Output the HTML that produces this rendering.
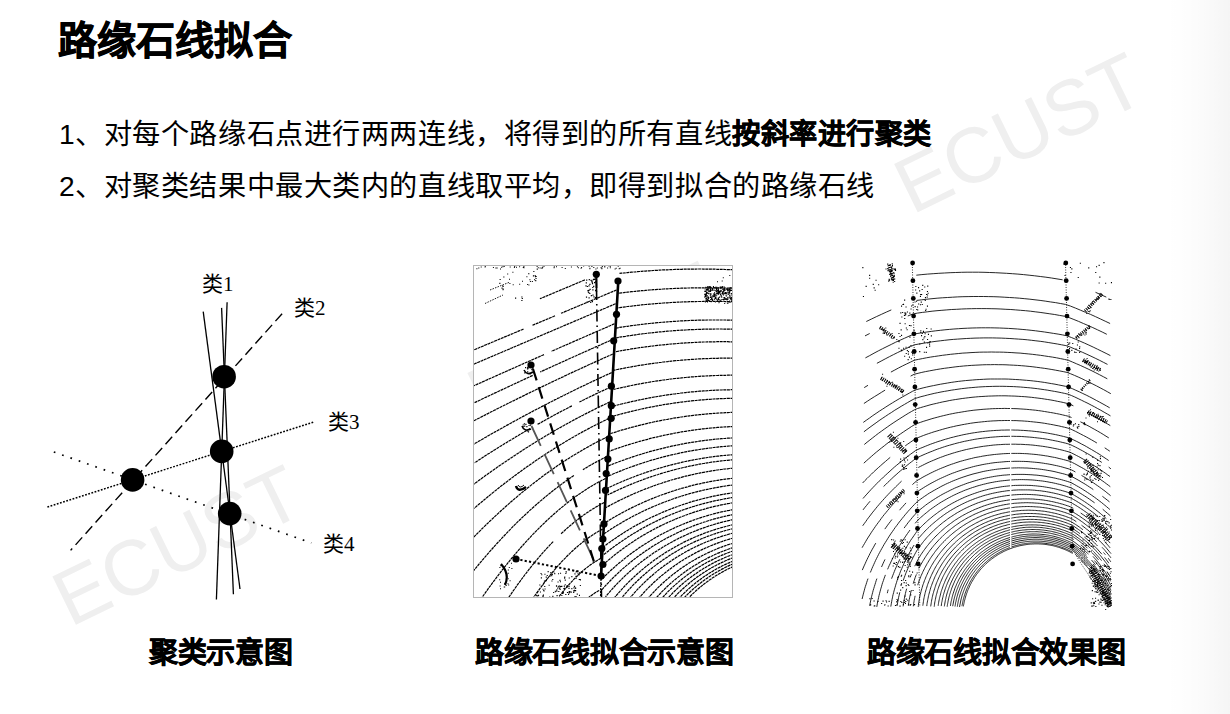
<!DOCTYPE html>
<html lang="zh-CN"><head><meta charset="utf-8">
<style>
html,body{margin:0;padding:0;background:#fff;}
body{width:1230px;height:714px;position:relative;overflow:hidden;font-family:"Liberation Sans",sans-serif;color:#000;}
.abs{position:absolute;}
.t{position:absolute;white-space:nowrap;line-height:1;}
#shade{position:absolute;left:1165px;top:0;width:65px;height:714px;background:linear-gradient(to right,rgba(0,0,0,0) 0%,rgba(0,0,0,0.006) 35%,rgba(0,0,0,0.018) 65%,rgba(0,0,0,0.03) 85%,rgba(0,0,0,0.04) 100%);}
.lbl{position:absolute;font-family:"Liberation Serif",serif;font-size:21px;line-height:1;white-space:nowrap;}
</style></head><body>
<svg class="abs" style="left:0;top:0" width="1230" height="714">
<g fill="#efefef" font-family="Liberation Sans" font-size="78">
<text x="912" y="215" transform="rotate(-26 912 215)">ECUST</text>
<text x="70.3" y="627.5" transform="rotate(-26 70.3 627.5)">ECUST</text>
<text x="485.3" y="424" transform="rotate(-26 485.3 424)">ECUST</text>
</g></svg>
<div class="t" id="title" style="left:58px;top:20.5px;font-size:39px;font-weight:bold;-webkit-text-stroke:0.8px #000;">路缘石线拟合</div>
<div class="t" id="l1" style="left:59px;top:120.3px;font-size:28.2px;letter-spacing:0.56px;">1、对每个路缘石点进行两两连线，将得到的所有直线<b style="-webkit-text-stroke:0.5px #000">按斜率进行聚类</b></div>
<div class="t" id="l2" style="left:59px;top:172px;font-size:28.2px;letter-spacing:0.56px;">2、对聚类结果中最大类内的直线取平均，即得到拟合的路缘石线</div>
<svg class="abs" style="left:0;top:0" width="420" height="620" viewBox="0 0 420 620">
<line x1="203.2" y1="311.7" x2="240" y2="589" stroke="#000" stroke-width="1.3"/>
<line x1="221.6" y1="307.9" x2="233.4" y2="594.2" stroke="#000" stroke-width="1.3"/>
<line x1="227.1" y1="302.3" x2="216.4" y2="599.6" stroke="#000" stroke-width="1.3"/>
<line x1="282.1" y1="313.7" x2="70.6" y2="550.4" stroke="#000" stroke-width="1.4" stroke-dasharray="10 5"/>
<line x1="47.4" y1="507" x2="314" y2="422" stroke="#000" stroke-width="1.5" stroke-dasharray="1.8 1.5"/>
<line x1="53.8" y1="452" x2="311.3" y2="542.9" stroke="#000" stroke-width="1.7" stroke-dasharray="1.7 7.1"/>
<circle cx="224.1" cy="376.7" r="11.8" fill="#000"/>
<circle cx="221.7" cy="451.4" r="11.8" fill="#000"/>
<circle cx="132.6" cy="479.9" r="11.8" fill="#000"/>
<circle cx="229.7" cy="513.6" r="11.8" fill="#000"/>
</svg>
<div class="lbl" style="left:202px;top:274.2px;">类1</div>
<div class="lbl" style="left:294px;top:298.2px;">类2</div>
<div class="lbl" style="left:328px;top:411.8px;">类3</div>
<div class="lbl" style="left:323px;top:534.3px;">类4</div>
<div class="abs" id="img2" style="left:473px;top:265px;width:258px;height:331px;border:1px solid #b5b5b5;background:#fff;overflow:hidden;"><svg width="258" height="331" viewBox="0 0 258 331" style="position:absolute;left:0;top:0">
<path d="M259.5,3.8 L257.5,3.7 L255.5,3.6 L253.5,3.6 L251.5,3.5 L249.5,3.4 L247.5,3.4 L245.5,3.3 L243.5,3.3 L241.5,3.2 L239.5,3.2 L237.5,3.1 L235.5,3.1 L233.5,3.1 L231.5,3.1 L229.5,3.1 L227.5,3.0 L225.5,3.0 L223.5,3.0 L221.5,3.1 L219.5,3.1 L217.5,3.1 L215.5,3.1 L213.5,3.1 L211.5,3.2 L209.5,3.2 L207.5,3.3 L205.5,3.3 L203.5,3.4 L201.5,3.4 L199.5,3.5 L197.5,3.6 L195.5,3.7 L193.5,3.8 L191.5,3.8 L189.5,3.9 L187.5,4.0 L185.5,4.1 L183.5,4.3 L181.5,4.4 L179.5,4.5 L177.5,4.6 L175.5,4.8 L173.5,4.9 L171.5,5.1 L169.5,5.2 L167.5,5.4 L165.5,5.5 L163.5,5.7 L161.5,5.9 L159.5,6.0 L157.5,6.2 L155.5,6.4 L153.5,6.6 L151.5,6.8 L149.5,7.0 L147.5,7.2 L145.5,7.4 M259.5,22.3 L257.5,22.2 L255.5,22.2 L253.5,22.1 L251.5,22.0 L249.5,22.0 L247.5,21.9 L245.5,21.9 L243.5,21.9 L241.5,21.8 L239.5,21.8 L237.5,21.8 L235.5,21.8 L233.5,21.8 L231.5,21.8 L229.5,21.8 L227.5,21.8 L225.5,21.8 L223.5,21.8 L221.5,21.8 L219.5,21.9 L217.5,21.9 L215.5,22.0 L213.5,22.0 L211.5,22.1 L209.5,22.1 L207.5,22.2 L205.5,22.3 L203.5,22.3 L201.5,22.4 L199.5,22.5 L197.5,22.6 L195.5,22.7 L193.5,22.8 L191.5,22.9 L189.5,23.0 L187.5,23.2 L185.5,23.3 L183.5,23.4 L181.5,23.6 L179.5,23.7 L177.5,23.9 L175.5,24.0 L173.5,24.2 L171.5,24.4 L169.5,24.6 L167.5,24.7 L165.5,24.9 L163.5,25.1 L161.5,25.3 L159.5,25.5 L157.5,25.7 L155.5,26.0 L153.5,26.2 L151.5,26.4 L149.5,26.7 L147.5,26.9 L145.5,27.1 L143.5,27.4 M259.5,35.8 L257.5,35.7 L255.5,35.7 L253.5,35.6 L251.5,35.6 L249.5,35.5 L247.5,35.5 L245.5,35.5 L243.5,35.4 L241.5,35.4 L239.5,35.4 L237.5,35.4 L235.5,35.4 L233.5,35.4 L231.5,35.4 L229.5,35.4 L227.5,35.5 L225.5,35.5 L223.5,35.5 L221.5,35.6 L219.5,35.6 L217.5,35.7 L215.5,35.7 L213.5,35.8 L211.5,35.9 L209.5,35.9 L207.5,36.0 L205.5,36.1 L203.5,36.2 L201.5,36.3 L199.5,36.4 L197.5,36.5 L195.5,36.6 L193.5,36.8 L191.5,36.9 L189.5,37.0 L187.5,37.2 L185.5,37.3 L183.5,37.5 L181.5,37.6 L179.5,37.8 L177.5,38.0 L175.5,38.2 L173.5,38.4 L171.5,38.5 L169.5,38.7 L167.5,38.9 L165.5,39.2 L163.5,39.4 L161.5,39.6 L159.5,39.8 L157.5,40.1 L155.5,40.3 L153.5,40.5 L151.5,40.8 L149.5,41.1 L147.5,41.3 L145.5,41.6 L143.5,41.9 M259.5,54.2 L257.5,54.2 L255.5,54.1 L253.5,54.1 L251.5,54.0 L249.5,54.0 L247.5,54.0 L245.5,54.0 L243.5,54.0 L241.5,54.0 L239.5,54.0 L237.5,54.0 L235.5,54.0 L233.5,54.0 L231.5,54.1 L229.5,54.1 L227.5,54.1 L225.5,54.2 L223.5,54.2 L221.5,54.3 L219.5,54.4 L217.5,54.4 L215.5,54.5 L213.5,54.6 L211.5,54.7 L209.5,54.8 L207.5,54.9 L205.5,55.0 L203.5,55.2 L201.5,55.3 L199.5,55.4 L197.5,55.6 L195.5,55.7 L193.5,55.8 L191.5,56.0 L189.5,56.2 L187.5,56.3 L185.5,56.5 L183.5,56.7 L181.5,56.9 L179.5,57.1 L177.5,57.3 L175.5,57.5 L173.5,57.7 L171.5,57.9 L169.5,58.2 L167.5,58.4 L165.5,58.7 L163.5,58.9 L161.5,59.2 L159.5,59.4 L157.5,59.7 L155.5,60.0 L153.5,60.3 L151.5,60.5 L149.5,60.8 L147.5,61.1 L145.5,61.4 L143.5,61.8 L141.5,62.1 M259.5,63.2 L257.5,63.2 L255.5,63.1 L253.5,63.1 L251.5,63.1 L249.5,63.1 L247.5,63.0 L245.5,63.0 L243.5,63.0 L241.5,63.0 L239.5,63.1 L237.5,63.1 L235.5,63.1 L233.5,63.1 L231.5,63.2 L229.5,63.2 L227.5,63.3 L225.5,63.3 L223.5,63.4 L221.5,63.5 L219.5,63.6 L217.5,63.7 L215.5,63.7 L213.5,63.8 L211.5,64.0 L209.5,64.1 L207.5,64.2 L205.5,64.3 L203.5,64.4 L201.5,64.6 L199.5,64.7 L197.5,64.9 L195.5,65.0 L193.5,65.2 L191.5,65.4 L189.5,65.6 L187.5,65.8 L185.5,65.9 L183.5,66.1 L181.5,66.4 L179.5,66.6 L177.5,66.8 L175.5,67.0 L173.5,67.2 L171.5,67.5 L169.5,67.7 L167.5,68.0 L165.5,68.2 L163.5,68.5 L161.5,68.8 L159.5,69.1 L157.5,69.4 L155.5,69.6 L153.5,69.9 L151.5,70.3 L149.5,70.6 L147.5,70.9 L145.5,71.2 L143.5,71.6 L141.5,71.9 M259.5,75.8 L257.5,75.8 L255.5,75.8 L253.5,75.7 L251.5,75.7 L249.5,75.7 L247.5,75.7 L245.5,75.7 L243.5,75.7 L241.5,75.8 L239.5,75.8 L237.5,75.8 L235.5,75.9 L233.5,75.9 L231.5,76.0 L229.5,76.0 L227.5,76.1 L225.5,76.2 L223.5,76.3 L221.5,76.4 L219.5,76.5 L217.5,76.6 L215.5,76.7 L213.5,76.8 L211.5,76.9 L209.5,77.1 L207.5,77.2 L205.5,77.3 L203.5,77.5 L201.5,77.7 L199.5,77.8 L197.5,78.0 L195.5,78.2 L193.5,78.4 L191.5,78.6 L189.5,78.8 L187.5,79.0 L185.5,79.2 L183.5,79.4 L181.5,79.6 L179.5,79.9 L177.5,80.1 L175.5,80.4 L173.5,80.6 L171.5,80.9 L169.5,81.2 L167.5,81.4 L165.5,81.7 L163.5,82.0 L161.5,82.3 L159.5,82.6 L157.5,82.9 L155.5,83.3 L153.5,83.6 L151.5,83.9 L149.5,84.3 L147.5,84.6 L145.5,85.0 L143.5,85.4 L141.5,85.7 M259.5,92.2 L257.5,92.2 L255.5,92.2 L253.5,92.2 L251.5,92.2 L249.5,92.2 L247.5,92.2 L245.5,92.2 L243.5,92.3 L241.5,92.3 L239.5,92.4 L237.5,92.4 L235.5,92.5 L233.5,92.6 L231.5,92.7 L229.5,92.7 L227.5,92.8 L225.5,92.9 L223.5,93.0 L221.5,93.2 L219.5,93.3 L217.5,93.4 L215.5,93.6 L213.5,93.7 L211.5,93.8 L209.5,94.0 L207.5,94.2 L205.5,94.4 L203.5,94.5 L201.5,94.7 L199.5,94.9 L197.5,95.1 L195.5,95.3 L193.5,95.6 L191.5,95.8 L189.5,96.0 L187.5,96.3 L185.5,96.5 L183.5,96.8 L181.5,97.0 L179.5,97.3 L177.5,97.6 L175.5,97.9 L173.5,98.2 L171.5,98.5 L169.5,98.8 L167.5,99.1 L165.5,99.4 L163.5,99.7 L161.5,100.1 L159.5,100.4 L157.5,100.8 L155.5,101.2 L153.5,101.5 L151.5,101.9 L149.5,102.3 L147.5,102.7 L145.5,103.1 L143.5,103.5 L141.5,103.9 L139.5,104.3 M259.5,109.2 L257.5,109.2 L255.5,109.2 L253.5,109.2 L251.5,109.3 L249.5,109.3 L247.5,109.3 L245.5,109.4 L243.5,109.5 L241.5,109.5 L239.5,109.6 L237.5,109.7 L235.5,109.8 L233.5,109.9 L231.5,110.0 L229.5,110.1 L227.5,110.2 L225.5,110.3 L223.5,110.5 L221.5,110.6 L219.5,110.8 L217.5,110.9 L215.5,111.1 L213.5,111.3 L211.5,111.5 L209.5,111.7 L207.5,111.9 L205.5,112.1 L203.5,112.3 L201.5,112.5 L199.5,112.7 L197.5,113.0 L195.5,113.2 L193.5,113.5 L191.5,113.8 L189.5,114.0 L187.5,114.3 L185.5,114.6 L183.5,114.9 L181.5,115.2 L179.5,115.5 L177.5,115.8 L175.5,116.2 L173.5,116.5 L171.5,116.8 L169.5,117.2 L167.5,117.6 L165.5,117.9 L163.5,118.3 L161.5,118.7 L159.5,119.1 L157.5,119.5 L155.5,119.9 L153.5,120.3 L151.5,120.8 L149.5,121.2 L147.5,121.6 L145.5,122.1 L143.5,122.5 L141.5,123.0 L139.5,123.5 M259.5,123.7 L257.5,123.7 L255.5,123.8 L253.5,123.8 L251.5,123.8 L249.5,123.9 L247.5,124.0 L245.5,124.0 L243.5,124.1 L241.5,124.2 L239.5,124.3 L237.5,124.4 L235.5,124.5 L233.5,124.7 L231.5,124.8 L229.5,124.9 L227.5,125.1 L225.5,125.2 L223.5,125.4 L221.5,125.6 L219.5,125.8 L217.5,125.9 L215.5,126.1 L213.5,126.4 L211.5,126.6 L209.5,126.8 L207.5,127.0 L205.5,127.3 L203.5,127.5 L201.5,127.8 L199.5,128.0 L197.5,128.3 L195.5,128.6 L193.5,128.9 L191.5,129.2 L189.5,129.5 L187.5,129.8 L185.5,130.2 L183.5,130.5 L181.5,130.8 L179.5,131.2 L177.5,131.5 L175.5,131.9 L173.5,132.3 L171.5,132.7 L169.5,133.1 L167.5,133.5 L165.5,133.9 L163.5,134.3 L161.5,134.8 L159.5,135.2 L157.5,135.6 L155.5,136.1 L153.5,136.6 L151.5,137.0 L149.5,137.5 L147.5,138.0 L145.5,138.5 L143.5,139.0 L141.5,139.6 L139.5,140.1 L137.5,140.6 M259.5,132.3 L257.5,132.3 L255.5,132.4 L253.5,132.4 L251.5,132.5 L249.5,132.6 L247.5,132.6 L245.5,132.7 L243.5,132.8 L241.5,132.9 L239.5,133.0 L237.5,133.2 L235.5,133.3 L233.5,133.4 L231.5,133.6 L229.5,133.8 L227.5,133.9 L225.5,134.1 L223.5,134.3 L221.5,134.5 L219.5,134.7 L217.5,134.9 L215.5,135.1 L213.5,135.3 L211.5,135.6 L209.5,135.8 L207.5,136.1 L205.5,136.3 L203.5,136.6 L201.5,136.9 L199.5,137.2 L197.5,137.5 L195.5,137.8 L193.5,138.1 L191.5,138.4 L189.5,138.7 L187.5,139.1 L185.5,139.4 L183.5,139.8 L181.5,140.2 L179.5,140.6 L177.5,140.9 L175.5,141.3 L173.5,141.7 L171.5,142.2 L169.5,142.6 L167.5,143.0 L165.5,143.5 L163.5,143.9 L161.5,144.4 L159.5,144.8 L157.5,145.3 L155.5,145.8 L153.5,146.3 L151.5,146.8 L149.5,147.3 L147.5,147.9 L145.5,148.4 L143.5,149.0 L141.5,149.5 L139.5,150.1 L137.5,150.7 M259.5,146.4 L257.5,146.4 L255.5,146.5 L253.5,146.6 L251.5,146.7 L249.5,146.8 L247.5,146.9 L245.5,147.0 L243.5,147.1 L241.5,147.3 L239.5,147.4 L237.5,147.6 L235.5,147.7 L233.5,147.9 L231.5,148.1 L229.5,148.3 L227.5,148.5 L225.5,148.7 L223.5,148.9 L221.5,149.1 L219.5,149.3 L217.5,149.6 L215.5,149.8 L213.5,150.1 L211.5,150.4 L209.5,150.7 L207.5,151.0 L205.5,151.3 L203.5,151.6 L201.5,151.9 L199.5,152.2 L197.5,152.6 L195.5,152.9 L193.5,153.3 L191.5,153.6 L189.5,154.0 L187.5,154.4 L185.5,154.8 L183.5,155.2 L181.5,155.6 L179.5,156.0 L177.5,156.5 L175.5,156.9 L173.5,157.4 L171.5,157.9 L169.5,158.3 L167.5,158.8 L165.5,159.3 L163.5,159.8 L161.5,160.3 L159.5,160.9 L157.5,161.4 L155.5,161.9 L153.5,162.5 L151.5,163.1 L149.5,163.7 L147.5,164.2 L145.5,164.8 L143.5,165.4 L141.5,166.1 L139.5,166.7 L137.5,167.3 L135.5,168.0 M259.5,160.5 L257.5,160.6 L255.5,160.7 L253.5,160.8 L251.5,160.9 L249.5,161.0 L247.5,161.1 L245.5,161.3 L243.5,161.4 L241.5,161.6 L239.5,161.8 L237.5,162.0 L235.5,162.2 L233.5,162.4 L231.5,162.6 L229.5,162.8 L227.5,163.0 L225.5,163.3 L223.5,163.5 L221.5,163.8 L219.5,164.1 L217.5,164.4 L215.5,164.7 L213.5,165.0 L211.5,165.3 L209.5,165.6 L207.5,165.9 L205.5,166.3 L203.5,166.7 L201.5,167.0 L199.5,167.4 L197.5,167.8 L195.5,168.2 L193.5,168.6 L191.5,169.0 L189.5,169.4 L187.5,169.9 L185.5,170.3 L183.5,170.8 L181.5,171.3 L179.5,171.7 L177.5,172.2 L175.5,172.7 L173.5,173.3 L171.5,173.8 L169.5,174.3 L167.5,174.9 L165.5,175.4 L163.5,176.0 L161.5,176.6 L159.5,177.2 L157.5,177.8 L155.5,178.4 L153.5,179.0 L151.5,179.6 L149.5,180.3 L147.5,181.0 L145.5,181.6 L143.5,182.3 L141.5,183.0 L139.5,183.7 L137.5,184.4 L135.5,185.2 M259.5,171.9 L257.5,172.0 L255.5,172.1 L253.5,172.2 L251.5,172.4 L249.5,172.5 L247.5,172.7 L245.5,172.9 L243.5,173.0 L241.5,173.2 L239.5,173.4 L237.5,173.7 L235.5,173.9 L233.5,174.1 L231.5,174.4 L229.5,174.6 L227.5,174.9 L225.5,175.2 L223.5,175.5 L221.5,175.8 L219.5,176.1 L217.5,176.4 L215.5,176.7 L213.5,177.1 L211.5,177.4 L209.5,177.8 L207.5,178.2 L205.5,178.6 L203.5,179.0 L201.5,179.4 L199.5,179.8 L197.5,180.2 L195.5,180.7 L193.5,181.1 L191.5,181.6 L189.5,182.1 L187.5,182.6 L185.5,183.1 L183.5,183.6 L181.5,184.1 L179.5,184.6 L177.5,185.2 L175.5,185.7 L173.5,186.3 L171.5,186.9 L169.5,187.5 L167.5,188.1 L165.5,188.7 L163.5,189.3 L161.5,190.0 L159.5,190.6 L157.5,191.3 L155.5,192.0 L153.5,192.6 L151.5,193.3 L149.5,194.1 L147.5,194.8 L145.5,195.5 L143.5,196.3 L141.5,197.0 L139.5,197.8 L137.5,198.6 L135.5,199.4 L133.5,200.2 M259.5,179.8 L257.5,179.9 L255.5,180.0 L253.5,180.2 L251.5,180.3 L249.5,180.5 L247.5,180.7 L245.5,180.9 L243.5,181.1 L241.5,181.3 L239.5,181.5 L237.5,181.8 L235.5,182.0 L233.5,182.3 L231.5,182.6 L229.5,182.9 L227.5,183.1 L225.5,183.5 L223.5,183.8 L221.5,184.1 L219.5,184.4 L217.5,184.8 L215.5,185.1 L213.5,185.5 L211.5,185.9 L209.5,186.3 L207.5,186.7 L205.5,187.1 L203.5,187.6 L201.5,188.0 L199.5,188.5 L197.5,188.9 L195.5,189.4 L193.5,189.9 L191.5,190.4 L189.5,190.9 L187.5,191.4 L185.5,192.0 L183.5,192.5 L181.5,193.1 L179.5,193.7 L177.5,194.2 L175.5,194.8 L173.5,195.5 L171.5,196.1 L169.5,196.7 L167.5,197.4 L165.5,198.0 L163.5,198.7 L161.5,199.4 L159.5,200.1 L157.5,200.8 L155.5,201.5 L153.5,202.3 L151.5,203.0 L149.5,203.8 L147.5,204.6 L145.5,205.4 L143.5,206.2 L141.5,207.0 L139.5,207.8 L137.5,208.7 L135.5,209.5 L133.5,210.4 M259.5,188.7 L257.5,188.8 L255.5,189.0 L253.5,189.2 L251.5,189.3 L249.5,189.5 L247.5,189.7 L245.5,190.0 L243.5,190.2 L241.5,190.4 L239.5,190.7 L237.5,191.0 L235.5,191.2 L233.5,191.5 L231.5,191.8 L229.5,192.1 L227.5,192.5 L225.5,192.8 L223.5,193.2 L221.5,193.5 L219.5,193.9 L217.5,194.3 L215.5,194.7 L213.5,195.1 L211.5,195.5 L209.5,195.9 L207.5,196.4 L205.5,196.9 L203.5,197.3 L201.5,197.8 L199.5,198.3 L197.5,198.8 L195.5,199.3 L193.5,199.9 L191.5,200.4 L189.5,201.0 L187.5,201.6 L185.5,202.1 L183.5,202.7 L181.5,203.3 L179.5,204.0 L177.5,204.6 L175.5,205.3 L173.5,205.9 L171.5,206.6 L169.5,207.3 L167.5,208.0 L165.5,208.7 L163.5,209.4 L161.5,210.2 L159.5,211.0 L157.5,211.7 L155.5,212.5 L153.5,213.3 L151.5,214.1 L149.5,215.0 L147.5,215.8 L145.5,216.7 L143.5,217.5 L141.5,218.4 L139.5,219.3 L137.5,220.3 L135.5,221.2 L133.5,222.2 M259.5,193.8 L257.5,193.9 L255.5,194.1 L253.5,194.3 L251.5,194.5 L249.5,194.7 L247.5,194.9 L245.5,195.2 L243.5,195.4 L241.5,195.7 L239.5,195.9 L237.5,196.2 L235.5,196.5 L233.5,196.8 L231.5,197.2 L229.5,197.5 L227.5,197.8 L225.5,198.2 L223.5,198.6 L221.5,199.0 L219.5,199.3 L217.5,199.8 L215.5,200.2 L213.5,200.6 L211.5,201.1 L209.5,201.5 L207.5,202.0 L205.5,202.5 L203.5,203.0 L201.5,203.5 L199.5,204.0 L197.5,204.5 L195.5,205.1 L193.5,205.6 L191.5,206.2 L189.5,206.8 L187.5,207.4 L185.5,208.0 L183.5,208.7 L181.5,209.3 L179.5,210.0 L177.5,210.6 L175.5,211.3 L173.5,212.0 L171.5,212.7 L169.5,213.4 L167.5,214.2 L165.5,214.9 L163.5,215.7 L161.5,216.5 L159.5,217.3 L157.5,218.1 L155.5,218.9 L153.5,219.8 L151.5,220.6 L149.5,221.5 L147.5,222.4 L145.5,223.3 L143.5,224.2 L141.5,225.1 L139.5,226.1 L137.5,227.1 L135.5,228.0 L133.5,229.0 M259.5,202.2 L257.5,202.3 L255.5,202.5 L253.5,202.8 L251.5,203.0 L249.5,203.2 L247.5,203.5 L245.5,203.7 L243.5,204.0 L241.5,204.3 L239.5,204.6 L237.5,204.9 L235.5,205.3 L233.5,205.6 L231.5,206.0 L229.5,206.3 L227.5,206.7 L225.5,207.1 L223.5,207.5 L221.5,207.9 L219.5,208.4 L217.5,208.8 L215.5,209.3 L213.5,209.8 L211.5,210.2 L209.5,210.7 L207.5,211.3 L205.5,211.8 L203.5,212.3 L201.5,212.9 L199.5,213.5 L197.5,214.0 L195.5,214.6 L193.5,215.2 L191.5,215.9 L189.5,216.5 L187.5,217.2 L185.5,217.8 L183.5,218.5 L181.5,219.2 L179.5,219.9 L177.5,220.7 L175.5,221.4 L173.5,222.2 L171.5,222.9 L169.5,223.7 L167.5,224.5 L165.5,225.3 L163.5,226.2 L161.5,227.0 L159.5,227.9 L157.5,228.8 L155.5,229.7 L153.5,230.6 L151.5,231.5 L149.5,232.5 L147.5,233.5 L145.5,234.4 L143.5,235.4 L141.5,236.5 L139.5,237.5 L137.5,238.5 L135.5,239.6 L133.5,240.7 L131.5,241.8 M259.5,212.1 L257.5,212.4 L255.5,212.6 L253.5,212.9 L251.5,213.1 L249.5,213.4 L247.5,213.7 L245.5,214.0 L243.5,214.3 L241.5,214.6 L239.5,215.0 L237.5,215.3 L235.5,215.7 L233.5,216.1 L231.5,216.5 L229.5,216.9 L227.5,217.3 L225.5,217.8 L223.5,218.2 L221.5,218.7 L219.5,219.2 L217.5,219.7 L215.5,220.2 L213.5,220.8 L211.5,221.3 L209.5,221.9 L207.5,222.4 L205.5,223.0 L203.5,223.6 L201.5,224.2 L199.5,224.9 L197.5,225.5 L195.5,226.2 L193.5,226.9 L191.5,227.6 L189.5,228.3 L187.5,229.0 L185.5,229.7 L183.5,230.5 L181.5,231.3 L179.5,232.1 L177.5,232.9 L175.5,233.7 L173.5,234.5 L171.5,235.4 L169.5,236.3 L167.5,237.2 L165.5,238.1 L163.5,239.0 L161.5,240.0 L159.5,240.9 L157.5,241.9 L155.5,242.9 L153.5,243.9 L151.5,245.0 L149.5,246.0 L147.5,247.1 L145.5,248.2 L143.5,249.3 L141.5,250.4 L139.5,251.6 L137.5,252.8 L135.5,254.0 L133.5,255.2 L131.5,256.4 M259.5,218.9 L257.5,219.2 L255.5,219.4 L253.5,219.7 L251.5,220.0 L249.5,220.3 L247.5,220.6 L245.5,221.0 L243.5,221.3 L241.5,221.7 L239.5,222.1 L237.5,222.5 L235.5,222.9 L233.5,223.3 L231.5,223.7 L229.5,224.2 L227.5,224.6 L225.5,225.1 L223.5,225.6 L221.5,226.1 L219.5,226.6 L217.5,227.2 L215.5,227.7 L213.5,228.3 L211.5,228.9 L209.5,229.5 L207.5,230.1 L205.5,230.8 L203.5,231.4 L201.5,232.1 L199.5,232.8 L197.5,233.5 L195.5,234.2 L193.5,234.9 L191.5,235.7 L189.5,236.4 L187.5,237.2 L185.5,238.0 L183.5,238.8 L181.5,239.7 L179.5,240.5 L177.5,241.4 L175.5,242.3 L173.5,243.2 L171.5,244.1 L169.5,245.0 L167.5,246.0 L165.5,247.0 L163.5,248.0 L161.5,249.0 L159.5,250.0 L157.5,251.1 L155.5,252.2 L153.5,253.3 L151.5,254.4 L149.5,255.5 L147.5,256.7 L145.5,257.9 L143.5,259.1 L141.5,260.3 L139.5,261.6 L137.5,262.8 L135.5,264.1 L133.5,265.5 L131.5,266.8 L129.5,268.2 M259.5,226.7 L257.5,227.0 L255.5,227.3 L253.5,227.6 L251.5,227.9 L249.5,228.3 L247.5,228.6 L245.5,229.0 L243.5,229.4 L241.5,229.8 L239.5,230.2 L237.5,230.6 L235.5,231.1 L233.5,231.6 L231.5,232.0 L229.5,232.5 L227.5,233.0 L225.5,233.6 L223.5,234.1 L221.5,234.7 L219.5,235.2 L217.5,235.8 L215.5,236.4 L213.5,237.1 L211.5,237.7 L209.5,238.4 L207.5,239.1 L205.5,239.7 L203.5,240.5 L201.5,241.2 L199.5,241.9 L197.5,242.7 L195.5,243.5 L193.5,244.3 L191.5,245.1 L189.5,245.9 L187.5,246.8 L185.5,247.7 L183.5,248.6 L181.5,249.5 L179.5,250.4 L177.5,251.4 L175.5,252.3 L173.5,253.3 L171.5,254.3 L169.5,255.4 L167.5,256.4 L165.5,257.5 L163.5,258.6 L161.5,259.7 L159.5,260.8 L157.5,262.0 L155.5,263.2 L153.5,264.4 L151.5,265.6 L149.5,266.9 L147.5,268.2 L145.5,269.5 L143.5,270.8 L141.5,272.2 L139.5,273.5 L137.5,274.9 L135.5,276.4 L133.5,277.8 L131.5,279.3 L129.5,280.9 M259.5,231.4 L257.5,231.7 L255.5,232.0 L253.5,232.4 L251.5,232.7 L249.5,233.1 L247.5,233.5 L245.5,233.9 L243.5,234.3 L241.5,234.7 L239.5,235.1 L237.5,235.6 L235.5,236.1 L233.5,236.6 L231.5,237.1 L229.5,237.6 L227.5,238.1 L225.5,238.7 L223.5,239.3 L221.5,239.9 L219.5,240.5 L217.5,241.1 L215.5,241.8 L213.5,242.4 L211.5,243.1 L209.5,243.8 L207.5,244.5 L205.5,245.2 L203.5,246.0 L201.5,246.8 L199.5,247.6 L197.5,248.4 L195.5,249.2 L193.5,250.0 L191.5,250.9 L189.5,251.8 L187.5,252.7 L185.5,253.6 L183.5,254.6 L181.5,255.5 L179.5,256.5 L177.5,257.5 L175.5,258.5 L173.5,259.6 L171.5,260.7 L169.5,261.8 L167.5,262.9 L165.5,264.0 L163.5,265.2 L161.5,266.4 L159.5,267.6 L157.5,268.8 L155.5,270.1 L153.5,271.3 L151.5,272.7 L149.5,274.0 L147.5,275.4 L145.5,276.7 L143.5,278.2 L141.5,279.6 L139.5,281.1 L137.5,282.6 L135.5,284.1 L133.5,285.7 L131.5,287.3 L129.5,288.9 M259.5,236.7 L257.5,237.0 L255.5,237.4 L253.5,237.7 L251.5,238.1 L249.5,238.5 L247.5,238.9 L245.5,239.3 L243.5,239.8 L241.5,240.2 L239.5,240.7 L237.5,241.2 L235.5,241.7 L233.5,242.2 L231.5,242.8 L229.5,243.4 L227.5,243.9 L225.5,244.5 L223.5,245.1 L221.5,245.8 L219.5,246.4 L217.5,247.1 L215.5,247.8 L213.5,248.5 L211.5,249.2 L209.5,250.0 L207.5,250.7 L205.5,251.5 L203.5,252.3 L201.5,253.1 L199.5,254.0 L197.5,254.8 L195.5,255.7 L193.5,256.6 L191.5,257.5 L189.5,258.5 L187.5,259.4 L185.5,260.4 L183.5,261.4 L181.5,262.5 L179.5,263.5 L177.5,264.6 L175.5,265.7 L173.5,266.8 L171.5,268.0 L169.5,269.1 L167.5,270.3 L165.5,271.6 L163.5,272.8 L161.5,274.1 L159.5,275.4 L157.5,276.7 L155.5,278.1 L153.5,279.4 L151.5,280.8 L149.5,282.3 L147.5,283.8 L145.5,285.2 L143.5,286.8 L141.5,288.3 L139.5,289.9 L137.5,291.6 L135.5,293.2 L133.5,294.9 L131.5,296.6 L129.5,298.4 M259.5,243.5 L257.5,243.9 L255.5,244.3 L253.5,244.6 L251.5,245.1 L249.5,245.5 L247.5,245.9 L245.5,246.4 L243.5,246.9 L241.5,247.4 L239.5,247.9 L237.5,248.5 L235.5,249.0 L233.5,249.6 L231.5,250.2 L229.5,250.8 L227.5,251.4 L225.5,252.1 L223.5,252.7 L221.5,253.4 L219.5,254.1 L217.5,254.9 L215.5,255.6 L213.5,256.4 L211.5,257.2 L209.5,258.0 L207.5,258.8 L205.5,259.7 L203.5,260.5 L201.5,261.4 L199.5,262.4 L197.5,263.3 L195.5,264.3 L193.5,265.2 L191.5,266.3 L189.5,267.3 L187.5,268.3 L185.5,269.4 L183.5,270.5 L181.5,271.6 L179.5,272.8 L177.5,274.0 L175.5,275.2 L173.5,276.4 L171.5,277.7 L169.5,279.0 L167.5,280.3 L165.5,281.6 L163.5,283.0 L161.5,284.4 L159.5,285.8 L157.5,287.3 L155.5,288.8 L153.5,290.3 L151.5,291.9 L149.5,293.5 L147.5,295.1 L145.5,296.7 L143.5,298.4 L141.5,300.2 L139.5,302.0 L137.5,303.8 L135.5,305.6 L133.5,307.5 L131.5,309.5 L129.5,311.5 L127.5,313.5 M259.5,248.5 L257.5,248.9 L255.5,249.3 L253.5,249.7 L251.5,250.2 L249.5,250.6 L247.5,251.1 L245.5,251.6 L243.5,252.1 L241.5,252.7 L239.5,253.2 L237.5,253.8 L235.5,254.4 L233.5,255.0 L231.5,255.7 L229.5,256.3 L227.5,257.0 L225.5,257.7 L223.5,258.4 L221.5,259.1 L219.5,259.9 L217.5,260.7 L215.5,261.5 L213.5,262.3 L211.5,263.1 L209.5,264.0 L207.5,264.9 L205.5,265.8 L203.5,266.7 L201.5,267.7 L199.5,268.7 L197.5,269.7 L195.5,270.7 L193.5,271.7 L191.5,272.8 L189.5,273.9 L187.5,275.1 L185.5,276.2 L183.5,277.4 L181.5,278.6 L179.5,279.8 L177.5,281.1 L175.5,282.4 L173.5,283.7 L171.5,285.1 L169.5,286.5 L167.5,287.9 L165.5,289.3 L163.5,290.8 L161.5,292.3 L159.5,293.9 L157.5,295.4 L155.5,297.1 L153.5,298.7 L151.5,300.4 L149.5,302.1 L147.5,303.9 L145.5,305.7 L143.5,307.6 L141.5,309.5 L139.5,311.4 L137.5,313.4 L135.5,315.5 L133.5,317.6 L131.5,319.7 L129.5,321.9 L127.5,324.2 M259.5,253.5 L257.5,253.9 L255.5,254.4 L253.5,254.8 L251.5,255.3 L249.5,255.8 L247.5,256.3 L245.5,256.8 L243.5,257.4 L241.5,258.0 L239.5,258.6 L237.5,259.2 L235.5,259.8 L233.5,260.5 L231.5,261.2 L229.5,261.9 L227.5,262.6 L225.5,263.3 L223.5,264.1 L221.5,264.9 L219.5,265.7 L217.5,266.5 L215.5,267.4 L213.5,268.3 L211.5,269.2 L209.5,270.1 L207.5,271.0 L205.5,272.0 L203.5,273.0 L201.5,274.0 L199.5,275.1 L197.5,276.2 L195.5,277.3 L193.5,278.4 L191.5,279.6 L189.5,280.7 L187.5,282.0 L185.5,283.2 L183.5,284.5 L181.5,285.8 L179.5,287.1 L177.5,288.5 L175.5,289.9 L173.5,291.3 L171.5,292.8 L169.5,294.3 L167.5,295.8 L165.5,297.4 L163.5,299.0 L161.5,300.6 L159.5,302.3 L157.5,304.0 L155.5,305.8 L153.5,307.6 L151.5,309.4 L149.5,311.3 L147.5,313.3 L145.5,315.3 L143.5,317.3 L141.5,319.4 L139.5,321.6 L137.5,323.8 L135.5,326.1 L133.5,328.4 L131.5,330.8 M259.5,258.6 L257.5,259.0 L255.5,259.5 L253.5,260.0 L251.5,260.5 L249.5,261.1 L247.5,261.6 L245.5,262.2 L243.5,262.8 L241.5,263.4 L239.5,264.1 L237.5,264.7 L235.5,265.4 L233.5,266.1 L231.5,266.8 L229.5,267.6 L227.5,268.4 L225.5,269.2 L223.5,270.0 L221.5,270.8 L219.5,271.7 L217.5,272.6 L215.5,273.5 L213.5,274.5 L211.5,275.4 L209.5,276.4 L207.5,277.5 L205.5,278.5 L203.5,279.6 L201.5,280.7 L199.5,281.8 L197.5,283.0 L195.5,284.2 L193.5,285.4 L191.5,286.6 L189.5,287.9 L187.5,289.2 L185.5,290.6 L183.5,291.9 L181.5,293.3 L179.5,294.8 L177.5,296.3 L175.5,297.8 L173.5,299.3 L171.5,300.9 L169.5,302.6 L167.5,304.2 L165.5,306.0 L163.5,307.7 L161.5,309.5 L159.5,311.4 L157.5,313.3 L155.5,315.2 L153.5,317.2 L151.5,319.3 L149.5,321.4 L147.5,323.6 L145.5,325.8 L143.5,328.1 L141.5,330.4 L139.5,332.9 M259.5,262.5 L257.5,263.0 L255.5,263.5 L253.5,264.0 L251.5,264.5 L249.5,265.1 L247.5,265.7 L245.5,266.3 L243.5,266.9 L241.5,267.6 L239.5,268.3 L237.5,269.0 L235.5,269.7 L233.5,270.4 L231.5,271.2 L229.5,272.0 L227.5,272.8 L225.5,273.7 L223.5,274.6 L221.5,275.4 L219.5,276.4 L217.5,277.3 L215.5,278.3 L213.5,279.3 L211.5,280.3 L209.5,281.4 L207.5,282.4 L205.5,283.6 L203.5,284.7 L201.5,285.9 L199.5,287.1 L197.5,288.3 L195.5,289.6 L193.5,290.9 L191.5,292.2 L189.5,293.5 L187.5,294.9 L185.5,296.4 L183.5,297.8 L181.5,299.4 L179.5,300.9 L177.5,302.5 L175.5,304.1 L173.5,305.8 L171.5,307.5 L169.5,309.2 L167.5,311.0 L165.5,312.9 L163.5,314.8 L161.5,316.7 L159.5,318.7 L157.5,320.8 L155.5,322.9 L153.5,325.1 L151.5,327.3 L149.5,329.7 L147.5,332.0 M259.5,267.0 L257.5,267.5 L255.5,268.0 L253.5,268.6 L251.5,269.2 L249.5,269.8 L247.5,270.4 L245.5,271.1 L243.5,271.7 L241.5,272.4 L239.5,273.2 L237.5,273.9 L235.5,274.7 L233.5,275.5 L231.5,276.3 L229.5,277.2 L227.5,278.0 L225.5,278.9 L223.5,279.9 L221.5,280.8 L219.5,281.8 L217.5,282.8 L215.5,283.9 L213.5,284.9 L211.5,286.0 L209.5,287.2 L207.5,288.3 L205.5,289.5 L203.5,290.7 L201.5,292.0 L199.5,293.3 L197.5,294.6 L195.5,296.0 L193.5,297.4 L191.5,298.8 L189.5,300.3 L187.5,301.8 L185.5,303.3 L183.5,304.9 L181.5,306.6 L179.5,308.2 L177.5,310.0 L175.5,311.7 L173.5,313.5 L171.5,315.4 L169.5,317.3 L167.5,319.3 L165.5,321.3 L163.5,323.4 L161.5,325.6 L159.5,327.8 L157.5,330.1 L155.5,332.5 M259.5,272.0 L257.5,272.5 L255.5,273.1 L253.5,273.7 L251.5,274.3 L249.5,275.0 L247.5,275.7 L245.5,276.4 L243.5,277.1 L241.5,277.9 L239.5,278.7 L237.5,279.5 L235.5,280.3 L233.5,281.2 L231.5,282.0 L229.5,283.0 L227.5,283.9 L225.5,284.9 L223.5,285.9 L221.5,286.9 L219.5,288.0 L217.5,289.1 L215.5,290.2 L213.5,291.4 L211.5,292.6 L209.5,293.8 L207.5,295.0 L205.5,296.3 L203.5,297.7 L201.5,299.0 L199.5,300.4 L197.5,301.9 L195.5,303.4 L193.5,304.9 L191.5,306.5 L189.5,308.1 L187.5,309.7 L185.5,311.4 L183.5,313.2 L181.5,315.0 L179.5,316.8 L177.5,318.8 L175.5,320.7 L173.5,322.7 L171.5,324.8 L169.5,327.0 L167.5,329.2 L165.5,331.5 M259.5,277.1 L257.5,277.7 L255.5,278.3 L253.5,278.9 L251.5,279.6 L249.5,280.3 L247.5,281.1 L245.5,281.8 L243.5,282.6 L241.5,283.5 L239.5,284.3 L237.5,285.2 L235.5,286.1 L233.5,287.0 L231.5,288.0 L229.5,289.0 L227.5,290.0 L225.5,291.1 L223.5,292.1 L221.5,293.3 L219.5,294.4 L217.5,295.6 L215.5,296.8 L213.5,298.1 L211.5,299.4 L209.5,300.7 L207.5,302.1 L205.5,303.5 L203.5,305.0 L201.5,306.5 L199.5,308.0 L197.5,309.6 L195.5,311.3 L193.5,312.9 L191.5,314.7 L189.5,316.5 L187.5,318.3 L185.5,320.2 L183.5,322.2 L181.5,324.2 L179.5,326.3 L177.5,328.4 L175.5,330.6 L173.5,332.9 M259.5,281.4 L257.5,282.1 L255.5,282.8 L253.5,283.5 L251.5,284.2 L249.5,285.0 L247.5,285.8 L245.5,286.6 L243.5,287.4 L241.5,288.3 L239.5,289.2 L237.5,290.2 L235.5,291.1 L233.5,292.1 L231.5,293.2 L229.5,294.2 L227.5,295.3 L225.5,296.5 L223.5,297.7 L221.5,298.9 L219.5,300.1 L217.5,301.4 L215.5,302.7 L213.5,304.1 L211.5,305.5 L209.5,306.9 L207.5,308.4 L205.5,310.0 L203.5,311.6 L201.5,313.2 L199.5,314.9 L197.5,316.6 L195.5,318.4 L193.5,320.3 L191.5,322.2 L189.5,324.2 L187.5,326.2 L185.5,328.3 L183.5,330.5 L181.5,332.7 M259.5,284.8 L257.5,285.5 L255.5,286.2 L253.5,287.0 L251.5,287.8 L249.5,288.6 L247.5,289.4 L245.5,290.3 L243.5,291.2 L241.5,292.1 L239.5,293.1 L237.5,294.1 L235.5,295.1 L233.5,296.1 L231.5,297.2 L229.5,298.4 L227.5,299.5 L225.5,300.8 L223.5,302.0 L221.5,303.3 L219.5,304.6 L217.5,306.0 L215.5,307.4 L213.5,308.8 L211.5,310.4 L209.5,311.9 L207.5,313.5 L205.5,315.1 L203.5,316.9 L201.5,318.6 L199.5,320.4 L197.5,322.3 L195.5,324.2 L193.5,326.2 L191.5,328.3 L189.5,330.5 L187.5,332.7 M259.5,288.2 L257.5,289.0 L255.5,289.7 L253.5,290.5 L251.5,291.3 L249.5,292.2 L247.5,293.1 L245.5,294.0 L243.5,294.9 L241.5,295.9 L239.5,296.9 L237.5,298.0 L235.5,299.1 L233.5,300.2 L231.5,301.4 L229.5,302.6 L227.5,303.8 L225.5,305.1 L223.5,306.4 L221.5,307.8 L219.5,309.2 L217.5,310.7 L215.5,312.2 L213.5,313.7 L211.5,315.4 L209.5,317.0 L207.5,318.7 L205.5,320.5 L203.5,322.4 L201.5,324.3 L199.5,326.2 L197.5,328.3 L195.5,330.4 L193.5,332.6 M259.5,291.5 L257.5,292.3 L255.5,293.1 L253.5,293.9 L251.5,294.8 L249.5,295.7 L247.5,296.6 L245.5,297.6 L243.5,298.6 L241.5,299.7 L239.5,300.7 L237.5,301.8 L235.5,303.0 L233.5,304.2 L231.5,305.4 L229.5,306.7 L227.5,308.0 L225.5,309.4 L223.5,310.8 L221.5,312.3 L219.5,313.8 L217.5,315.4 L215.5,317.0 L213.5,318.7 L211.5,320.4 L209.5,322.2 L207.5,324.0 L205.5,325.9 L203.5,327.9 L201.5,330.0 L199.5,332.1 M259.5,294.9 L257.5,295.7 L255.5,296.6 L253.5,297.5 L251.5,298.4 L249.5,299.3 L247.5,300.3 L245.5,301.4 L243.5,302.4 L241.5,303.5 L239.5,304.7 L237.5,305.9 L235.5,307.1 L233.5,308.4 L231.5,309.7 L229.5,311.1 L227.5,312.5 L225.5,314.0 L223.5,315.5 L221.5,317.0 L219.5,318.7 L217.5,320.3 L215.5,322.1 L213.5,323.9 L211.5,325.8 L209.5,327.7 L207.5,329.7 L205.5,331.8 M259.5,297.7 L257.5,298.5 L255.5,299.4 L253.5,300.4 L251.5,301.3 L249.5,302.4 L247.5,303.4 L245.5,304.5 L243.5,305.6 L241.5,306.8 L239.5,308.0 L237.5,309.2 L235.5,310.5 L233.5,311.9 L231.5,313.3 L229.5,314.7 L227.5,316.2 L225.5,317.8 L223.5,319.4 L221.5,321.1 L219.5,322.8 L217.5,324.6 L215.5,326.5 L213.5,328.4 L211.5,330.4 L209.5,332.5 M259.5,300.5 L257.5,301.4 L255.5,302.3 L253.5,303.3 L251.5,304.3 L249.5,305.4 L247.5,306.5 L245.5,307.6 L243.5,308.8 L241.5,310.0 L239.5,311.3 L237.5,312.7 L235.5,314.0 L233.5,315.5 L231.5,316.9 L229.5,318.5 L227.5,320.1 L225.5,321.7 L223.5,323.4 L221.5,325.2 L219.5,327.1 L217.5,329.0 L215.5,331.0 M110.9,13.9 L109.4,14.5 L107.9,15.1 L106.4,15.8 L104.9,16.4 L103.4,17.0 L101.9,17.6 L100.4,18.3 L98.9,18.9 L97.4,19.5 L95.9,20.2 L94.4,20.8 L92.9,21.4 L91.4,22.1 L89.9,22.7 L88.4,23.3 L86.9,23.9 L85.4,24.6 L83.9,25.2 L82.4,25.8 L80.9,26.5 L79.4,27.1 L77.9,27.7 L76.4,28.4 L74.9,29.0 L73.4,29.6 L71.9,30.2 L70.4,30.9 L68.9,31.5 L67.4,32.1 L65.9,32.8 M142.5,24.0 L141.0,24.6 L139.5,25.3 L138.0,25.9 L136.5,26.5 L135.0,27.1 L133.5,27.8 L132.0,28.4 L130.5,29.0 L129.0,29.7 L127.5,30.3 L126.0,30.9 L124.5,31.6 L123.0,32.2 L121.5,32.8 L120.0,33.4 L118.5,34.1 L117.0,34.7 L115.5,35.3 L114.0,36.0 L112.5,36.6 L111.0,37.2 L109.5,37.9 L108.0,38.5 L106.5,39.1 L105.0,39.8 L103.5,40.4 L102.0,41.0 L100.5,41.6 L99.0,42.3 L97.5,42.9 L96.0,43.5 L94.5,44.2 L93.0,44.8 L91.5,45.4 L90.0,46.1 L88.5,46.7 L87.0,47.3 M81.0,49.8 L79.5,50.5 L78.0,51.1 L76.5,51.7 L75.0,52.4 L73.5,53.0 L72.0,53.6 L70.5,54.2 L69.0,54.9 L67.5,55.5 L66.0,56.1 L64.5,56.8 L63.0,57.4 L61.5,58.0 L60.0,58.6 L58.5,59.3 M49.5,63.1 L48.0,63.7 L46.5,64.3 L45.0,64.9 L43.5,65.6 L42.0,66.2 L40.5,66.8 L39.0,67.5 L37.5,68.1 L36.0,68.7 L34.5,69.4 L33.0,70.0 L31.5,70.6 L30.0,71.2 L28.5,71.9 L27.0,72.5 L25.5,73.1 L24.0,73.8 L22.5,74.4 L21.0,75.0 L19.5,75.7 L18.0,76.3 L16.5,76.9 L15.0,77.6 L13.5,78.2 L12.0,78.8 L10.5,79.4 L9.0,80.1 L7.5,80.7 L6.0,81.3 L4.5,82.0 L3.0,82.6 L1.5,83.2 L-0.0,83.9 M141.7,37.7 L140.2,38.3 L138.7,39.0 L137.2,39.6 L135.7,40.3 L134.2,40.9 L132.7,41.5 L131.2,42.2 L129.7,42.8 L128.2,43.4 L126.7,44.1 L125.2,44.7 L123.7,45.4 L122.2,46.0 L120.7,46.6 L119.2,47.3 L117.7,47.9 L116.2,48.5 L114.7,49.2 L113.2,49.8 L111.7,50.5 L110.2,51.1 L108.7,51.7 L107.2,52.4 L105.7,53.0 L104.2,53.7 L102.7,54.3 L101.2,54.9 L99.7,55.6 L98.2,56.2 L96.7,56.9 L95.2,57.5 L93.7,58.1 L92.2,58.8 L90.7,59.4 L89.2,60.0 L87.7,60.7 L86.2,61.3 L84.7,62.0 L83.2,62.6 L81.7,63.2 L80.2,63.9 L78.7,64.5 L77.2,65.2 L75.7,65.8 L74.2,66.4 L72.7,67.1 L71.2,67.7 L69.7,68.4 L68.2,69.0 L66.7,69.6 L65.2,70.3 L63.7,70.9 L62.2,71.5 L60.7,72.2 L59.2,72.8 L57.7,73.5 L56.2,74.1 L54.7,74.7 L53.2,75.4 L51.7,76.0 L50.2,76.7 L48.7,77.3 L47.2,77.9 L45.7,78.6 L44.2,79.2 L42.7,79.9 L41.2,80.5 L39.7,81.1 L38.2,81.8 L36.7,82.4 L35.2,83.1 L33.7,83.7 L32.2,84.3 L30.7,85.0 L29.2,85.6 L27.7,86.3 L26.2,86.9 L24.7,87.5 L23.2,88.2 L21.7,88.8 L20.2,89.5 L18.7,90.1 L17.2,90.7 L15.7,91.4 L14.2,92.0 L12.7,92.7 L11.2,93.3 L9.7,93.9 L8.2,94.6 L6.7,95.2 L5.2,95.9 L3.7,96.5 L2.2,97.1 L0.7,97.8 L-0.8,98.4 M140.5,57.8 L139.0,58.4 L137.5,59.1 L136.0,59.8 L134.5,60.4 L133.0,61.1 L131.5,61.7 L130.0,62.4 L128.5,63.0 L127.0,63.7 L125.5,64.3 L124.0,65.0 L122.5,65.6 L121.0,66.3 L119.5,66.9 L118.0,67.6 L116.5,68.2 L115.0,68.9 L113.5,69.5 L112.0,70.2 L110.5,70.8 L109.0,71.5 L107.5,72.2 L106.0,72.8 L104.5,73.5 L103.0,74.1 L101.5,74.8 L100.0,75.4 L98.5,76.1 L97.0,76.7 L95.5,77.4 L94.0,78.1 L92.5,78.7 L91.0,79.4 L89.5,80.0 L88.0,80.7 L86.5,81.3 L85.0,82.0 L83.5,82.7 L82.0,83.3 L80.5,84.0 L79.0,84.6 L77.5,85.3 M70.0,88.6 L68.5,89.3 L67.0,89.9 L65.5,90.6 L64.0,91.2 L62.5,91.9 L61.0,92.6 L59.5,93.2 L58.0,93.9 L56.5,94.6 L55.0,95.2 L53.5,95.9 L52.0,96.5 L50.5,97.2 L49.0,97.9 L47.5,98.5 L46.0,99.2 L44.5,99.9 L43.0,100.5 L41.5,101.2 L40.0,101.9 L38.5,102.5 L37.0,103.2 L35.5,103.9 L34.0,104.5 L32.5,105.2 L31.0,105.9 L29.5,106.5 L28.0,107.2 L26.5,107.9 L25.0,108.5 L23.5,109.2 L22.0,109.9 L20.5,110.5 L19.0,111.2 L17.5,111.9 L16.0,112.5 L14.5,113.2 L13.0,113.9 L11.5,114.5 L10.0,115.2 L8.5,115.9 L7.0,116.6 L5.5,117.2 L4.0,117.9 L2.5,118.6 L1.0,119.2 L-0.5,119.9 M139.7,73.0 L138.2,73.7 L136.7,74.3 L135.2,75.0 L133.7,75.6 L132.2,76.3 L130.7,77.0 L129.2,77.6 L127.7,78.3 L126.2,79.0 L124.7,79.6 L123.2,80.3 L121.7,80.9 L120.2,81.6 L118.7,82.3 L117.2,82.9 L115.7,83.6 L114.2,84.3 L112.7,85.0 L111.2,85.6 L109.7,86.3 L108.2,87.0 L106.7,87.6 L105.2,88.3 L103.7,89.0 L102.2,89.7 L100.7,90.3 L99.2,91.0 L97.7,91.7 L96.2,92.3 L94.7,93.0 L93.2,93.7 L91.7,94.4 L90.2,95.1 L88.7,95.7 L87.2,96.4 L85.7,97.1 L84.2,97.8 L82.7,98.5 L81.2,99.1 L79.7,99.8 L78.2,100.5 L76.7,101.2 L75.2,101.9 L73.7,102.6 L72.2,103.2 L70.7,103.9 L69.2,104.6 L67.7,105.3 L66.2,106.0 M58.7,109.4 L57.2,110.1 L55.7,110.8 L54.2,111.5 L52.7,112.2 L51.2,112.9 L49.7,113.6 L48.2,114.3 L46.7,115.0 L45.2,115.7 L43.7,116.4 L42.2,117.1 L40.7,117.8 L39.2,118.5 L37.7,119.2 L36.2,119.9 L34.7,120.6 L33.2,121.3 L31.7,122.0 L30.2,122.7 L28.7,123.4 L27.2,124.1 L25.7,124.8 L24.2,125.5 L22.7,126.2 L21.2,126.9 L19.7,127.6 L18.2,128.3 L16.7,129.0 L15.2,129.7 L13.7,130.4 L12.2,131.1 L10.7,131.8 L9.2,132.5 L7.7,133.2 L6.2,134.0 L4.7,134.7 L3.2,135.4 L1.7,136.1 L0.2,136.8 M138.8,88.0 L137.3,88.7 L135.8,89.3 L134.3,90.0 L132.8,90.7 L131.3,91.4 L129.8,92.0 L128.3,92.7 L126.8,93.4 L125.3,94.1 L123.8,94.7 L122.3,95.4 L120.8,96.1 L119.3,96.8 L117.8,97.5 L116.3,98.1 L114.8,98.8 L113.3,99.5 L111.8,100.2 L110.3,100.9 L108.8,101.6 L107.3,102.3 L105.8,103.0 L104.3,103.7 L102.8,104.3 L101.3,105.0 L99.8,105.7 L98.3,106.4 L96.8,107.1 L95.3,107.8 L93.8,108.5 L92.3,109.2 L90.8,109.9 L89.3,110.7 L87.8,111.4 L86.3,112.1 L84.8,112.8 L83.3,113.5 L81.8,114.2 L80.3,114.9 L78.8,115.6 L77.3,116.3 L75.8,117.0 L74.3,117.8 L72.8,118.5 L71.3,119.2 L69.8,119.9 L68.3,120.6 L66.8,121.4 L65.3,122.1 L63.8,122.8 L62.3,123.5 L60.8,124.3 L59.3,125.0 L57.8,125.7 L56.3,126.4 L54.8,127.2 L53.3,127.9 L51.8,128.6 L50.3,129.4 L48.8,130.1 L47.3,130.9 L45.8,131.6 L44.3,132.3 L42.8,133.1 L41.3,133.8 L39.8,134.6 L38.3,135.3 L36.8,136.0 L35.3,136.8 L33.8,137.5 L32.3,138.3 L30.8,139.0 L29.3,139.8 L27.8,140.5 L26.3,141.3 L24.8,142.0 L23.3,142.8 L21.8,143.6 L20.3,144.3 L18.8,145.1 L17.3,145.8 L15.8,146.6 L14.3,147.4 L12.8,148.1 L11.3,148.9 L9.8,149.7 L8.3,150.4 L6.8,151.2 L5.3,152.0 L3.8,152.7 L2.3,153.5 L0.8,154.3 L-0.7,155.0 M137.7,106.6 L136.2,107.3 L134.7,108.0 L133.2,108.6 L131.7,109.3 L130.2,110.0 L128.7,110.7 L127.2,111.4 L125.7,112.1 L124.2,112.8 L122.7,113.5 L121.2,114.2 L119.7,114.9 L118.2,115.6 L116.7,116.3 L115.2,117.0 L113.7,117.7 L112.2,118.4 L110.7,119.2 L109.2,119.9 L107.7,120.6 L106.2,121.3 L104.7,122.0 L103.2,122.8 L101.7,123.5 L100.2,124.2 L98.7,125.0 L97.2,125.7 L95.7,126.4 L94.2,127.2 L92.7,127.9 L91.2,128.7 L89.7,129.4 L88.2,130.2 L86.7,130.9 L85.2,131.7 L83.7,132.4 L82.2,133.2 L80.7,133.9 L79.2,134.7 L77.7,135.5 L76.2,136.2 L74.7,137.0 L73.2,137.8 L71.7,138.6 L70.2,139.3 L68.7,140.1 L67.2,140.9 L65.7,141.7 L64.2,142.5 L62.7,143.2 L61.2,144.0 L59.7,144.8 L58.2,145.6 L56.7,146.4 L55.2,147.2 L53.7,148.0 L52.2,148.8 L50.7,149.6 L49.2,150.4 L47.7,151.2 L46.2,152.0 L44.7,152.8 L43.2,153.7 L41.7,154.5 L40.2,155.3 L38.7,156.1 L37.2,156.9 L35.7,157.8 L34.2,158.6 L32.7,159.4 L31.2,160.2 L29.7,161.1 L28.2,161.9 L26.7,162.8 L25.2,163.6 L23.7,164.4 L22.2,165.3 L20.7,166.1 L19.2,167.0 L17.7,167.8 L16.2,168.7 L14.7,169.5 L13.2,170.4 L11.7,171.3 L10.2,172.1 L8.7,173.0 L7.2,173.9 L5.7,174.7 L4.2,175.6 L2.7,176.5 L1.2,177.3 L-0.3,178.2 M136.9,120.9 L135.4,121.6 L133.9,122.3 L132.4,123.0 L130.9,123.7 L129.4,124.4 L127.9,125.1 L126.4,125.8 L124.9,126.5 L123.4,127.2 L121.9,127.9 L120.4,128.6 L118.9,129.4 L117.4,130.1 L115.9,130.8 L114.4,131.6 L112.9,132.3 L111.4,133.0 L109.9,133.8 L108.4,134.5 L106.9,135.3 L105.4,136.0 M97.9,139.9 L96.4,140.6 L94.9,141.4 L93.4,142.2 L91.9,143.0 L90.4,143.7 L88.9,144.5 L87.4,145.3 L85.9,146.1 L84.4,146.9 L82.9,147.7 L81.4,148.5 L79.9,149.3 L78.4,150.1 L76.9,151.0 L75.4,151.8 L73.9,152.6 L72.4,153.4 L70.9,154.3 L69.4,155.1 L67.9,155.9 L66.4,156.8 L64.9,157.6 L63.4,158.4 M55.9,162.7 L54.4,163.6 L52.9,164.4 L51.4,165.3 L49.9,166.2 L48.4,167.1 L46.9,167.9 L45.4,168.8 L43.9,169.7 L42.4,170.6 L40.9,171.5 L39.4,172.4 L37.9,173.3 L36.4,174.2 L34.9,175.1 L33.4,176.0 L31.9,176.9 L30.4,177.8 L28.9,178.8 L27.4,179.7 L25.9,180.6 L24.4,181.5 L22.9,182.5 L21.4,183.4 L19.9,184.3 L18.4,185.3 L16.9,186.2 L15.4,187.2 L13.9,188.1 L12.4,189.1 L10.9,190.0 L9.4,191.0 L7.9,192.0 L6.4,192.9 L4.9,193.9 L3.4,194.9 L1.9,195.9 L0.4,196.8 M136.0,135.9 L134.5,136.6 L133.0,137.3 L131.5,138.0 L130.0,138.7 L128.5,139.4 L127.0,140.1 L125.5,140.9 L124.0,141.6 L122.5,142.3 L121.0,143.1 L119.5,143.8 L118.0,144.6 L116.5,145.3 L115.0,146.1 L113.5,146.8 L112.0,147.6 L110.5,148.4 L109.0,149.2 L107.5,149.9 L106.0,150.7 L104.5,151.5 L103.0,152.3 L101.5,153.1 L100.0,153.9 L98.5,154.7 L97.0,155.5 L95.5,156.4 L94.0,157.2 L92.5,158.0 L91.0,158.8 L89.5,159.7 L88.0,160.5 L86.5,161.4 L85.0,162.2 L83.5,163.1 L82.0,163.9 L80.5,164.8 L79.0,165.7 L77.5,166.5 L76.0,167.4 L74.5,168.3 L73.0,169.2 L71.5,170.1 L70.0,171.0 L68.5,171.9 L67.0,172.8 L65.5,173.7 L64.0,174.6 L62.5,175.6 L61.0,176.5 L59.5,177.4 L58.0,178.3 L56.5,179.3 L55.0,180.2 L53.5,181.2 L52.0,182.1 L50.5,183.1 L49.0,184.0 L47.5,185.0 L46.0,186.0 L44.5,187.0 L43.0,187.9 L41.5,188.9 L40.0,189.9 L38.5,190.9 L37.0,191.9 L35.5,192.9 L34.0,193.9 L32.5,194.9 L31.0,196.0 L29.5,197.0 L28.0,198.0 L26.5,199.1 L25.0,200.1 L23.5,201.1 L22.0,202.2 L20.5,203.2 L19.0,204.3 L17.5,205.3 L16.0,206.4 L14.5,207.5 L13.0,208.6 L11.5,209.6 L10.0,210.7 L8.5,211.8 L7.0,212.9 L5.5,214.0 L4.0,215.1 L2.5,216.2 L1.0,217.3 L-0.5,218.4 M135.1,152.4 L133.6,153.1 L132.1,153.8 L130.6,154.5 L129.1,155.3 L127.6,156.0 L126.1,156.7 L124.6,157.5 L123.1,158.2 L121.6,159.0 L120.1,159.8 L118.6,160.5 L117.1,161.3 L115.6,162.1 L114.1,162.9 L112.6,163.7 L111.1,164.5 L109.6,165.3 L108.1,166.1 L106.6,167.0 L105.1,167.8 L103.6,168.6 L102.1,169.5 L100.6,170.3 L99.1,171.2 L97.6,172.1 L96.1,172.9 L94.6,173.8 L93.1,174.7 L91.6,175.6 L90.1,176.5 L88.6,177.4 L87.1,178.3 L85.6,179.2 L84.1,180.1 L82.6,181.1 L81.1,182.0 L79.6,183.0 L78.1,183.9 L76.6,184.9 L75.1,185.8 L73.6,186.8 L72.1,187.8 L70.6,188.8 L69.1,189.8 L67.6,190.7 L66.1,191.8 L64.6,192.8 L63.1,193.8 L61.6,194.8 L60.1,195.8 L58.6,196.9 L57.1,197.9 L55.6,199.0 L54.1,200.0 L52.6,201.1 L51.1,202.1 L49.6,203.2 L48.1,204.3 L46.6,205.4 L45.1,206.5 L43.6,207.6 L42.1,208.7 L40.6,209.8 L39.1,210.9 L37.6,212.1 L36.1,213.2 L34.6,214.3 L33.1,215.5 L31.6,216.6 L30.1,217.8 L28.6,219.0 L27.1,220.1 L25.6,221.3 L24.1,222.5 L22.6,223.7 L21.1,224.9 L19.6,226.1 L18.1,227.3 L16.6,228.6 L15.1,229.8 L13.6,231.0 L12.1,232.3 L10.6,233.5 L9.1,234.8 L7.6,236.0 L6.1,237.3 L4.6,238.5 L3.1,239.8 L1.6,241.1 L0.1,242.4 M134.0,170.5 L132.5,171.2 L131.0,172.0 L129.5,172.7 L128.0,173.5 L126.5,174.2 L125.0,175.0 L123.5,175.7 L122.0,176.5 L120.5,177.3 L119.0,178.1 L117.5,178.9 L116.0,179.8 L114.5,180.6 L113.0,181.4 L111.5,182.3 L110.0,183.1 L108.5,184.0 L107.0,184.9 L105.5,185.8 L104.0,186.7 L102.5,187.6 L101.0,188.5 L99.5,189.4 L98.0,190.3 L96.5,191.3 L95.0,192.2 L93.5,193.2 L92.0,194.1 L90.5,195.1 L89.0,196.1 L87.5,197.1 L86.0,198.1 L84.5,199.1 L83.0,200.1 L81.5,201.2 L80.0,202.2 L78.5,203.2 L77.0,204.3 L75.5,205.4 L74.0,206.4 L72.5,207.5 L71.0,208.6 L69.5,209.7 L68.0,210.8 L66.5,212.0 L65.0,213.1 L63.5,214.2 L62.0,215.4 L60.5,216.5 L59.0,217.7 L57.5,218.9 L56.0,220.1 L54.5,221.3 L53.0,222.5 L51.5,223.7 L50.0,224.9 L48.5,226.1 L47.0,227.4 L45.5,228.6 L44.0,229.9 L42.5,231.2 L41.0,232.4 L39.5,233.7 L38.0,235.0 L36.5,236.3 L35.0,237.6 L33.5,239.0 L32.0,240.3 L30.5,241.6 L29.0,243.0 L27.5,244.3 L26.0,245.7 L24.5,247.1 L23.0,248.5 L21.5,249.9 L20.0,251.3 L18.5,252.7 L17.0,254.1 L15.5,255.5 L14.0,257.0 L12.5,258.4 L11.0,259.9 L9.5,261.4 L8.0,262.8 L6.5,264.3 L5.0,265.8 L3.5,267.3 L2.0,268.8 L0.5,270.4 L-1.0,271.9 M132.9,190.5 L131.4,191.2 L129.9,191.9 L128.4,192.7 L126.9,193.5 L125.4,194.3 L123.9,195.1 L122.4,195.9 L120.9,196.7 L119.4,197.5 L117.9,198.4 L116.4,199.2 L114.9,200.1 L113.4,201.0 L111.9,201.9 L110.4,202.8 L108.9,203.7 M99.9,209.5 L98.4,210.5 L96.9,211.5 L95.4,212.6 L93.9,213.6 L92.4,214.7 L90.9,215.8 L89.4,216.8 L87.9,217.9 L86.4,219.1 L84.9,220.2 L83.4,221.3 L81.9,222.5 L80.4,223.6 L78.9,224.8 L77.4,226.0 L75.9,227.2 L74.4,228.4 L72.9,229.6 L71.4,230.8 L69.9,232.1 L68.4,233.4 L66.9,234.6 L65.4,235.9 L63.9,237.2 L62.4,238.5 L60.9,239.9 L59.4,241.2 L57.9,242.5 L56.4,243.9 L54.9,245.3 L53.4,246.7 L51.9,248.1 L50.4,249.5 L48.9,250.9 L47.4,252.3 L45.9,253.8 L44.4,255.2 L42.9,256.7 L41.4,258.2 L39.9,259.7 L38.4,261.2 L36.9,262.7 L35.4,264.3 L33.9,265.8 L32.4,267.4 L30.9,269.0 L29.4,270.6 L27.9,272.2 L26.4,273.8 L24.9,275.4 L23.4,277.0 L21.9,278.7 L20.4,280.3 L18.9,282.0 L17.4,283.7 L15.9,285.4 L14.4,287.1 L12.9,288.9 L11.4,290.6 L9.9,292.3 L8.4,294.1 L6.9,295.9 L5.4,297.7 L3.9,299.5 L2.4,301.3 L0.9,303.1 L-0.6,305.0 M131.6,212.4 L130.1,213.2 L128.6,213.9 L127.1,214.7 L125.6,215.5 L124.1,216.3 L122.6,217.2 L121.1,218.0 L119.6,218.9 L118.1,219.8 L116.6,220.7 L115.1,221.6 L113.6,222.5 L112.1,223.5 L110.6,224.5 L109.1,225.4 L107.6,226.4 L106.1,227.5 L104.6,228.5 L103.1,229.6 L101.6,230.6 L100.1,231.7 L98.6,232.8 L97.1,234.0 L95.6,235.1 L94.1,236.3 L92.6,237.4 L91.1,238.6 L89.6,239.9 L88.1,241.1 L86.6,242.3 L85.1,243.6 L83.6,244.9 L82.1,246.2 L80.6,247.5 L79.1,248.8 L77.6,250.2 L76.1,251.5 L74.6,252.9 L73.1,254.3 L71.6,255.7 L70.1,257.2 L68.6,258.6 L67.1,260.1 L65.6,261.6 L64.1,263.1 L62.6,264.6 L61.1,266.1 L59.6,267.7 L58.1,269.2 L56.6,270.8 L55.1,272.4 L53.6,274.1 L52.1,275.7 L50.6,277.3 L49.1,279.0 L47.6,280.7 L46.1,282.4 L44.6,284.1 L43.1,285.9 L41.6,287.6 L40.1,289.4 L38.6,291.2 L37.1,293.0 L35.6,294.8 L34.1,296.7 L32.6,298.6 L31.1,300.4 L29.6,302.3 L28.1,304.2 L26.6,306.2 L25.1,308.1 L23.6,310.1 L22.1,312.1 L20.6,314.1 L19.1,316.1 L17.6,318.1 L16.1,320.2 L14.6,322.2 L13.1,324.3 L11.6,326.4 L10.1,328.5 L8.6,330.7 L7.1,332.8 M130.2,236.6 L128.7,237.3 L127.2,238.1 L125.7,238.9 L124.2,239.8 L122.7,240.6 L121.2,241.5 L119.7,242.4 L118.2,243.3 L116.7,244.3 L115.2,245.3 L113.7,246.3 L112.2,247.3 L110.7,248.3 L109.2,249.4 L107.7,250.5 L106.2,251.6 L104.7,252.7 L103.2,253.9 L101.7,255.1 L100.2,256.3 L98.7,257.5 L97.2,258.8 L95.7,260.0 L94.2,261.3 L92.7,262.6 L91.2,264.0 L89.7,265.4 L88.2,266.7 L86.7,268.2 M79.2,275.6 L77.7,277.1 L76.2,278.7 L74.7,280.3 L73.2,281.9 L71.7,283.6 L70.2,285.2 L68.7,286.9 L67.2,288.6 L65.7,290.4 L64.2,292.1 L62.7,293.9 L61.2,295.7 L59.7,297.6 L58.2,299.4 L56.7,301.3 L55.2,303.2 L53.7,305.1 L52.2,307.1 L50.7,309.0 L49.2,311.0 L47.7,313.0 L46.2,315.1 L44.7,317.1 L43.2,319.2 L41.7,321.3 L40.2,323.5 L38.7,325.6 L37.2,327.8 L35.7,330.0 L34.2,332.2 M128.7,263.1 L127.2,263.9 L125.7,264.7 L124.2,265.6 L122.7,266.4 L121.2,267.3 L119.7,268.3 L118.2,269.3 L116.7,270.3 L115.2,271.3 L113.7,272.4 L112.2,273.5 L110.7,274.6 L109.2,275.7 L107.7,276.9 L106.2,278.2 L104.7,279.4 L103.2,280.7 L101.7,282.0 L100.2,283.3 L98.7,284.7 L97.2,286.1 L95.7,287.6 L94.2,289.0 L92.7,290.5 L91.2,292.1 L89.7,293.6 L88.2,295.2 L86.7,296.8 L85.2,298.5 L83.7,300.2 L82.2,301.9 L80.7,303.7 L79.2,305.4 L77.7,307.2 L76.2,309.1 L74.7,311.0 L73.2,312.9 L71.7,314.8 L70.2,316.8 L68.7,318.8 L67.2,320.8 L65.7,322.8 L64.2,324.9 L62.7,327.1 L61.2,329.2 L59.7,331.4 M127.0,292.3 L125.5,293.1 L124.0,294.0 L122.5,294.9 L121.0,295.8 L119.5,296.8 L118.0,297.8 L116.5,298.8 L115.0,299.9 L113.5,301.1 L112.0,302.3 L110.5,303.5 L109.0,304.7 L107.5,306.1 L106.0,307.4 L104.5,308.8 L103.0,310.2 L101.5,311.7 L100.0,313.2 L98.5,314.8 L97.0,316.3 L95.5,318.0 L94.0,319.7 L92.5,321.4 L91.0,323.1 L89.5,324.9 L88.0,326.8 L86.5,328.7 L85.0,330.6 M125.2,324.5 L123.7,325.3 L122.2,326.2 L120.7,327.1 L119.2,328.1 L117.7,329.2 L116.2,330.3 L114.7,331.4 L113.2,332.7" fill="none" stroke="#000" stroke-width="1.2" stroke-dasharray="3 0.6"/>
<path d="M27.1 0.8h1.0v1.0h-1.0zM67.7 1.1h1.0v1.0h-1.0zM22.6 1.6h1.0v1.0h-1.0zM35.7 0.4h1.0v1.0h-1.0zM68.4 0.4h1.0v1.0h-1.0zM49.4 -0.1h1.0v1.0h-1.0zM115.4 1.8h1.0v1.0h-1.0zM130.3 0.1h1.0v1.0h-1.0zM127.4 1.6h1.0v1.0h-1.0zM10.6 0.4h1.0v1.0h-1.0zM127.4 2.2h1.0v1.0h-1.0zM4.3 1.4h1.0v1.0h-1.0zM103.9 1.2h1.0v1.0h-1.0zM79.8 0.2h1.0v1.0h-1.0zM140.6 2.4h1.0v1.0h-1.0zM96.9 0.4h1.0v1.0h-1.0zM121.4 2.4h1.0v1.0h-1.0zM42.0 0.8h1.0v1.0h-1.0zM130.3 0.5h1.0v1.0h-1.0zM141.7 1.8h1.0v1.0h-1.0zM62.6 0.0h1.0v1.0h-1.0zM127.8 -0.1h1.0v1.0h-1.0zM102.9 0.3h1.0v1.0h-1.0zM107.1 1.0h1.0v1.0h-1.0zM45.1 0.3h1.0v1.0h-1.0zM119.3 1.1h1.0v1.0h-1.0zM18.9 1.0h1.0v1.0h-1.0zM144.7 2.2h1.0v1.0h-1.0zM28.4 0.2h1.0v1.0h-1.0zM21.4 1.5h1.0v1.0h-1.0zM69.6 -0.3h1.0v1.0h-1.0zM135.9 -0.3h1.0v1.0h-1.0zM134.5 -0.5h1.0v1.0h-1.0zM87.6 1.1h1.0v1.0h-1.0zM63.8 1.2h1.0v1.0h-1.0zM26.0 2.5h1.0v1.0h-1.0zM29.7 0.0h1.0v1.0h-1.0zM109.2 -0.4h1.0v1.0h-1.0zM117.4 -0.0h1.0v1.0h-1.0zM133.1 1.4h1.0v1.0h-1.0zM135.8 1.3h1.0v1.0h-1.0zM2.4 2.2h1.0v1.0h-1.0zM10.8 -0.3h1.0v1.0h-1.0zM115.4 2.2h1.0v1.0h-1.0zM48.8 1.0h1.0v1.0h-1.0zM6.7 0.4h1.0v1.0h-1.0zM122.8 1.4h1.0v1.0h-1.0zM145.6 1.7h1.0v1.0h-1.0zM79.6 1.3h1.0v1.0h-1.0zM114.6 -0.2h1.0v1.0h-1.0zM65.6 1.5h1.0v1.0h-1.0zM82.0 0.3h1.0v1.0h-1.0zM106.6 1.7h1.0v1.0h-1.0zM39.9 1.1h1.0v1.0h-1.0zM126.5 1.3h1.0v1.0h-1.0zM40.2 0.1h1.0v1.0h-1.0zM143.7 -0.3h1.0v1.0h-1.0zM67.5 2.1h1.0v1.0h-1.0zM49.5 1.3h1.0v1.0h-1.0zM90.8 1.9h1.0v1.0h-1.0z" fill="#000"/>
<path d="M27.5 21.6h1.1v1.1h-1.1zM29.3 10.5h1.1v1.1h-1.1zM25.6 12.9h1.1v1.1h-1.1zM28.2 19.3h1.1v1.1h-1.1zM28.6 20.0h1.1v1.1h-1.1zM25.3 16.8h1.1v1.1h-1.1zM28.5 23.1h1.1v1.1h-1.1zM28.7 22.5h1.1v1.1h-1.1z" fill="#000"/>
<path d="M61.6 10.0h1.1v1.1h-1.1zM60.9 10.2h1.1v1.1h-1.1zM59.3 5.0h1.1v1.1h-1.1zM60.0 13.2h1.1v1.1h-1.1zM60.6 9.1h1.1v1.1h-1.1zM58.9 9.3h1.1v1.1h-1.1zM61.2 14.1h1.1v1.1h-1.1zM62.7 2.6h1.1v1.1h-1.1zM61.5 12.0h1.1v1.1h-1.1zM57.8 14.9h1.1v1.1h-1.1z" fill="#000"/>
<path d="M47.3 33.9h1.2v1.2h-1.2zM41.0 31.6h1.2v1.2h-1.2zM47.3 30.4h1.2v1.2h-1.2zM47.7 31.9h1.2v1.2h-1.2z" fill="#000"/>
<path d="M11.0,37.5 L29.0,29.0" stroke="#000" stroke-width="0.9" stroke-dasharray="1.5 1.2" fill="none"/>
<path d="M16.0,24.0 L36.0,16.0" stroke="#000" stroke-width="0.9" stroke-dasharray="1.5 1.2" fill="none"/>
<path d="M54.4 18.6h1.0v1.0h-1.0zM48.0 14.8h1.0v1.0h-1.0zM55.4 13.2h1.0v1.0h-1.0zM38.4 5.8h1.0v1.0h-1.0zM52.4 10.3h1.0v1.0h-1.0zM33.2 7.4h1.0v1.0h-1.0zM38.7 18.2h1.0v1.0h-1.0zM54.1 7.3h1.0v1.0h-1.0zM35.0 12.8h1.0v1.0h-1.0zM55.9 15.1h1.0v1.0h-1.0zM45.2 17.7h1.0v1.0h-1.0zM53.1 17.9h1.0v1.0h-1.0zM35.4 16.9h1.0v1.0h-1.0zM54.4 7.2h1.0v1.0h-1.0z" fill="#000"/>
<path d="M241.0 20.7h1.1v1.1h-1.1zM242.1 23.5h1.1v1.1h-1.1zM253.0 31.3h1.1v1.1h-1.1zM243.9 25.6h1.1v1.1h-1.1zM247.2 30.6h1.1v1.1h-1.1zM243.7 26.9h1.1v1.1h-1.1zM248.2 22.5h1.1v1.1h-1.1zM244.1 27.6h1.1v1.1h-1.1zM242.2 20.7h1.1v1.1h-1.1zM238.0 33.3h1.1v1.1h-1.1zM248.0 27.3h1.1v1.1h-1.1zM251.5 27.2h1.1v1.1h-1.1zM246.5 29.1h1.1v1.1h-1.1zM236.3 21.4h1.1v1.1h-1.1zM231.7 30.2h1.1v1.1h-1.1zM252.5 21.9h1.1v1.1h-1.1zM237.0 31.8h1.1v1.1h-1.1zM233.5 34.0h1.1v1.1h-1.1zM254.3 26.3h1.1v1.1h-1.1zM254.8 25.3h1.1v1.1h-1.1zM237.4 32.3h1.1v1.1h-1.1zM249.4 24.2h1.1v1.1h-1.1zM247.6 26.8h1.1v1.1h-1.1zM235.4 27.2h1.1v1.1h-1.1zM233.7 22.9h1.1v1.1h-1.1zM241.9 26.7h1.1v1.1h-1.1zM250.1 27.2h1.1v1.1h-1.1zM245.9 24.4h1.1v1.1h-1.1zM243.1 25.3h1.1v1.1h-1.1zM255.5 31.7h1.1v1.1h-1.1zM245.5 26.3h1.1v1.1h-1.1zM234.0 27.2h1.1v1.1h-1.1zM240.3 21.4h1.1v1.1h-1.1zM240.7 28.6h1.1v1.1h-1.1zM234.1 31.9h1.1v1.1h-1.1zM251.7 26.8h1.1v1.1h-1.1zM230.3 30.7h1.1v1.1h-1.1zM251.5 29.2h1.1v1.1h-1.1zM231.9 31.9h1.1v1.1h-1.1zM246.2 24.9h1.1v1.1h-1.1zM233.5 30.8h1.1v1.1h-1.1zM240.9 31.0h1.1v1.1h-1.1zM237.5 31.2h1.1v1.1h-1.1zM233.5 26.9h1.1v1.1h-1.1zM244.2 33.0h1.1v1.1h-1.1zM238.3 29.8h1.1v1.1h-1.1zM236.4 33.0h1.1v1.1h-1.1zM235.9 30.8h1.1v1.1h-1.1zM240.2 30.0h1.1v1.1h-1.1zM245.1 30.4h1.1v1.1h-1.1zM256.3 31.3h1.1v1.1h-1.1zM243.9 23.6h1.1v1.1h-1.1zM254.7 24.3h1.1v1.1h-1.1zM256.5 32.6h1.1v1.1h-1.1zM233.5 32.7h1.1v1.1h-1.1zM256.5 23.8h1.1v1.1h-1.1zM240.9 31.9h1.1v1.1h-1.1zM238.7 30.1h1.1v1.1h-1.1zM255.7 21.0h1.1v1.1h-1.1zM231.0 24.5h1.1v1.1h-1.1zM240.8 24.2h1.1v1.1h-1.1zM253.6 32.4h1.1v1.1h-1.1zM248.6 25.4h1.1v1.1h-1.1zM239.9 32.6h1.1v1.1h-1.1zM230.9 29.9h1.1v1.1h-1.1zM236.3 21.1h1.1v1.1h-1.1zM231.4 27.6h1.1v1.1h-1.1zM247.8 20.9h1.1v1.1h-1.1zM232.0 26.5h1.1v1.1h-1.1zM243.0 33.5h1.1v1.1h-1.1zM241.2 31.3h1.1v1.1h-1.1zM249.8 23.8h1.1v1.1h-1.1zM244.4 26.6h1.1v1.1h-1.1zM230.6 28.5h1.1v1.1h-1.1zM237.8 23.6h1.1v1.1h-1.1zM236.4 27.3h1.1v1.1h-1.1zM256.9 33.7h1.1v1.1h-1.1zM230.1 27.7h1.1v1.1h-1.1zM254.6 30.7h1.1v1.1h-1.1zM232.3 31.5h1.1v1.1h-1.1zM255.6 29.7h1.1v1.1h-1.1zM253.1 23.7h1.1v1.1h-1.1zM233.0 20.3h1.1v1.1h-1.1zM253.4 22.9h1.1v1.1h-1.1zM241.5 22.2h1.1v1.1h-1.1zM235.6 22.3h1.1v1.1h-1.1zM239.7 29.6h1.1v1.1h-1.1zM253.3 24.1h1.1v1.1h-1.1zM242.0 25.1h1.1v1.1h-1.1zM249.4 27.0h1.1v1.1h-1.1zM248.7 25.1h1.1v1.1h-1.1zM250.5 32.8h1.1v1.1h-1.1zM251.4 32.3h1.1v1.1h-1.1zM258.7 31.4h1.1v1.1h-1.1zM255.7 24.3h1.1v1.1h-1.1zM254.6 27.2h1.1v1.1h-1.1zM249.7 20.6h1.1v1.1h-1.1zM248.0 25.8h1.1v1.1h-1.1zM244.0 24.8h1.1v1.1h-1.1zM241.5 30.4h1.1v1.1h-1.1zM250.1 23.5h1.1v1.1h-1.1zM248.4 25.1h1.1v1.1h-1.1zM249.8 22.6h1.1v1.1h-1.1zM254.8 22.9h1.1v1.1h-1.1zM246.3 21.8h1.1v1.1h-1.1zM258.5 29.0h1.1v1.1h-1.1zM233.6 30.4h1.1v1.1h-1.1zM237.8 22.3h1.1v1.1h-1.1zM235.8 28.7h1.1v1.1h-1.1zM238.5 29.1h1.1v1.1h-1.1zM258.2 26.6h1.1v1.1h-1.1zM250.1 31.1h1.1v1.1h-1.1zM256.9 23.8h1.1v1.1h-1.1zM237.9 23.5h1.1v1.1h-1.1zM249.3 25.4h1.1v1.1h-1.1zM249.7 21.9h1.1v1.1h-1.1zM234.6 34.0h1.1v1.1h-1.1zM255.3 22.7h1.1v1.1h-1.1zM240.3 27.5h1.1v1.1h-1.1zM253.2 25.7h1.1v1.1h-1.1zM256.2 31.7h1.1v1.1h-1.1zM254.8 22.4h1.1v1.1h-1.1zM232.0 26.1h1.1v1.1h-1.1zM255.2 29.1h1.1v1.1h-1.1zM236.5 30.1h1.1v1.1h-1.1zM241.8 22.0h1.1v1.1h-1.1zM246.7 29.4h1.1v1.1h-1.1zM236.3 24.0h1.1v1.1h-1.1zM255.1 26.2h1.1v1.1h-1.1zM254.2 27.8h1.1v1.1h-1.1zM256.0 32.3h1.1v1.1h-1.1zM242.5 22.1h1.1v1.1h-1.1zM255.6 23.8h1.1v1.1h-1.1zM246.5 23.8h1.1v1.1h-1.1zM241.6 24.5h1.1v1.1h-1.1zM232.3 22.8h1.1v1.1h-1.1zM246.0 27.8h1.1v1.1h-1.1zM234.4 20.1h1.1v1.1h-1.1zM252.1 29.4h1.1v1.1h-1.1zM230.1 24.7h1.1v1.1h-1.1zM234.1 31.0h1.1v1.1h-1.1zM258.8 25.7h1.1v1.1h-1.1zM230.9 24.9h1.1v1.1h-1.1zM246.2 27.8h1.1v1.1h-1.1zM236.2 28.6h1.1v1.1h-1.1zM254.0 23.5h1.1v1.1h-1.1zM235.5 24.1h1.1v1.1h-1.1zM237.2 31.3h1.1v1.1h-1.1zM246.6 33.2h1.1v1.1h-1.1zM231.4 32.0h1.1v1.1h-1.1zM257.4 27.5h1.1v1.1h-1.1zM249.6 23.8h1.1v1.1h-1.1zM230.7 27.8h1.1v1.1h-1.1zM231.8 26.5h1.1v1.1h-1.1zM255.7 20.9h1.1v1.1h-1.1zM240.6 30.7h1.1v1.1h-1.1zM237.7 23.4h1.1v1.1h-1.1zM256.8 26.9h1.1v1.1h-1.1zM238.9 27.4h1.1v1.1h-1.1zM249.3 31.2h1.1v1.1h-1.1zM252.3 33.1h1.1v1.1h-1.1zM244.0 31.8h1.1v1.1h-1.1zM241.8 32.6h1.1v1.1h-1.1zM248.1 20.1h1.1v1.1h-1.1zM234.1 24.5h1.1v1.1h-1.1zM251.0 27.1h1.1v1.1h-1.1zM238.0 33.9h1.1v1.1h-1.1zM248.2 26.3h1.1v1.1h-1.1zM239.1 20.9h1.1v1.1h-1.1zM248.9 28.3h1.1v1.1h-1.1zM237.7 23.0h1.1v1.1h-1.1zM235.2 20.7h1.1v1.1h-1.1zM233.8 24.3h1.1v1.1h-1.1zM236.0 24.9h1.1v1.1h-1.1zM234.5 25.2h1.1v1.1h-1.1zM235.3 20.3h1.1v1.1h-1.1zM241.6 20.7h1.1v1.1h-1.1zM232.7 33.3h1.1v1.1h-1.1zM254.4 30.7h1.1v1.1h-1.1zM230.6 22.4h1.1v1.1h-1.1zM231.9 28.2h1.1v1.1h-1.1zM246.8 24.5h1.1v1.1h-1.1zM243.7 33.1h1.1v1.1h-1.1zM244.5 30.9h1.1v1.1h-1.1zM255.7 31.4h1.1v1.1h-1.1zM232.0 25.5h1.1v1.1h-1.1zM256.7 32.3h1.1v1.1h-1.1zM252.6 27.4h1.1v1.1h-1.1zM230.3 30.2h1.1v1.1h-1.1zM249.2 32.8h1.1v1.1h-1.1zM231.6 28.6h1.1v1.1h-1.1zM240.0 26.2h1.1v1.1h-1.1zM250.7 25.9h1.1v1.1h-1.1zM258.1 32.9h1.1v1.1h-1.1zM233.5 30.3h1.1v1.1h-1.1zM251.6 26.1h1.1v1.1h-1.1zM243.6 31.7h1.1v1.1h-1.1zM244.5 25.3h1.1v1.1h-1.1zM245.7 20.6h1.1v1.1h-1.1zM256.7 27.4h1.1v1.1h-1.1zM243.1 24.0h1.1v1.1h-1.1zM231.3 20.8h1.1v1.1h-1.1zM239.4 27.5h1.1v1.1h-1.1zM239.5 23.6h1.1v1.1h-1.1zM248.1 22.6h1.1v1.1h-1.1zM243.6 27.7h1.1v1.1h-1.1zM231.5 33.6h1.1v1.1h-1.1zM251.8 32.6h1.1v1.1h-1.1zM233.2 22.6h1.1v1.1h-1.1zM256.8 31.1h1.1v1.1h-1.1zM234.1 21.6h1.1v1.1h-1.1zM233.0 23.5h1.1v1.1h-1.1zM237.6 22.6h1.1v1.1h-1.1zM231.1 24.8h1.1v1.1h-1.1zM245.0 24.9h1.1v1.1h-1.1zM236.0 20.2h1.1v1.1h-1.1zM242.4 26.8h1.1v1.1h-1.1zM257.9 23.3h1.1v1.1h-1.1zM233.1 26.2h1.1v1.1h-1.1zM252.0 32.3h1.1v1.1h-1.1zM232.1 27.0h1.1v1.1h-1.1zM231.6 32.2h1.1v1.1h-1.1zM258.2 20.9h1.1v1.1h-1.1zM257.3 31.4h1.1v1.1h-1.1zM235.2 24.7h1.1v1.1h-1.1zM256.9 33.4h1.1v1.1h-1.1zM236.4 24.0h1.1v1.1h-1.1zM242.1 28.6h1.1v1.1h-1.1zM230.9 29.5h1.1v1.1h-1.1zM243.5 26.8h1.1v1.1h-1.1zM232.6 29.1h1.1v1.1h-1.1zM245.4 24.4h1.1v1.1h-1.1zM257.8 33.6h1.1v1.1h-1.1zM246.2 33.9h1.1v1.1h-1.1zM241.0 31.4h1.1v1.1h-1.1zM250.3 31.8h1.1v1.1h-1.1zM257.4 29.2h1.1v1.1h-1.1zM236.0 22.9h1.1v1.1h-1.1zM252.2 22.4h1.1v1.1h-1.1zM246.8 20.6h1.1v1.1h-1.1zM238.1 23.6h1.1v1.1h-1.1zM240.0 28.7h1.1v1.1h-1.1zM238.9 20.1h1.1v1.1h-1.1zM232.0 22.9h1.1v1.1h-1.1zM250.8 32.2h1.1v1.1h-1.1zM252.3 22.8h1.1v1.1h-1.1zM232.1 23.7h1.1v1.1h-1.1zM240.9 28.6h1.1v1.1h-1.1zM238.1 21.9h1.1v1.1h-1.1zM233.6 21.3h1.1v1.1h-1.1zM244.9 25.9h1.1v1.1h-1.1zM244.3 21.6h1.1v1.1h-1.1zM233.6 32.3h1.1v1.1h-1.1zM257.6 21.1h1.1v1.1h-1.1zM248.8 23.2h1.1v1.1h-1.1zM243.8 22.8h1.1v1.1h-1.1zM242.0 23.1h1.1v1.1h-1.1zM248.6 25.1h1.1v1.1h-1.1zM239.7 28.2h1.1v1.1h-1.1zM249.1 23.7h1.1v1.1h-1.1z" fill="#000"/>
<path d="M249.2 33.1h1.0v1.0h-1.0zM247.7 33.1h1.0v1.0h-1.0zM240.9 35.4h1.0v1.0h-1.0zM255.1 34.6h1.0v1.0h-1.0zM238.1 33.4h1.0v1.0h-1.0zM255.5 36.1h1.0v1.0h-1.0zM233.0 35.6h1.0v1.0h-1.0zM243.1 33.8h1.0v1.0h-1.0zM252.9 33.1h1.0v1.0h-1.0zM230.9 35.4h1.0v1.0h-1.0zM250.2 37.0h1.0v1.0h-1.0zM253.7 36.5h1.0v1.0h-1.0zM249.4 33.6h1.0v1.0h-1.0zM232.1 33.7h1.0v1.0h-1.0zM244.7 34.9h1.0v1.0h-1.0zM248.9 33.2h1.0v1.0h-1.0zM236.4 33.1h1.0v1.0h-1.0zM252.9 34.7h1.0v1.0h-1.0zM236.7 35.2h1.0v1.0h-1.0zM233.2 33.2h1.0v1.0h-1.0zM259.0 35.6h1.0v1.0h-1.0zM252.9 36.7h1.0v1.0h-1.0zM245.0 35.3h1.0v1.0h-1.0zM244.4 36.3h1.0v1.0h-1.0zM245.0 33.4h1.0v1.0h-1.0z" fill="#000"/>
<path d="M255.3 9.1h1.0v1.0h-1.0zM258.3 19.4h1.0v1.0h-1.0zM255.2 22.6h1.0v1.0h-1.0zM252.9 23.5h1.0v1.0h-1.0zM249.5 22.3h1.0v1.0h-1.0zM248.8 11.3h1.0v1.0h-1.0zM247.7 14.5h1.0v1.0h-1.0zM256.0 22.2h1.0v1.0h-1.0zM243.0 15.2h1.0v1.0h-1.0zM251.1 23.6h1.0v1.0h-1.0z" fill="#000"/>
<path d="M119.5 12.5h1.2v1.2h-1.2zM122.0 24.7h1.2v1.2h-1.2zM111.7 16.2h1.2v1.2h-1.2zM118.3 23.3h1.2v1.2h-1.2zM114.4 19.2h1.2v1.2h-1.2zM113.7 25.4h1.2v1.2h-1.2zM116.1 35.7h1.2v1.2h-1.2zM117.5 14.4h1.2v1.2h-1.2zM112.1 13.6h1.2v1.2h-1.2zM120.9 31.1h1.2v1.2h-1.2zM116.5 13.7h1.2v1.2h-1.2zM117.2 14.5h1.2v1.2h-1.2zM117.8 35.0h1.2v1.2h-1.2zM118.8 13.1h1.2v1.2h-1.2zM120.0 16.0h1.2v1.2h-1.2zM119.8 12.8h1.2v1.2h-1.2zM119.1 19.8h1.2v1.2h-1.2zM114.2 26.1h1.2v1.2h-1.2zM115.5 22.8h1.2v1.2h-1.2zM121.0 24.1h1.2v1.2h-1.2zM119.4 30.2h1.2v1.2h-1.2zM115.3 17.8h1.2v1.2h-1.2zM113.4 24.0h1.2v1.2h-1.2zM118.2 20.9h1.2v1.2h-1.2zM120.9 15.3h1.2v1.2h-1.2zM121.9 24.6h1.2v1.2h-1.2zM112.5 35.5h1.2v1.2h-1.2zM121.2 12.5h1.2v1.2h-1.2zM117.9 17.0h1.2v1.2h-1.2zM117.6 15.7h1.2v1.2h-1.2zM111.9 30.6h1.2v1.2h-1.2zM115.2 26.9h1.2v1.2h-1.2zM114.7 13.0h1.2v1.2h-1.2zM114.4 23.8h1.2v1.2h-1.2zM112.8 19.9h1.2v1.2h-1.2zM114.5 31.3h1.2v1.2h-1.2zM118.4 28.5h1.2v1.2h-1.2zM111.4 19.3h1.2v1.2h-1.2zM121.5 23.5h1.2v1.2h-1.2zM116.8 29.1h1.2v1.2h-1.2z" fill="#000"/>
<path d="M50.0,104.0 Q53.0,110.0 59.0,106.0" stroke="#000" stroke-width="1.6" fill="none"/>
<path d="M53.1 105.3h1.2v1.2h-1.2zM50.2 106.2h1.2v1.2h-1.2zM52.9 102.2h1.2v1.2h-1.2zM59.6 106.2h1.2v1.2h-1.2zM58.2 101.9h1.2v1.2h-1.2zM57.4 100.5h1.2v1.2h-1.2zM51.0 101.1h1.2v1.2h-1.2zM57.3 103.1h1.2v1.2h-1.2zM58.4 101.9h1.2v1.2h-1.2zM55.5 107.3h1.2v1.2h-1.2zM59.4 105.8h1.2v1.2h-1.2zM53.1 100.8h1.2v1.2h-1.2zM55.3 100.9h1.2v1.2h-1.2zM53.4 102.0h1.2v1.2h-1.2z" fill="#000"/>
<path d="M48.0,160.0 Q50.0,166.0 57.0,163.0" stroke="#000" stroke-width="1.6" fill="none"/>
<path d="M49.8 157.3h1.2v1.2h-1.2zM48.6 158.4h1.2v1.2h-1.2zM50.1 159.5h1.2v1.2h-1.2zM58.0 161.4h1.2v1.2h-1.2zM51.3 157.8h1.2v1.2h-1.2zM48.5 160.1h1.2v1.2h-1.2zM54.9 162.6h1.2v1.2h-1.2zM54.5 158.9h1.2v1.2h-1.2zM53.0 164.4h1.2v1.2h-1.2zM52.3 160.0h1.2v1.2h-1.2zM53.9 165.2h1.2v1.2h-1.2zM56.0 158.6h1.2v1.2h-1.2z" fill="#000"/>
<path d="M42.0,220.0 Q44.0,227.0 52.0,221.0" stroke="#000" stroke-width="2.4" fill="none"/>
<path d="M44.0,219.0 Q46.0,223.0 50.0,219.0" stroke="#000" stroke-width="1" fill="none"/>
<path d="M27.0,298.0 Q36.0,308.0 31.0,319.0" stroke="#000" stroke-width="2.2" fill="none"/>
<path d="M25.2 313.3h1.0v1.0h-1.0zM26.0 315.7h1.0v1.0h-1.0zM33.5 317.2h1.0v1.0h-1.0zM30.2 320.5h1.0v1.0h-1.0zM34.2 318.4h1.0v1.0h-1.0zM37.4 302.1h1.0v1.0h-1.0zM35.6 314.2h1.0v1.0h-1.0zM33.8 303.5h1.0v1.0h-1.0zM33.7 312.2h1.0v1.0h-1.0zM25.6 319.5h1.0v1.0h-1.0zM25.4 301.0h1.0v1.0h-1.0zM26.0 322.2h1.0v1.0h-1.0zM26.2 299.3h1.0v1.0h-1.0zM29.7 320.5h1.0v1.0h-1.0zM37.0 296.8h1.0v1.0h-1.0zM33.8 306.8h1.0v1.0h-1.0zM30.1 317.2h1.0v1.0h-1.0zM31.2 306.4h1.0v1.0h-1.0zM31.7 319.1h1.0v1.0h-1.0zM34.8 301.0h1.0v1.0h-1.0z" fill="#000"/>
<path d="M62.6 326.1h1.1v1.1h-1.1zM90.7 313.6h1.1v1.1h-1.1zM97.3 322.1h1.1v1.1h-1.1zM81.9 319.5h1.1v1.1h-1.1zM82.3 324.6h1.1v1.1h-1.1zM68.5 322.7h1.1v1.1h-1.1zM79.4 305.5h1.1v1.1h-1.1zM83.5 320.7h1.1v1.1h-1.1zM77.4 314.5h1.1v1.1h-1.1zM64.0 328.8h1.1v1.1h-1.1zM97.3 310.1h1.1v1.1h-1.1zM72.7 309.0h1.1v1.1h-1.1zM102.0 304.8h1.1v1.1h-1.1zM69.9 314.6h1.1v1.1h-1.1zM85.4 313.8h1.1v1.1h-1.1zM67.2 308.2h1.1v1.1h-1.1zM89.3 322.0h1.1v1.1h-1.1zM84.0 307.2h1.1v1.1h-1.1zM105.7 312.9h1.1v1.1h-1.1zM69.0 316.7h1.1v1.1h-1.1zM83.5 315.5h1.1v1.1h-1.1zM104.7 313.0h1.1v1.1h-1.1zM75.3 309.9h1.1v1.1h-1.1zM68.9 330.6h1.1v1.1h-1.1zM99.9 323.7h1.1v1.1h-1.1zM77.1 307.6h1.1v1.1h-1.1zM70.4 307.7h1.1v1.1h-1.1zM105.8 313.3h1.1v1.1h-1.1zM76.3 306.1h1.1v1.1h-1.1zM96.7 325.6h1.1v1.1h-1.1zM88.8 326.3h1.1v1.1h-1.1zM105.2 306.1h1.1v1.1h-1.1zM77.8 307.8h1.1v1.1h-1.1zM101.1 321.7h1.1v1.1h-1.1zM74.6 318.7h1.1v1.1h-1.1zM73.6 305.1h1.1v1.1h-1.1zM63.3 325.2h1.1v1.1h-1.1zM103.5 307.3h1.1v1.1h-1.1zM79.1 326.0h1.1v1.1h-1.1zM86.0 306.7h1.1v1.1h-1.1zM65.9 325.4h1.1v1.1h-1.1zM69.2 324.0h1.1v1.1h-1.1zM92.9 319.5h1.1v1.1h-1.1zM90.1 311.6h1.1v1.1h-1.1zM80.8 324.8h1.1v1.1h-1.1zM90.7 318.2h1.1v1.1h-1.1zM83.2 322.2h1.1v1.1h-1.1zM77.2 309.1h1.1v1.1h-1.1zM90.2 310.6h1.1v1.1h-1.1zM94.0 327.8h1.1v1.1h-1.1zM65.3 318.4h1.1v1.1h-1.1zM87.3 328.9h1.1v1.1h-1.1zM94.7 311.5h1.1v1.1h-1.1zM62.1 329.1h1.1v1.1h-1.1zM104.3 308.5h1.1v1.1h-1.1zM78.2 312.9h1.1v1.1h-1.1zM68.2 329.6h1.1v1.1h-1.1zM91.3 306.9h1.1v1.1h-1.1zM80.2 307.0h1.1v1.1h-1.1zM101.7 330.3h1.1v1.1h-1.1zM104.9 328.8h1.1v1.1h-1.1zM85.9 315.2h1.1v1.1h-1.1zM91.9 305.4h1.1v1.1h-1.1zM92.6 320.2h1.1v1.1h-1.1zM102.7 327.6h1.1v1.1h-1.1zM66.5 306.9h1.1v1.1h-1.1zM70.5 322.4h1.1v1.1h-1.1zM63.3 329.3h1.1v1.1h-1.1zM101.5 305.5h1.1v1.1h-1.1zM101.6 310.2h1.1v1.1h-1.1zM71.7 310.6h1.1v1.1h-1.1zM68.6 318.2h1.1v1.1h-1.1zM100.4 307.3h1.1v1.1h-1.1zM80.8 325.2h1.1v1.1h-1.1zM88.8 325.3h1.1v1.1h-1.1zM105.8 319.0h1.1v1.1h-1.1zM101.5 311.9h1.1v1.1h-1.1zM69.5 324.5h1.1v1.1h-1.1zM68.9 328.6h1.1v1.1h-1.1zM66.8 311.3h1.1v1.1h-1.1zM75.2 330.6h1.1v1.1h-1.1zM80.2 307.2h1.1v1.1h-1.1zM70.2 319.9h1.1v1.1h-1.1zM99.3 324.5h1.1v1.1h-1.1zM91.5 305.3h1.1v1.1h-1.1zM78.3 329.8h1.1v1.1h-1.1zM71.5 314.1h1.1v1.1h-1.1zM72.2 312.8h1.1v1.1h-1.1zM71.7 314.0h1.1v1.1h-1.1zM101.5 309.8h1.1v1.1h-1.1z" fill="#000"/>
<path d="M82.0 323.4h1.2v1.2h-1.2zM95.5 325.3h1.2v1.2h-1.2zM88.0 326.8h1.2v1.2h-1.2zM99.6 324.0h1.2v1.2h-1.2zM85.0 321.5h1.2v1.2h-1.2zM90.0 321.7h1.2v1.2h-1.2zM99.4 321.2h1.2v1.2h-1.2zM94.6 326.3h1.2v1.2h-1.2zM92.9 325.9h1.2v1.2h-1.2zM92.5 319.3h1.2v1.2h-1.2zM87.2 319.8h1.2v1.2h-1.2zM91.2 327.9h1.2v1.2h-1.2zM85.1 319.4h1.2v1.2h-1.2zM86.0 320.1h1.2v1.2h-1.2zM94.7 325.0h1.2v1.2h-1.2zM89.8 319.5h1.2v1.2h-1.2zM92.1 320.7h1.2v1.2h-1.2zM94.4 319.8h1.2v1.2h-1.2zM82.5 329.0h1.2v1.2h-1.2zM101.0 324.0h1.2v1.2h-1.2zM94.4 321.8h1.2v1.2h-1.2zM100.9 321.5h1.2v1.2h-1.2zM99.1 325.7h1.2v1.2h-1.2zM99.9 319.8h1.2v1.2h-1.2zM100.5 329.9h1.2v1.2h-1.2zM82.0 319.4h1.2v1.2h-1.2zM100.1 324.1h1.2v1.2h-1.2zM84.2 319.8h1.2v1.2h-1.2zM84.2 324.9h1.2v1.2h-1.2zM85.5 322.8h1.2v1.2h-1.2z" fill="#000"/>
<path d="M57.5,160.0 L122.0,299.0" stroke="#555" stroke-width="1.8" stroke-dasharray="22 9" fill="none"/>
<path d="M59.0,103.0 L121.0,299.0" stroke="#000" stroke-width="2.2" stroke-dasharray="12 7" fill="none"/>
<path d="M42.0,293.0 L127.0,310.0" stroke="#000" stroke-width="2" stroke-dasharray="2.2 2.2" fill="none"/>
<path d="M122.5,22.0 L127.5,332.0" stroke="#000" stroke-width="1.6" stroke-dasharray="12 4 1.5 4" fill="none"/>
<path d="M122.3,8.0 L122.5,22.0" stroke="#000" stroke-width="2.2" fill="none"/>
<path d="M144.3,15.0 L137.3,134.0 L129.0,274.0 L127.1,310.0" stroke="#000" stroke-width="2.6" fill="none"/>
<path d="M127.1,310.0 L126.5,332.0" stroke="#000" stroke-width="1.2" stroke-dasharray="2 1" fill="none"/>
<circle cx="144.0" cy="15.0" r="3.6"/><circle cx="142.5" cy="48.3" r="3.6"/><circle cx="139.7" cy="74.8" r="3.6"/><circle cx="137.4" cy="120.2" r="3.6"/><circle cx="137.3" cy="139.7" r="3.6"/><circle cx="137.2" cy="152.3" r="3.6"/><circle cx="135.2" cy="172.9" r="3.6"/><circle cx="133.9" cy="193.1" r="3.6"/><circle cx="132.2" cy="207.6" r="3.6"/><circle cx="131.5" cy="224.4" r="3.6"/><circle cx="130.0" cy="257.9" r="3.6"/><circle cx="128.9" cy="273.0" r="3.6"/><circle cx="127.8" cy="282.6" r="3.6"/><circle cx="128.9" cy="298.5" r="3.6"/><circle cx="127.1" cy="310.0" r="3.6"/><circle cx="122.3" cy="8.3" r="3.6"/><circle cx="57.0" cy="99.0" r="3.6"/><circle cx="57.0" cy="155.0" r="3.6"/><circle cx="42.0" cy="293.0" r="3.6"/>
</svg></div>
<div class="abs" id="img3" style="left:860px;top:260px;width:252px;height:350px;overflow:hidden;"><svg width="252" height="350" viewBox="0 0 252 350" style="position:absolute;left:0;top:0">
<path d="M56.3,15.2 L61.9,14.6 L67.5,14.1 L73.2,13.7 L78.8,13.3 L84.4,13.0 L90.1,12.7 L95.7,12.5 L101.4,12.3 L107.1,12.2 L112.7,12.2 L118.4,12.2 L124.0,12.3 L129.7,12.5 L135.3,12.7 L141.0,13.0 L146.6,13.3 L152.3,13.7 L157.9,14.1 L163.5,14.6 L169.1,15.2 L174.7,15.8 L180.3,16.5 L185.9,17.2 L191.5,18.0 L197.0,18.9 L202.6,19.8 M235.5,32.3 L240.9,34.7 L246.3,37.1 M6.3,61.5 L11.3,59.1 L16.3,56.7 L21.3,54.4 L26.3,52.1 L31.3,49.9 M56.7,40.4 L61.8,39.8 L66.9,39.2 L72.0,38.7 L77.1,38.2 L82.3,37.8 L87.4,37.5 L92.6,37.2 L97.7,36.9 L102.9,36.7 L108.1,36.6 L113.2,36.5 L118.4,36.5 L123.6,36.5 L128.7,36.6 L133.9,36.7 L139.1,36.9 L144.2,37.2 L149.4,37.5 L154.5,37.8 L159.6,38.2 L164.8,38.7 L169.9,39.2 L175.0,39.8 L180.1,40.4 L185.2,41.1 L190.3,41.9 L195.4,42.6 L200.4,43.5 L205.5,44.4 L210.5,46.1 L215.5,48.1 L220.5,50.2 L225.5,52.3 L230.5,54.4 L235.4,56.6 L240.3,58.9 L245.2,61.2 L250.1,63.5 M5.0,75.9 L9.7,73.5 M47.8,56.0 L52.7,54.0 L57.5,53.1 L62.4,52.4 L67.3,51.8 L72.1,51.2 L77.0,50.7 L81.9,50.3 L86.8,49.9 L91.7,49.5 L96.6,49.3 L101.6,49.0 L106.5,48.8 L111.4,48.7 L116.3,48.6 L121.2,48.6 L126.2,48.6 L131.1,48.7 L136.0,48.8 L140.9,49.0 L145.9,49.3 L150.8,49.5 L155.7,49.9 L160.6,50.3 L165.5,50.7 L170.4,51.2 L175.2,51.8 L180.1,52.4 L185.0,53.1 L189.8,53.8 L194.7,54.5 L199.5,55.4 L204.3,56.2 L209.1,57.6 L213.9,59.5 L218.6,61.4 L223.4,63.5 L228.1,65.5 L232.8,67.6 L237.5,69.8 L242.2,72.0 L246.8,74.3 M5.4,97.9 L9.7,95.6 L14.0,93.2 L18.3,90.9 L22.6,88.7 L27.0,86.5 L31.3,84.4 L35.7,82.2 L40.1,80.2 L44.6,78.2 L49.0,76.2 L53.4,74.3 L57.9,73.4 L62.4,72.7 L66.9,72.0 L71.3,71.4 L75.8,70.8 L80.4,70.3 L84.9,69.8 L89.4,69.4 L93.9,69.0 L98.5,68.7 L103.0,68.4 L107.5,68.2 L112.1,68.0 L116.6,67.9 L121.2,67.8 L125.7,67.8 L130.3,67.8 L134.9,67.9 L139.4,68.0 L143.9,68.2 L148.5,68.4 L153.0,68.7 L157.6,69.0 L162.1,69.4 L166.6,69.8 L171.1,70.3 L175.6,70.8 L180.1,71.4 L184.6,72.0 L189.1,72.7 L193.6,73.4 L198.1,74.1 L202.5,74.9 L206.9,75.8 L211.4,77.5 L215.8,79.3 L220.1,81.2 L224.5,83.1 L228.9,85.1 L233.2,87.1 L237.5,89.2 L241.8,91.3 L246.1,93.4 L250.4,95.6 M16.9,103.3 L21.1,101.1 L25.2,98.9 L29.4,96.7 L33.5,94.6 L37.7,92.5 L41.9,90.5 L46.1,88.5 L50.4,86.6 L54.6,84.8 L58.9,84.0 L63.1,83.3 L67.4,82.6 L71.7,81.9 L76.0,81.3 L80.3,80.8 L84.6,80.3 L89.0,79.8 L93.3,79.4 L97.6,79.1 L102.0,78.8 L106.3,78.5 L110.7,78.3 L115.0,78.1 L119.4,78.0 L123.8,77.9 L128.1,77.9 L132.5,77.9 L136.8,78.0 L141.2,78.1 L145.5,78.3 L149.9,78.5 L154.2,78.8 L158.6,79.1 L162.9,79.4 L167.3,79.8 L171.6,80.3 L175.9,80.8 L180.2,81.3 L184.5,81.9 L188.8,82.6 L193.1,83.3 L197.4,84.0 L201.6,84.8 L205.9,85.6 L210.1,87.0 L214.3,88.8 L218.5,90.6 L222.7,92.4 L226.9,94.3 L231.0,96.2 L235.2,98.2 L239.3,100.2 L243.4,102.3 L247.5,104.4 M4.2,127.6 L8.0,125.3 M30.9,112.1 L34.8,110.0 L38.7,107.9 L42.6,105.9 L46.5,104.0 L50.5,102.1 L54.4,100.2 L58.4,99.4 L62.4,98.6 L66.4,97.8 L70.4,97.1 L74.4,96.5 L78.5,95.9 L82.5,95.3 L86.6,94.8 L90.6,94.3 L94.7,93.9 L98.7,93.5 L102.8,93.1 L106.9,92.9 L111.0,92.6 L115.1,92.4 L119.2,92.2 L123.2,92.1 L127.3,92.1 L131.4,92.0 L135.5,92.1 L139.6,92.1 L143.7,92.2 L147.8,92.4 L151.9,92.6 L156.0,92.9 L160.1,93.1 L164.1,93.5 L168.2,93.9 L172.3,94.3 L176.3,94.8 L180.4,95.3 L184.4,95.9 L188.4,96.5 L192.4,97.1 L196.5,97.8 L200.5,98.6 L204.4,99.4 L208.4,100.3 L212.4,102.0 L216.3,103.7 L220.3,105.4 L224.2,107.2 L228.1,109.0 L232.0,110.9 L235.8,112.8 L239.7,114.8 L243.5,116.8 L247.3,118.8 M3.9,143.5 L7.4,141.2 L10.9,138.9 L14.4,136.7 L18.0,134.5 L21.5,132.3 L25.1,130.1 M50.6,116.1 L54.3,114.2 L58.1,113.3 L61.8,112.4 L65.5,111.6 L69.3,110.9 L73.1,110.2 L76.8,109.5 L80.6,108.9 L84.4,108.3 L88.3,107.8 L92.1,107.3 L95.9,106.8 L99.7,106.4 L103.6,106.0 L107.4,105.7 L111.3,105.4 L115.1,105.2 L119.0,105.0 L122.8,104.8 L126.7,104.7 L130.5,104.7 L134.4,104.6 L138.3,104.7 L142.1,104.7 L146.0,104.8 L149.8,105.0 L153.7,105.2 L157.5,105.4 L161.4,105.7 L165.2,106.0 L169.1,106.4 L172.9,106.8 L176.7,107.3 L180.5,107.8 L184.3,108.3 L188.1,108.9 L191.9,109.5 L195.7,110.2 L199.5,110.9 L203.2,111.6 L207.0,112.4 L210.7,113.8 L214.5,115.4 L218.2,117.0 L221.9,118.7 L225.5,120.5 L229.2,122.2 L232.9,124.1 L236.5,125.9 L240.1,127.8 L243.7,129.7 L247.3,131.7 L250.8,133.7 M3.3,162.4 L6.5,160.1 L9.7,157.9 L12.8,155.6 L16.1,153.4 L19.3,151.2 L22.6,149.1 L25.8,147.0 L29.1,144.9 L32.5,142.8 L35.8,140.8 L39.2,138.8 L42.5,136.9 L45.9,135.0 L49.3,133.1 L52.7,131.2 L56.2,129.7 L59.6,128.8 L63.1,127.9 L66.5,127.1 L70.0,126.3 L73.5,125.6 L77.0,124.9 L80.6,124.2 L84.1,123.6 L87.6,123.0 L91.2,122.4 L94.7,121.9 L98.3,121.4 L101.8,121.0 L105.4,120.6 L109.0,120.3 L112.6,120.0 L116.2,119.7 L119.8,119.5 L123.4,119.3 L127.0,119.1 L130.5,119.0 L134.2,119.0 L137.8,119.0 L141.4,119.0 L145.0,119.0 L148.6,119.1 L152.2,119.3 L155.7,119.5 L159.3,119.7 L162.9,120.0 L166.5,120.3 L170.1,120.6 L173.7,121.0 L177.2,121.4 L180.8,121.9 L184.3,122.4 L187.9,123.0 L191.4,123.6 L195.0,124.2 L198.5,124.9 L202.0,125.6 L205.5,126.3 L209.0,127.2 L212.4,128.7 L215.9,130.3 L219.3,131.8 L222.8,133.5 L226.2,135.1 L229.6,136.8 L233.0,138.6 L236.3,140.4 L239.7,142.2 L243.0,144.0 L246.4,145.9 L249.7,147.8 M3.9,171.8 L6.9,169.5 L10.0,167.2 L13.0,165.0 L16.1,162.8 L19.1,160.6 L22.2,158.5 L25.4,156.4 L28.5,154.3 L31.7,152.3 L34.8,150.2 L38.0,148.3 L41.2,146.3 L44.5,144.4 L47.7,142.5 L51.0,140.6 L54.3,138.8 L57.6,137.7 L60.9,136.7 L64.2,135.9 L67.5,135.0 L70.9,134.2 L74.2,133.4 L77.6,132.7 L81.0,132.0 L84.4,131.4 L87.8,130.8 L91.2,130.2 L94.6,129.7 L98.0,129.2 L101.4,128.7 L104.9,128.3 L108.3,127.9 L111.8,127.6 L115.2,127.3 L118.7,127.0 L122.1,126.8 L125.6,126.6 L129.1,126.5 L132.5,126.4 L136.0,126.3 L139.5,126.3 L142.9,126.3 L146.4,126.4 L149.9,126.5 L153.4,126.6 L156.8,126.8 L160.3,127.0 L163.7,127.3 L167.2,127.6 L170.6,127.9 L174.1,128.3 L177.5,128.7 L180.9,129.2 L184.4,129.7 L187.8,130.2 L191.2,130.8 L194.6,131.4 L198.0,132.0 L201.4,132.7 L204.7,133.4 L208.1,134.2 L211.4,135.5 L214.8,137.0 L218.1,138.6 L221.4,140.2 L224.7,141.8 L228.0,143.4 L231.2,145.1 L234.5,146.8 L237.7,148.6 L240.9,150.3 L244.1,152.2 L247.3,154.0 L250.5,155.9 M4.3,184.5 L7.1,182.2 L9.9,180.0 L12.7,177.8 L15.5,175.6 L18.4,173.4 L21.3,171.3 L24.2,169.2 L27.2,167.1 L30.1,165.0 L33.1,163.0 L36.1,161.0 L39.1,159.1 L42.1,157.2 L45.1,155.3 L48.2,153.4 L51.3,151.6 L54.4,149.8 L57.5,148.5 L60.6,147.6 L63.7,146.7 L66.9,145.8 L70.0,144.9 L73.2,144.1 L76.4,143.4 L79.6,142.6 L82.8,141.9 L86.0,141.3 L89.2,140.6 L92.5,140.0 L95.7,139.5 L99.0,139.0 L102.2,138.5 L105.5,138.1 L108.8,137.7 L112.0,137.3 L115.3,137.0 L118.6,136.7 L121.9,136.5 L125.2,136.3 L128.5,136.1 L131.8,136.0 L135.1,135.9 L138.4,135.8 L141.7,135.8 L145.0,135.8 L148.3,135.9 L151.6,136.0 L154.9,136.1 L158.2,136.3 L161.5,136.5 L164.8,136.7 L168.1,137.0 L171.4,137.3 L174.6,137.7 L177.9,138.1 L181.2,138.5 L184.4,139.0 L187.7,139.5 L190.9,140.0 L194.2,140.6 L197.4,141.3 L200.6,141.9 L203.8,142.6 L207.0,143.4 L210.2,144.4 L213.4,145.8 M229.0,153.5 L232.1,155.1 L235.2,156.8 L238.3,158.5 L241.3,160.2 L244.3,162.0 L247.3,163.8 L250.3,165.6 M3.8,203.2 L6.3,200.9 L8.8,198.7 L11.3,196.5 L13.8,194.3 L16.4,192.1 L19.0,190.0 L21.6,187.9 L24.3,185.8 L26.9,183.7 L29.6,181.7 L32.3,179.7 L35.0,177.7 L37.8,175.8 L40.5,173.9 L43.3,172.0 L46.1,170.1 L48.9,168.3 L51.7,166.4 L54.6,164.7 L57.4,163.4 L60.3,162.4 L63.2,161.4 L66.1,160.5 L69.0,159.6 L71.9,158.7 L74.8,157.9 L77.8,157.1 L80.8,156.3 L83.7,155.6 L86.7,154.9 L89.7,154.2 L92.7,153.6 L95.7,153.0 L98.7,152.5 L101.8,152.0 L104.8,151.5 L107.8,151.0 L110.9,150.6 L113.9,150.2 L117.0,149.9 L120.1,149.6 L123.1,149.3 L126.2,149.1 L129.3,148.9 L132.3,148.7 L135.4,148.6 L138.5,148.5 L141.6,148.5 L144.7,148.4 L147.8,148.5 L150.8,148.5 L153.9,148.6 L157.0,148.7 L160.1,148.9 L163.1,149.1 L166.2,149.3 L169.3,149.6 L172.3,149.9 L175.4,150.2 L178.5,150.6 L181.5,151.0 L184.5,151.5 L187.6,152.0 L190.6,152.5 L193.6,153.0 L196.6,153.6 L199.6,154.2 L202.6,154.9 L205.6,155.6 L208.6,156.3 L211.5,157.5 M220.4,161.8 L223.3,163.2 L226.2,164.8 L229.1,166.3 L231.9,167.9 L234.8,169.5 L237.6,171.1 L240.4,172.7 L243.2,174.4 L246.0,176.2 L248.8,177.9 M2.6,223.0 L4.8,220.7 L7.0,218.5 L9.2,216.3 L11.5,214.1 L13.7,211.9 L16.0,209.8 L18.3,207.7 L20.7,205.6 L23.0,203.5 L25.4,201.5 L27.8,199.4 L30.2,197.4 M45.2,185.9 L47.7,184.1 L50.3,182.3 L52.9,180.5 L55.5,178.7 L58.1,177.6 L60.8,176.5 L63.4,175.5 L66.1,174.5 L68.7,173.6 L71.4,172.7 L74.1,171.8 L76.9,171.0 L79.6,170.2 L82.3,169.4 L85.1,168.6 L87.8,167.9 L90.6,167.2 L93.4,166.6 L96.2,165.9 L99.0,165.4 L101.8,164.8 L104.6,164.3 L107.4,163.8 L110.3,163.3 L113.1,162.9 L116.0,162.5 L118.8,162.2 L121.7,161.9 L124.5,161.6 L127.4,161.3 L130.3,161.1 L133.1,160.9 L136.0,160.8 L138.9,160.6 L141.7,160.6 L144.6,160.5 L147.5,160.5 L150.4,160.5 L153.2,160.6 L156.1,160.6 L159.0,160.8 L161.9,160.9 L164.7,161.1 L167.6,161.3 L170.5,161.6 L173.3,161.9 L176.2,162.2 L179.0,162.5 L181.9,162.9 L184.7,163.3 L187.5,163.8 L190.4,164.3 L193.2,164.8 L196.0,165.4 L198.8,165.9 L201.6,166.6 L204.4,167.2 L207.1,167.9 L209.9,168.7 L212.7,170.0 L215.4,171.3 L218.1,172.7 L220.8,174.1 L223.5,175.5 L226.2,176.9 L228.9,178.4 L231.6,179.9 L234.2,181.4 L236.9,183.0 M244.7,187.8 L247.3,189.5 L249.8,191.2 M3.0,238.5 L4.9,236.3 L6.9,234.1 L8.9,231.9 L10.9,229.7 L12.9,227.6 L15.0,225.4 L17.0,223.3 L19.1,221.2 L21.3,219.2 L23.4,217.1 L25.6,215.1 L27.8,213.1 L30.0,211.1 L32.2,209.1 L34.4,207.1 L36.7,205.2 L39.0,203.3 L41.3,201.4 L43.6,199.6 L46.0,197.7 L48.3,195.9 L50.7,194.1 L53.1,192.4 L55.5,190.6 L58.0,189.4 L60.4,188.3 L62.9,187.3 L65.3,186.3 L67.8,185.3 L70.3,184.3 L72.8,183.4 L75.4,182.5 L77.9,181.6 L80.5,180.8 L83.0,180.0 L85.6,179.2 L88.2,178.5 L90.8,177.7 L93.4,177.1 L96.0,176.4 L98.6,175.8 L101.3,175.2 L103.9,174.6 L106.6,174.1 L109.2,173.6 L111.9,173.1 L114.6,172.7 L117.3,172.3 L120.0,171.9 L122.6,171.6 L125.3,171.3 L128.0,171.0 L130.7,170.8 L133.4,170.6 L136.2,170.4 L138.9,170.3 L141.6,170.1 L144.3,170.1 L147.0,170.0 L149.7,170.0 L152.4,170.0 L155.2,170.1 L157.9,170.1 L160.6,170.3 L163.3,170.4 L166.0,170.6 L168.7,170.8 L171.4,171.0 L174.1,171.3 L176.8,171.6 L179.5,171.9 L182.2,172.3 L184.9,172.7 L187.5,173.1 L190.2,173.6 L192.9,174.1 L195.5,174.6 L198.2,175.2 L200.8,175.8 L203.4,176.4 L206.0,177.1 L208.7,177.7 L211.3,178.8 L213.8,180.0 L216.4,181.3 L219.0,182.6 L221.5,184.0 L224.1,185.3 L226.6,186.7 L229.1,188.2 L231.6,189.6 L234.1,191.1 L236.6,192.6 L239.1,194.1 L241.5,195.7 L243.9,197.3 L246.3,198.9 L248.7,200.5 M3.0,249.9 L4.7,247.7 L6.5,245.5 L8.3,243.3 L10.1,241.2 M23.6,226.5 L25.7,224.5 L27.7,222.5 L29.8,220.5 L31.8,218.6 L33.9,216.6 L36.1,214.7 L38.2,212.8 L40.4,210.9 L42.6,209.1 L44.8,207.2 L47.0,205.4 L49.2,203.6 L51.5,201.8 L53.7,200.1 L56.0,198.4 L58.3,197.2 L60.6,196.1 L63.0,195.0 L65.3,194.0 L67.7,193.0 L70.1,192.0 L72.5,191.1 L74.9,190.1 L77.3,189.2 L79.7,188.4 L82.2,187.5 L84.6,186.7 L87.1,185.9 L89.6,185.2 L92.0,184.5 L94.5,183.8 L97.1,183.1 L99.6,182.5 L102.1,181.9 L104.6,181.3 L107.2,180.8 L109.7,180.3 L112.3,179.8 L114.8,179.3 L117.4,178.9 L120.0,178.5 L122.6,178.2 L125.2,177.9 L127.8,177.6 L130.3,177.3 L132.9,177.1 L135.6,176.9 L138.2,176.7 L140.8,176.5 L143.4,176.4 L146.0,176.4 L148.6,176.3 L151.2,176.3 L153.8,176.3 L156.4,176.4 L159.0,176.4 L161.6,176.5 L164.2,176.7 L166.9,176.9 L169.5,177.1 L172.1,177.3 L174.6,177.6 L177.2,177.9 L179.8,178.2 L182.4,178.5 L185.0,178.9 L187.6,179.3 L190.1,179.8 L192.7,180.3 L195.2,180.8 L197.8,181.3 L200.3,181.9 L202.8,182.5 L205.4,183.1 L207.9,183.8 L210.4,184.6 L212.8,185.8 L215.3,187.0 L217.8,188.3 L220.2,189.6 L222.7,190.9 L225.1,192.3 L227.5,193.6 L229.9,195.0 L232.3,196.5 L234.7,197.9 L237.1,199.4 L239.4,200.9 L241.8,202.4 M248.7,207.1 L250.9,208.8 M2.7,265.8 L4.2,263.7 L5.8,261.5 L7.3,259.3 L8.9,257.2 L10.6,255.0 L12.2,252.9 L13.9,250.8 L15.6,248.7 L17.3,246.6 L19.0,244.6 L20.8,242.5 L22.6,240.5 L24.4,238.5 L26.2,236.5 L28.1,234.5 L30.0,232.5 L31.9,230.6 L33.8,228.7 L35.7,226.8 L37.7,224.9 L39.6,223.0 L41.6,221.1 M58.3,207.5 L60.4,206.4 L62.6,205.3 L64.8,204.2 L67.0,203.1 L69.2,202.1 L71.5,201.1 L73.7,200.2 L76.0,199.2 L78.2,198.3 L80.5,197.4 L82.8,196.6 L85.1,195.7 L87.5,194.9 L89.8,194.2 L92.1,193.4 L94.5,192.7 L96.8,192.0 L99.2,191.4 L101.6,190.7 L104.0,190.1 L106.4,189.5 L108.8,189.0 L111.2,188.5 L113.6,188.0 L116.1,187.5 L118.5,187.1 L121.0,186.7 L123.4,186.3 L125.9,186.0 L128.3,185.7 L130.8,185.4 L133.2,185.1 L135.7,184.9 L138.2,184.7 L140.7,184.6 L143.1,184.4 L145.6,184.3 L148.1,184.3 L150.6,184.2 L153.1,184.2 L155.5,184.2 L158.0,184.3 L160.5,184.3 L163.0,184.4 L165.5,184.6 L167.9,184.7 L170.4,184.9 L172.9,185.1 L175.3,185.4 L177.8,185.7 L180.3,186.0 L182.7,186.3 L185.2,186.7 L187.6,187.1 L190.0,187.5 L192.5,188.0 L194.9,188.5 L197.3,189.0 L199.7,189.5 L202.1,190.1 L204.5,190.7 L206.9,191.4 L209.3,192.0 L211.6,193.0 L214.0,194.2 L216.3,195.4 L218.7,196.6 L221.0,197.9 L223.3,199.2 L225.6,200.5 L227.9,201.8 L230.1,203.2 L232.4,204.6 L234.7,206.0 L236.9,207.4 L239.1,208.9 L241.3,210.4 L243.5,211.9 L245.7,213.4 L247.8,215.0 L250.0,216.5 M2.1,287.7 L3.3,285.6 L4.6,283.4 L5.8,281.3 L7.1,279.1 L8.4,277.0 L9.8,274.9 L11.1,272.8 L12.5,270.7 L13.9,268.7 L15.3,266.6 L16.8,264.5 L18.3,262.5 L19.8,260.5 L21.3,258.4 L22.8,256.4 L24.4,254.4 L26.0,252.5 L27.6,250.5 L29.3,248.6 L30.9,246.6 L32.6,244.7 L34.3,242.8 L36.0,240.9 L37.8,239.0 L39.5,237.2 L41.3,235.3 M52.4,224.6 L54.3,222.9 L56.3,221.2 L58.2,219.9 L60.2,218.8 L62.1,217.6 L64.1,216.5 L66.2,215.4 L68.2,214.4 L70.2,213.3 L72.3,212.3 L74.3,211.3 L76.4,210.4 L78.5,209.4 L80.6,208.5 L82.8,207.6 L84.9,206.8 L87.0,205.9 L89.2,205.1 L91.4,204.3 L93.6,203.6 L95.8,202.8 L98.0,202.1 L100.2,201.4 L102.4,200.8 L104.6,200.2 L106.9,199.6 L109.1,199.0 L111.4,198.5 L113.6,197.9 L115.9,197.4 L118.2,197.0 L120.5,196.6 L122.8,196.1 L125.0,195.8 L127.3,195.4 L129.7,195.1 L132.0,194.8 L134.3,194.5 L136.6,194.3 L138.9,194.1 L141.2,193.9 L143.6,193.7 L145.9,193.6 L148.2,193.5 L150.5,193.4 L152.9,193.4 L155.2,193.4 L157.5,193.4 L159.9,193.4 L162.2,193.5 L164.5,193.6 L166.9,193.7 L169.2,193.9 L171.5,194.1 L173.8,194.3 L176.1,194.5 L178.5,194.8 L180.8,195.1 L183.1,195.4 L185.4,195.8 L187.7,196.1 L190.0,196.6 L192.2,197.0 L194.5,197.4 L196.8,197.9 L199.1,198.5 L201.3,199.0 L203.6,199.6 L205.8,200.2 L208.0,200.8 L210.3,201.4 L212.5,202.6 L214.7,203.7 L216.9,204.9 L219.0,206.1 L221.2,207.3 L223.4,208.5 L225.5,209.8 L227.7,211.1 L229.8,212.4 L231.9,213.7 L234.0,215.1 L236.1,216.4 L238.1,217.8 L240.2,219.3 L242.2,220.7 L244.3,222.2 L246.3,223.7 L248.3,225.2 L250.3,226.7 M2.3,310.1 L3.2,308.0 L4.1,305.9 L5.1,303.8 L6.0,301.7 L7.0,299.6 L8.0,297.5 L9.1,295.4 L10.1,293.3 L11.2,291.3 L12.3,289.2 L13.5,287.2 L14.6,285.1 L15.8,283.1 M24.8,269.1 L26.2,267.2 L27.6,265.2 L29.0,263.3 L30.5,261.4 L31.9,259.5 M39.6,250.2 L41.1,248.3 L42.8,246.5 L44.4,244.7 L46.0,242.9 M58.1,231.2 L59.9,230.0 L61.7,228.9 L63.5,227.7 L65.3,226.6 L67.2,225.5 L69.1,224.4 L71.0,223.3 L72.9,222.3 L74.8,221.3 L76.7,220.3 L78.7,219.3 L80.6,218.4 L82.6,217.5 L84.6,216.6 L86.6,215.7 L88.6,214.8 L90.6,214.0 L92.6,213.2 L94.7,212.5 L96.7,211.7 L98.8,211.0 L100.9,210.3 L102.9,209.6 L105.0,209.0 L107.1,208.4 L109.2,207.8 L111.4,207.2 L113.5,206.6 L115.6,206.1 L117.8,205.6 L119.9,205.2 L122.1,204.7 L124.2,204.3 L126.4,203.9 L128.5,203.6 L130.7,203.2 L132.9,202.9 L135.1,202.6 L137.3,202.4 L139.5,202.2 L141.7,202.0 L143.9,201.8 L146.1,201.6 L148.3,201.5 L150.5,201.4 L152.7,201.4 L154.9,201.3 L157.1,201.3 L159.3,201.3 L161.5,201.4 L163.7,201.4 L165.9,201.5 L168.1,201.6 L170.3,201.8 L172.5,202.0 L174.7,202.2 L176.9,202.4 L179.0,202.6 L181.2,202.9 L183.4,203.2 L185.6,203.6 L187.8,203.9 L189.9,204.3 L192.1,204.7 L194.2,205.2 L196.4,205.6 L198.5,206.1 L200.7,206.6 L202.8,207.2 L204.9,207.8 L207.0,208.4 L209.1,209.0 L211.2,209.8 L213.3,210.8 L215.4,212.0 M221.5,215.4 L223.5,216.6 L225.6,217.8 L227.6,219.1 L229.6,220.4 L231.6,221.6 L233.5,222.9 L235.5,224.3 L237.4,225.6 L239.4,227.0 L241.3,228.4 L243.2,229.8 L245.1,231.2 L246.9,232.7 L248.8,234.2 L250.6,235.7 M2.1,339.0 L2.6,336.9 L3.1,334.9 L3.6,332.9 L4.2,330.8 L4.7,328.8 L5.3,326.7 L6.0,324.7 L6.6,322.7 L7.3,320.6 L8.0,318.6 M10.3,312.5 L11.2,310.5 L12.0,308.4 L12.9,306.4 L13.8,304.4 L14.7,302.4 L15.6,300.4 L16.6,298.4 L17.6,296.4 L18.6,294.4 L19.6,292.5 L20.7,290.5 L21.8,288.5 L22.9,286.6 L24.0,284.6 L25.2,282.7 L26.4,280.8 L27.6,278.8 L28.8,276.9 L30.0,275.0 L31.3,273.1 L32.6,271.3 L33.9,269.4 L35.2,267.5 L36.6,265.7 L38.0,263.8 L39.3,262.0 L40.8,260.2 L42.2,258.4 L43.7,256.6 L45.1,254.8 L46.6,253.1 L48.1,251.3 L49.7,249.6 L51.2,247.9 L52.8,246.2 L54.4,244.5 L56.0,242.8 L57.6,241.3 L59.3,240.1 L60.9,238.9 L62.6,237.7 L64.3,236.5 L66.0,235.4 L67.7,234.2 L69.4,233.1 L71.2,232.1 L73.0,231.0 L74.8,230.0 L76.6,229.0 L78.4,228.0 L80.2,227.0 L82.0,226.0 L83.9,225.1 L85.7,224.2 L87.6,223.3 L89.5,222.5 L91.4,221.6 L93.3,220.8 L95.3,220.0 L97.2,219.3 L99.1,218.5 L101.1,217.8 L103.1,217.1 L105.0,216.5 L107.0,215.8 L109.0,215.2 L111.0,214.6 L113.0,214.0 L115.0,213.5 L117.1,213.0 L119.1,212.5 L121.1,212.0 L123.2,211.5 L125.2,211.1 L127.3,210.7 L129.4,210.4 L131.4,210.0 L133.5,209.7 L135.6,209.4 L137.7,209.1 L139.7,208.9 L141.8,208.7 L143.9,208.5 L146.0,208.3 L148.1,208.2 L150.2,208.0 L152.3,208.0 L154.4,207.9 L156.5,207.9 L158.6,207.8 L160.7,207.9 L162.8,207.9 L164.9,208.0 L167.0,208.0 L169.1,208.2 L171.2,208.3 L173.3,208.5 L175.4,208.7 L177.5,208.9 L179.5,209.1 L181.6,209.4 L183.7,209.7 L185.8,210.0 L187.8,210.4 L189.9,210.7 L192.0,211.1 L194.0,211.5 L196.1,212.0 L198.1,212.5 L200.1,213.0 L202.2,213.5 L204.2,214.0 L206.2,214.6 L208.2,215.2 L210.2,215.8 L212.2,216.8 L214.1,217.8 L216.1,218.9 L218.1,220.0 L220.0,221.1 L221.9,222.3 L223.9,223.4 L225.8,224.6 L227.7,225.8 L229.6,227.1 L231.5,228.3 L233.3,229.6 M242.4,236.3 L244.2,237.7 L246.0,239.1 L247.8,240.5 L249.5,241.9 M9.7,345.9 L10.0,344.0 L10.4,342.0 L10.8,340.1 L11.2,338.1 L11.7,336.2 L12.2,334.2 L12.7,332.3 L13.2,330.3 L13.8,328.4 L14.4,326.4 L15.0,324.5 L15.6,322.5 L16.2,320.6 L16.9,318.6 M21.5,307.0 L22.4,305.1 L23.2,303.2 L24.1,301.3 L25.0,299.4 M31.0,288.0 L32.1,286.2 L33.2,284.3 L34.3,282.5 L35.5,280.6 M44.1,268.1 L45.4,266.3 L46.7,264.6 L48.0,262.8 L49.4,261.1 L50.8,259.4 L52.2,257.7 L53.6,256.0 L55.1,254.4 L56.5,252.7 L58.0,251.2 L59.5,250.0 L61.0,248.8 L62.5,247.6 L64.1,246.4 L65.6,245.2 L67.2,244.0 L68.8,242.9 L70.4,241.8 L72.0,240.7 L73.7,239.6 L75.3,238.6 L77.0,237.5 L78.7,236.5 L80.4,235.5 L82.1,234.5 L83.8,233.6 L85.5,232.7 L87.3,231.8 L89.1,230.9 L90.8,230.0 L92.6,229.2 L94.4,228.3 L96.2,227.5 L98.0,226.8 L99.9,226.0 L101.7,225.3 L103.6,224.6 L105.4,223.9 L107.3,223.2 L109.2,222.6 L111.1,222.0 L113.0,221.4 L114.9,220.8 L116.8,220.3 L118.7,219.7 L120.6,219.2 L122.6,218.8 L124.5,218.3 L126.4,217.9 L128.4,217.5 L130.4,217.1 L132.3,216.8 L134.3,216.4 L136.3,216.1 L138.2,215.8 L140.2,215.6 L142.2,215.3 L144.2,215.1 L146.2,215.0 L148.2,214.8 L150.1,214.7 L152.1,214.6 L154.1,214.5 L156.1,214.4 L158.1,214.4 L160.1,214.4 L162.1,214.4 L164.1,214.4 L166.1,214.5 L168.1,214.6 L170.1,214.7 L172.1,214.8 L174.1,215.0 L176.1,215.1 L178.1,215.3 L180.1,215.6 L182.0,215.8 L184.0,216.1 L186.0,216.4 L187.9,216.8 L189.9,217.1 L191.9,217.5 L193.8,217.9 L195.8,218.3 L197.7,218.8 L199.6,219.2 L201.6,219.7 L203.5,220.3 L205.4,220.8 L207.3,221.4 L209.2,222.0 L211.1,222.7 L213.0,223.7 L214.8,224.7 L216.7,225.8 L218.5,226.8 L220.4,227.9 L222.2,229.0 L224.0,230.2 L225.8,231.3 L227.6,232.5 L229.4,233.7 L231.2,234.9 L233.0,236.2 L234.7,237.4 L236.5,238.7 L238.2,240.0 L239.9,241.3 L241.6,242.6 L243.3,244.0 L244.9,245.3 L246.6,246.7 L248.2,248.1 L249.9,249.5 M16.8,346.9 L17.1,345.0 L17.4,343.1 L17.8,341.2 L18.2,339.4 L18.6,337.5 L19.0,335.6 L19.5,333.7 L20.0,331.8 L20.5,329.9 L21.0,328.1 L21.6,326.2 L22.1,324.3 L22.7,322.4 L23.4,320.6 L24.0,318.7 L24.7,316.8 L25.4,314.9 M27.6,309.3 L28.4,307.5 L29.2,305.6 L30.1,303.8 L30.9,302.0 L31.8,300.1 L32.7,298.3 L33.6,296.5 L34.6,294.6 L35.6,292.8 L36.5,291.0 L37.6,289.2 L38.6,287.4 L39.6,285.6 L40.7,283.9 L41.8,282.1 L42.9,280.3 L44.1,278.6 L45.2,276.9 L46.4,275.1 L47.6,273.4 L48.8,271.7 L50.0,270.0 M55.2,263.3 L56.5,261.7 L57.9,260.1 L59.2,258.9 L60.6,257.6 L62.0,256.4 L63.4,255.2 L64.8,254.0 L66.3,252.8 L67.8,251.6 L69.2,250.4 L70.7,249.3 L72.2,248.2 L73.8,247.1 L75.3,246.0 L76.9,245.0 L78.4,243.9 L80.0,242.9 L81.6,241.9 L83.2,241.0 L84.9,240.0 L86.5,239.1 L88.2,238.1 L89.8,237.3 L91.5,236.4 L93.2,235.5 L94.9,234.7 L96.6,233.9 L98.3,233.1 L100.1,232.3 L101.8,231.6 L103.6,230.8 L105.3,230.1 L107.1,229.5 L108.9,228.8 L110.7,228.2 L112.5,227.5 L114.3,227.0 L116.1,226.4 L118.0,225.8 L119.8,225.3 L121.6,224.8 L123.5,224.3 L125.3,223.9 L127.2,223.4 L129.1,223.0 L130.9,222.6 L132.8,222.3 L134.7,221.9 L136.6,221.6 L138.5,221.3 L140.4,221.0 L142.3,220.8 L144.2,220.6 L146.1,220.4 L148.0,220.2 L149.9,220.0 L151.8,219.9 L153.7,219.8 L155.6,219.7 L157.5,219.7 L159.4,219.6 L161.4,219.6 L163.3,219.6 L165.2,219.7 L167.1,219.7 L169.0,219.8 L170.9,219.9 L172.8,220.0 L174.8,220.2 L176.7,220.4 L178.6,220.6 L180.5,220.8 L182.4,221.0 L184.3,221.3 L186.2,221.6 L188.0,221.9 L189.9,222.3 L191.8,222.6 L193.7,223.0 L195.5,223.4 L197.4,223.9 L199.3,224.3 L201.1,224.8 L202.9,225.3 L204.8,225.8 L206.6,226.4 L208.4,227.0 L210.2,227.5 L212.0,228.4 L213.8,229.4 L215.6,230.4 L217.4,231.4 L219.1,232.5 L220.9,233.6 L222.6,234.7 L224.4,235.8 L226.1,236.9 L227.8,238.0 L229.5,239.2 L231.2,240.4 L232.9,241.6 L234.6,242.8 M242.7,249.2 L244.3,250.6 L245.8,251.9 L247.4,253.3 L249.0,254.6 L250.5,256.0 M24.7,345.8 L25.0,344.0 M27.3,333.2 L27.7,331.4 L28.2,329.6 M31.6,318.7 L32.2,317.0 L32.9,315.2 L33.6,313.4 L34.3,311.6 L35.0,309.8 L35.8,308.0 L36.6,306.2 L37.4,304.5 L38.2,302.7 L39.0,301.0 L39.9,299.2 M44.5,290.5 L45.5,288.8 L46.5,287.1 L47.5,285.4 L48.6,283.7 L49.6,282.0 L50.7,280.3 L51.8,278.7 L53.0,277.0 L54.1,275.4 L55.3,273.7 L56.4,272.1 L57.6,270.5 L58.9,269.2 L60.1,267.9 L61.3,266.6 L62.6,265.4 L63.9,264.1 L65.2,262.9 L66.5,261.7 L67.8,260.5 L69.2,259.3 L70.6,258.2 L71.9,257.1 L73.3,255.9 L74.8,254.8 L76.2,253.8 L77.6,252.7 L79.1,251.6 L80.6,250.6 L82.0,249.6 L83.5,248.6 L85.1,247.6 L86.6,246.7 L88.1,245.7 L89.7,244.8 L91.2,243.9 L92.8,243.0 L94.4,242.2 L96.0,241.3 L97.6,240.5 L99.3,239.7 L100.9,238.9 L102.5,238.2 L104.2,237.4 L105.9,236.7 L107.5,236.0 L109.2,235.4 L110.9,234.7 L112.6,234.1 L114.3,233.5 L116.0,232.9 L117.8,232.3 L119.5,231.7 L121.3,231.2 L123.0,230.7 L124.8,230.2 L126.5,229.8 L128.3,229.3 L130.1,228.9 L131.9,228.5 L133.6,228.2 L135.4,227.8 L137.2,227.5 L139.0,227.2 L140.8,226.9 L142.6,226.6 L144.4,226.4 L146.3,226.2 L148.1,226.0 L149.9,225.8 L151.7,225.7 L153.5,225.5 L155.4,225.4 L157.2,225.4 L159.0,225.3 L160.9,225.3 L162.7,225.3 L164.5,225.3 L166.3,225.3 L168.2,225.4 L170.0,225.4 L171.8,225.5 L173.6,225.7 L175.5,225.8 L177.3,226.0 L179.1,226.2 L180.9,226.4 L182.7,226.6 L184.5,226.9 L186.3,227.2 L188.1,227.5 L189.9,227.8 L191.7,228.2 L193.5,228.5 L195.3,228.9 L197.1,229.3 L198.8,229.8 L200.6,230.2 L202.4,230.7 L204.1,231.2 L205.9,231.7 L207.6,232.3 L209.3,232.9 L211.0,233.5 L212.8,234.4 L214.5,235.4 L216.2,236.4 L217.8,237.4 L219.5,238.4 L221.2,239.5 L222.8,240.5 L224.5,241.6 L226.1,242.7 L227.7,243.8 L229.4,245.0 L231.0,246.1 L232.5,247.3 L234.1,248.5 L235.7,249.7 L237.2,250.9 L238.8,252.2 L240.3,253.4 L241.8,254.7 L243.3,256.0 L244.8,257.3 L246.3,258.6 M30.8,346.6 L31.1,344.9 L31.4,343.2 L31.7,341.4 L32.0,339.7 L32.4,337.9 L32.7,336.2 L33.1,334.5 L33.6,332.7 L34.0,331.0 L34.5,329.2 L35.0,327.5 L35.5,325.8 L36.0,324.0 L36.6,322.3 L37.1,320.5 L37.7,318.8 L38.4,317.1 L39.0,315.4 L39.7,313.6 L40.3,311.9 L41.0,310.2 L41.8,308.5 L42.5,306.8 L43.3,305.0 L44.1,303.3 L44.9,301.6 L45.7,299.9 L46.6,298.3 L47.4,296.6 L48.3,294.9 L49.2,293.2 L50.2,291.6 L51.1,289.9 L52.1,288.3 L53.1,286.6 L54.1,285.0 M58.3,278.7 L59.4,277.4 L60.5,276.1 L61.6,274.8 L62.8,273.5 L63.9,272.3 L65.1,271.0 L66.3,269.8 L67.5,268.6 L68.8,267.4 L70.0,266.2 L71.3,265.0 L72.6,263.9 L73.9,262.8 L75.2,261.7 L76.5,260.6 L77.9,259.5 L79.2,258.4 L80.6,257.4 L82.0,256.3 L83.4,255.3 L84.8,254.3 L86.2,253.3 L87.7,252.4 L89.1,251.4 L90.6,250.5 L92.1,249.6 L93.6,248.7 L95.1,247.9 L96.6,247.0 L98.1,246.2 L99.7,245.4 L101.2,244.6 L102.8,243.8 L104.3,243.1 L105.9,242.3 L107.5,241.6 L109.1,240.9 L110.7,240.3 L112.4,239.6 L114.0,239.0 L115.6,238.4 L117.3,237.8 L118.9,237.2 L120.6,236.7 L122.3,236.1 L123.9,235.6 L125.6,235.1 L127.3,234.7 L129.0,234.2 L130.7,233.8 L132.4,233.4 L134.1,233.0 L135.8,232.7 L137.6,232.3 L139.3,232.0 L141.0,231.7 L142.8,231.4 L144.5,231.2 L146.2,230.9 L148.0,230.7 L149.7,230.6 L151.5,230.4 L153.2,230.2 L155.0,230.1 L156.7,230.0 L158.5,229.9 L160.2,229.9 L162.0,229.9 L163.8,229.9 L165.5,229.9 L167.3,229.9 L169.0,229.9 L170.8,230.0 L172.6,230.1 L174.3,230.2 L176.1,230.4 L177.8,230.6 L179.6,230.7 L181.3,230.9 L183.0,231.2 L184.8,231.4 L186.5,231.7 L188.2,232.0 L190.0,232.3 L191.7,232.7 L193.4,233.0 L195.1,233.4 L196.8,233.8 L198.5,234.2 L200.2,234.7 L201.9,235.1 L203.6,235.6 L205.3,236.1 L206.9,236.7 L208.6,237.2 L210.3,237.8 L211.9,238.5 L213.5,239.5 L215.2,240.4 L216.8,241.4 L218.4,242.4 L220.0,243.4 L221.6,244.4 L223.2,245.5 L224.8,246.5 L226.3,247.6 L227.9,248.7 L229.4,249.8 L230.9,250.9 L232.5,252.1 L234.0,253.3 L235.5,254.4 L236.9,255.6 L238.4,256.8 M245.5,263.1 L246.9,264.4 L248.3,265.8 L249.7,267.1 M37.2,345.7 L37.4,344.0 L37.7,342.4 L38.0,340.7 L38.3,339.0 L38.6,337.3 L39.0,335.7 L39.4,334.0 L39.8,332.3 M43.2,320.6 L43.8,318.9 L44.4,317.2 L45.0,315.6 L45.6,313.9 L46.3,312.2 L47.0,310.6 L47.7,308.9 L48.4,307.3 L49.1,305.6 L49.9,304.0 L50.7,302.3 L51.5,300.7 L52.3,299.1 L53.1,297.5 L54.0,295.8 L54.8,294.2 L55.7,292.6 L56.6,291.0 L57.6,289.4 L58.5,288.0 L59.5,286.7 L60.5,285.4 L61.5,284.1 L62.5,282.8 L63.5,281.5 L64.6,280.2 L65.6,279.0 L66.7,277.7 L67.8,276.5 L69.0,275.3 L70.1,274.1 L71.3,272.9 L72.4,271.8 L73.6,270.6 L74.8,269.5 L76.0,268.4 L77.3,267.3 L78.5,266.2 L79.8,265.1 L81.1,264.0 L82.3,263.0 L83.6,262.0 L85.0,261.0 L86.3,260.0 L87.6,259.0 L89.0,258.0 L90.4,257.1 L91.8,256.2 L93.2,255.3 L94.6,254.4 L96.0,253.5 L97.4,252.6 L98.9,251.8 L100.3,251.0 L101.8,250.2 L103.3,249.4 L104.8,248.6 L106.3,247.9 L107.8,247.2 L109.3,246.5 L110.8,245.8 L112.4,245.1 L113.9,244.5 L115.5,243.8 L117.0,243.2 L118.6,242.6 L120.2,242.1 L121.8,241.5 L123.4,241.0 L125.0,240.5 L126.6,240.0 L128.2,239.5 L129.8,239.1 L131.4,238.6 L133.1,238.2 L134.7,237.8 L136.4,237.5 L138.0,237.1 L139.7,236.8 L141.3,236.5 L143.0,236.2 L144.7,236.0 L146.3,235.7 L148.0,235.5 L149.7,235.3 L151.4,235.1 L153.0,234.9 L154.7,234.8 L156.4,234.7 L158.1,234.6 L159.8,234.5 L161.5,234.5 L163.2,234.4 L164.8,234.4 L166.5,234.4 L168.2,234.5 L169.9,234.5 L171.6,234.6 L173.3,234.7 L175.0,234.8 L176.6,234.9 L178.3,235.1 L180.0,235.3 L181.7,235.5 L183.4,235.7 L185.0,236.0 L186.7,236.2 L188.4,236.5 L190.0,236.8 L191.7,237.1 L193.3,237.5 L195.0,237.8 L196.6,238.2 L198.2,238.6 L199.9,239.1 L201.5,239.5 L203.1,240.0 L204.7,240.5 L206.3,241.0 L207.9,241.5 L209.5,242.1 L211.1,242.6 L212.6,243.5 L214.2,244.4 L215.8,245.4 L217.3,246.3 L218.9,247.3 L220.4,248.3 L221.9,249.3 L223.4,250.3 L224.9,251.4 L226.4,252.4 L227.9,253.5 L229.3,254.6 L230.8,255.7 L232.2,256.8 L233.7,257.9 L235.1,259.1 L236.5,260.3 L237.9,261.4 M242.0,265.1 L243.4,266.3 L244.7,267.6 L246.0,268.8 L247.3,270.1 M43.1,346.4 L43.3,344.8 L43.5,343.2 L43.8,341.6 L44.1,340.0 L44.4,338.4 L44.7,336.7 L45.1,335.1 L45.4,333.5 L45.8,331.9 L46.2,330.3 L46.7,328.7 M50.2,317.4 L50.8,315.8 L51.4,314.1 M54.8,306.2 L55.5,304.6 L56.3,303.0 L57.0,301.4 L57.8,299.9 L58.6,298.4 L59.4,297.1 L60.3,295.8 L61.1,294.4 L62.0,293.1 L62.9,291.8 L63.8,290.5 L64.7,289.3 L65.7,288.0 L66.6,286.7 L67.6,285.5 L68.6,284.3 L69.6,283.0 L70.7,281.8 L71.7,280.6 L72.8,279.5 L73.8,278.3 L74.9,277.1 L76.0,276.0 L77.2,274.9 L78.3,273.8 L79.5,272.7 L80.6,271.6 L81.8,270.5 L83.0,269.5 L84.2,268.4 L85.4,267.4 L86.7,266.4 L87.9,265.4 L89.2,264.5 L90.5,263.5 L91.8,262.6 L93.1,261.6 L94.4,260.7 L95.7,259.8 L97.1,259.0 L98.4,258.1 L99.8,257.3 L101.2,256.4 L102.6,255.6 L104.0,254.8 L105.4,254.1 L106.8,253.3 L108.2,252.6 L109.7,251.9 L111.1,251.2 L112.6,250.5 L114.0,249.8 L115.5,249.2 L117.0,248.6 L118.5,248.0 L120.0,247.4 L121.5,246.8 L123.0,246.2 L124.5,245.7 L126.1,245.2 L127.6,244.7 L129.2,244.2 L130.7,243.8 L132.3,243.4 L133.8,242.9 L135.4,242.6 L137.0,242.2 L138.5,241.8 L140.1,241.5 L141.7,241.2 L143.3,240.9 L144.9,240.6 L146.5,240.4 L148.1,240.1 L149.7,239.9 L151.3,239.7 L152.9,239.5 L154.6,239.4 L156.2,239.3 L157.8,239.1 L159.4,239.0 L161.0,239.0 L162.6,238.9 L164.3,238.9 L165.9,238.9 L167.5,238.9 L169.1,238.9 L170.7,239.0 L172.4,239.0 L174.0,239.1 L175.6,239.3 L177.2,239.4 L178.8,239.5 L180.4,239.7 L182.1,239.9 L183.7,240.1 L185.3,240.4 L186.9,240.6 L188.5,240.9 L190.1,241.2 L191.6,241.5 L193.2,241.8 L194.8,242.2 L196.4,242.6 L197.9,242.9 L199.5,243.4 L201.1,243.8 L202.6,244.2 L204.2,244.7 L205.7,245.2 L207.2,245.7 L208.8,246.2 L210.3,246.8 L211.8,247.5 L213.3,248.3 M220.7,253.0 L222.1,254.0 L223.6,255.0 L225.0,256.0 L226.4,257.1 M234.7,263.6 L236.0,264.7 L237.4,265.9 L238.7,267.0 L240.0,268.2 L241.3,269.4 L242.6,270.6 L243.8,271.8 L245.1,273.1 L246.3,274.3 L247.6,275.6 L248.8,276.9 L250.0,278.2 M48.3,345.6 L48.5,344.1 L48.8,342.5 L49.0,340.9 L49.3,339.4 L49.6,337.8 L49.9,336.2 L50.3,334.7 L50.6,333.1 L51.0,331.6 L51.4,330.0 M53.2,323.7 L53.6,322.2 L54.2,320.6 L54.7,319.0 L55.2,317.5 L55.8,315.9 L56.4,314.4 M58.9,308.4 L59.6,307.0 L60.3,305.7 L61.0,304.3 L61.8,303.0 L62.5,301.7 L63.3,300.4 L64.1,299.1 L64.9,297.8 L65.7,296.5 L66.6,295.2 L67.4,294.0 L68.3,292.7 L69.2,291.5 L70.1,290.2 L71.1,289.0 L72.0,287.8 L73.0,286.6 L73.9,285.4 L74.9,284.3 L75.9,283.1 L77.0,282.0 L78.0,280.9 L79.0,279.7 L80.1,278.6 L81.2,277.6 L82.3,276.5 L83.4,275.4 L84.5,274.4 L85.7,273.3 L86.8,272.3 L88.0,271.3 L89.2,270.3 L90.4,269.4 L91.6,268.4 L92.8,267.5 L94.1,266.5 L95.3,265.6 L96.6,264.7 L97.8,263.9 L99.1,263.0 L100.4,262.1 L101.7,261.3 L103.0,260.5 L104.4,259.7 L105.7,258.9 L107.0,258.2 L108.4,257.4 L109.8,256.7 L111.2,256.0 L112.5,255.3 L113.9,254.6 L115.3,253.9 L116.8,253.3 L118.2,252.7 L119.6,252.1 L121.1,251.5 L122.5,250.9 L124.0,250.4 L125.4,249.8 L126.9,249.3 L128.4,248.8 L129.9,248.4 L131.4,247.9 L132.9,247.5 L134.4,247.0 L135.9,246.6 L137.4,246.3 L138.9,245.9 L140.4,245.6 L141.9,245.2 L143.5,244.9 L145.0,244.6 L146.6,244.4 L148.1,244.1 L149.6,243.9 L151.2,243.7 L152.7,243.5 L154.3,243.3 L155.9,243.2 L157.4,243.1 L159.0,243.0 L160.5,242.9 L162.1,242.8 L163.7,242.8 L165.2,242.7 L166.8,242.7 L168.3,242.7 L169.9,242.8 L171.5,242.8 L173.0,242.9 L174.6,243.0 L176.2,243.1 L177.7,243.2 L179.3,243.3 L180.8,243.5 L182.4,243.7 L183.9,243.9 L185.5,244.1 L187.0,244.4 L188.6,244.6 L190.1,244.9 L191.6,245.2 L193.2,245.6 L194.7,245.9 L196.2,246.3 L197.7,246.6 L199.2,247.0 L200.7,247.5 L202.2,247.9 L203.7,248.4 L205.2,248.8 L206.7,249.3 L208.1,249.8 L209.6,250.4 L211.1,250.9 L212.5,251.7 L213.9,252.6 L215.4,253.5 L216.8,254.4 L218.2,255.3 L219.6,256.2 L221.0,257.2 L222.4,258.2 L223.8,259.1 L225.2,260.1 L226.5,261.1 L227.9,262.2 L229.2,263.2 L230.5,264.3 L231.9,265.4 L233.2,266.4 L234.5,267.5 L235.7,268.7 M243.2,275.6 L244.4,276.8 L245.6,278.1 L246.7,279.3 L247.9,280.5 L249.0,281.8 L250.2,283.1 M53.3,346.3 L53.5,344.8 L53.7,343.3 L54.0,341.8 L54.2,340.3 L54.5,338.8 L54.8,337.3 L55.1,335.8 M57.7,325.2 L58.2,323.7 L58.7,322.2 L59.1,320.8 L59.7,319.4 L60.2,318.1 L60.7,316.7 L61.3,315.3 L61.9,314.0 L62.5,312.7 L63.1,311.3 L63.8,310.0 L64.4,308.7 L65.1,307.4 L65.8,306.1 L66.5,304.8 L67.2,303.5 L68.0,302.3 L68.7,301.0 L69.5,299.8 L70.3,298.5 L71.1,297.3 L71.9,296.1 L72.8,294.9 L73.7,293.7 L74.5,292.5 L75.4,291.3 L76.3,290.1 L77.3,289.0 L78.2,287.8 L79.2,286.7 L80.1,285.6 L81.1,284.5 L82.1,283.4 L83.1,282.3 L84.2,281.3 L85.2,280.2 L86.3,279.2 L87.3,278.2 L88.4,277.1 L89.5,276.1 L90.6,275.2 L91.8,274.2 L92.9,273.2 L94.1,272.3 L95.2,271.4 L96.4,270.5 L97.6,269.6 L98.8,268.7 L100.0,267.8 L101.2,267.0 L102.5,266.1 L103.7,265.3 L105.0,264.5 L106.2,263.7 L107.5,263.0 L108.8,262.2 L110.1,261.5 L111.4,260.7 L112.7,260.0 L114.1,259.3 L115.4,258.7 L116.8,258.0 L118.1,257.4 L119.5,256.8 L120.8,256.2 L122.2,255.6 L123.6,255.0 L125.0,254.5 L126.4,253.9 L127.8,253.4 L129.2,252.9 L130.7,252.4 L132.1,252.0 L133.5,251.5 L135.0,251.1 L136.4,250.7 L137.9,250.3 L139.3,250.0 L140.8,249.6 L142.3,249.3 L143.7,249.0 L145.2,248.7 L146.7,248.4 L148.2,248.1 L149.7,247.9 L151.2,247.7 L152.7,247.5 L154.1,247.3 L155.6,247.1 L157.1,247.0 L158.6,246.9 L160.1,246.8 L161.7,246.7 L163.2,246.6 L164.7,246.6 L166.2,246.5 L167.7,246.5 L169.2,246.5 L170.7,246.6 L172.2,246.6 L173.7,246.7 L175.2,246.8 L176.7,246.9 L178.2,247.0 L179.7,247.1 L181.2,247.3 L182.7,247.5 L184.2,247.7 L185.7,247.9 L187.2,248.1 L188.7,248.4 L190.1,248.7 L191.6,249.0 L193.1,249.3 L194.6,249.6 L196.0,250.0 L197.5,250.3 L198.9,250.7 L200.4,251.1 L201.8,251.5 L203.3,252.0 L204.7,252.4 L206.1,252.9 L207.5,253.4 L208.9,253.9 L210.3,254.5 L211.7,255.1 L213.1,255.9 L214.5,256.8 L215.9,257.6 L217.2,258.5 L218.6,259.4 L219.9,260.3 L221.3,261.3 L222.6,262.2 L223.9,263.2 L225.2,264.2 L226.5,265.2 L227.8,266.2 L229.1,267.2 L230.4,268.2 L231.6,269.3 L232.9,270.4 L234.1,271.4 L235.4,272.5 L236.6,273.6 L237.8,274.7 M244.7,281.7 L245.8,282.9 L246.9,284.1 L248.0,285.3 L249.1,286.6 L250.1,287.8 M58.2,346.9 L58.4,345.5 L58.5,344.0 L58.7,342.6 L59.0,341.1 L59.2,339.7 L59.4,338.4 L59.7,337.0 L60.0,335.6 L60.3,334.2 L60.7,332.8 L61.0,331.5 L61.4,330.1 L61.8,328.7 L62.2,327.4 L62.6,326.0 L63.0,324.7 L63.5,323.4 L64.0,322.0 L64.4,320.7 L65.0,319.4 L65.5,318.1 L66.0,316.8 L66.6,315.5 L67.2,314.2 L67.8,312.9 L68.4,311.6 L69.0,310.3 L69.7,309.1 L70.4,307.8 L71.0,306.6 L71.7,305.3 L72.5,304.1 L73.2,302.9 L73.9,301.7 L74.7,300.5 L75.5,299.3 L76.3,298.1 L77.1,297.0 L77.9,295.8 L78.8,294.6 L79.6,293.5 L80.5,292.4 L81.4,291.3 L82.3,290.2 L83.2,289.1 L84.2,288.0 L85.1,286.9 L86.1,285.9 L87.1,284.8 L88.1,283.8 L89.1,282.8 L90.1,281.8 L91.1,280.8 L92.2,279.8 L93.2,278.9 L94.3,277.9 L95.4,277.0 L96.5,276.0 L97.6,275.1 L98.7,274.2 L99.9,273.4 L101.0,272.5 L102.2,271.6 L103.3,270.8 L104.5,270.0 L105.7,269.2 L106.9,268.4 L108.1,267.6 L109.3,266.8 L110.6,266.1 L111.8,265.4 L113.1,264.7 L114.3,264.0 L115.6,263.3 L116.9,262.6 L118.2,262.0 L119.5,261.3 L120.8,260.7 L122.1,260.1 L123.4,259.5 L124.7,259.0 L126.1,258.4 L127.4,257.9 L128.8,257.4 L130.1,256.9 L131.5,256.4 L132.9,255.9 L134.3,255.5 L135.6,255.1 L137.0,254.7 L138.4,254.3 L139.8,253.9 L141.2,253.5 L142.6,253.2 L144.1,252.9 L145.5,252.6 L146.9,252.3 L148.3,252.0 L149.8,251.8 L151.2,251.5 L152.6,251.3 L154.1,251.1 L155.5,251.0 L156.9,250.8 L158.4,250.7 L159.8,250.6 L161.3,250.4 L162.7,250.4 L164.2,250.3 L165.6,250.3 L167.1,250.2 L168.5,250.2 L170.0,250.2 L171.4,250.3 L172.9,250.3 L174.4,250.4 L175.8,250.4 L177.2,250.6 L178.7,250.7 L180.1,250.8 L181.6,251.0 L183.0,251.1 L184.5,251.3 L185.9,251.5 L187.3,251.8 L188.8,252.0 L190.2,252.3 L191.6,252.6 L193.0,252.9 L194.4,253.2 L195.9,253.5 L197.3,253.9 L198.7,254.3 L200.1,254.7 L201.4,255.1 L202.8,255.5 L204.2,255.9 L205.6,256.4 L206.9,256.9 L208.3,257.4 L209.7,257.9 L211.0,258.4 L212.3,259.1 L213.7,259.9 L215.0,260.8 L216.3,261.7 M221.5,265.2 L222.8,266.2 L224.0,267.1 L225.3,268.1 L226.5,269.1 L227.8,270.0 L229.0,271.0 L230.2,272.1 L231.4,273.1 L232.6,274.1 L233.8,275.2 L234.9,276.2 L236.1,277.3 L237.2,278.4 L238.4,279.5 L239.5,280.6 L240.6,281.8 L241.7,282.9 L242.8,284.1 L243.9,285.2 L244.9,286.4 L246.0,287.6 L247.0,288.8 L248.0,290.0 L249.0,291.2 L250.0,292.4 L251.0,293.6 M62.8,345.7 L63.0,344.4 L63.2,343.0 L63.4,341.7 L63.6,340.3 L63.8,339.0 L64.1,337.6 L64.4,336.3 L64.7,334.9 L65.0,333.6 L65.3,332.3 L65.7,331.0 L66.1,329.6 L66.5,328.3 L66.9,327.0 L67.3,325.7 L67.7,324.4 L68.2,323.1 L68.7,321.8 L69.2,320.5 L69.7,319.3 L70.2,318.0 L70.8,316.7 L71.3,315.5 L71.9,314.2 L72.5,313.0 L73.1,311.8 L73.7,310.6 L74.4,309.3 L75.0,308.1 L75.7,306.9 L76.4,305.7 L77.1,304.6 L77.9,303.4 L78.6,302.2 L79.4,301.1 L80.1,299.9 L80.9,298.8 L81.7,297.7 L82.5,296.6 L83.4,295.5 L84.2,294.4 L85.1,293.3 L86.0,292.2 L86.8,291.2 L87.7,290.1 L88.7,289.1 L89.6,288.1 L90.5,287.1 L91.5,286.1 L92.5,285.1 L93.5,284.1 L94.5,283.1 L95.5,282.2 L96.5,281.3 L97.5,280.3 L98.6,279.4 L99.6,278.5 L100.7,277.7 L101.8,276.8 L102.9,275.9 L104.0,275.1 L105.1,274.3 L106.3,273.5 L107.4,272.7 L108.6,271.9 L109.7,271.1 L110.9,270.4 L112.1,269.6 L113.3,268.9 L114.5,268.2 L115.7,267.5 L116.9,266.8 L118.1,266.2 L119.4,265.5 L120.6,264.9 L121.9,264.3 L123.1,263.7 L124.4,263.1 L125.7,262.5 L127.0,262.0 L128.3,261.4 L129.6,260.9 L130.9,260.4 L132.2,260.0 L133.5,259.5 L134.8,259.0 L136.2,258.6 L137.5,258.2 L138.8,257.8 L140.2,257.4 L141.5,257.1 L142.9,256.7 L144.3,256.4 L145.6,256.1 L147.0,255.8 L148.4,255.5 L149.8,255.2 L151.1,255.0 L152.5,254.8 L153.9,254.6 L155.3,254.4 L156.7,254.2 L158.1,254.1 L159.5,253.9 L160.9,253.8 L162.3,253.7 L163.7,253.6 L165.1,253.6 L166.5,253.5 L167.9,253.5 L169.3,253.5 L170.7,253.5 L172.1,253.5 L173.5,253.6 L174.9,253.6 L176.3,253.7 L177.7,253.8 L179.1,253.9 L180.5,254.1 L181.9,254.2 L183.3,254.4 L184.7,254.6 L186.1,254.8 L187.5,255.0 L188.9,255.2 L190.2,255.5 L191.6,255.8 L193.0,256.1 L194.4,256.4 L195.7,256.7 L197.1,257.1 L198.4,257.4 L199.8,257.8 L201.1,258.2 L202.5,258.6 L203.8,259.0 L205.1,259.5 L206.4,260.0 L207.8,260.4 L209.1,260.9 L210.4,261.4 L211.7,262.0 L212.9,262.8 L214.2,263.6 L215.5,264.4 L216.8,265.3 L218.0,266.1 L219.3,267.0 L220.5,267.9 L221.7,268.8 L222.9,269.7 M227.7,273.5 L228.9,274.5 L230.1,275.5 L231.2,276.5 L232.4,277.5 L233.5,278.6 L234.6,279.6 L235.7,280.7 L236.8,281.7 M242.1,287.3 L243.1,288.4 L244.2,289.5 L245.2,290.7 L246.1,291.9 L247.1,293.0 L248.1,294.2 L249.0,295.4 L250.0,296.6 L250.9,297.8 M66.8,346.1 L66.9,344.7 L67.1,343.4 L67.3,342.1 L67.6,340.8 L67.8,339.5 L68.1,338.2 L68.3,336.9 L68.6,335.6 L68.9,334.3 L69.3,333.0 L69.6,331.7 L70.0,330.4 L70.3,329.2 L70.7,327.9 L71.1,326.6 L71.6,325.4 L72.0,324.1 L72.5,322.9 L73.0,321.6 L73.5,320.4 L74.0,319.1 L74.5,317.9 L75.0,316.7 L75.6,315.5 L76.2,314.3 L76.8,313.1 L77.4,311.9 L78.0,310.7 L78.7,309.5 L79.3,308.4 L80.0,307.2 L80.7,306.1 L81.4,304.9 L82.1,303.8 L82.8,302.7 L83.6,301.6 L84.3,300.5 L85.1,299.4 L85.9,298.3 L86.7,297.2 L87.5,296.2 L88.4,295.1 L89.2,294.1 L90.1,293.1 L91.0,292.0 L91.9,291.0 L92.8,290.1 L93.7,289.1 L94.6,288.1 L95.5,287.1 L96.5,286.2 L97.5,285.3 L98.5,284.3 L99.4,283.4 L100.4,282.5 L101.5,281.7 L102.5,280.8 L103.5,279.9 L104.6,279.1 L105.7,278.3 L106.7,277.4 L107.8,276.6 L108.9,275.8 L110.0,275.1 L111.1,274.3 L112.3,273.6 L113.4,272.8 L114.5,272.1 L115.7,271.4 L116.9,270.7 L118.0,270.1 L119.2,269.4 L120.4,268.8 L121.6,268.1 L122.8,267.5 L124.0,266.9 L125.3,266.3 L126.5,265.8 L127.7,265.2 L129.0,264.7 L130.2,264.2 L131.5,263.7 L132.8,263.2 L134.0,262.7 L135.3,262.3 L136.6,261.8 L137.9,261.4 L139.2,261.0 L140.5,260.6 L141.8,260.3 L143.1,259.9 L144.4,259.6 L145.7,259.3 L147.1,259.0 L148.4,258.7 L149.7,258.4 L151.1,258.2 L152.4,257.9 L153.7,257.7 L155.1,257.5 L156.4,257.3 L157.8,257.2 L159.1,257.0 L160.5,256.9 L161.9,256.8 L163.2,256.7 L164.6,256.6 L165.9,256.5 L167.3,256.5 L168.6,256.5 L170.0,256.5 L171.4,256.5 L172.7,256.5 L174.1,256.5 L175.4,256.6 L176.8,256.7 L178.2,256.8 L179.5,256.9 L180.9,257.0 L182.2,257.2 L183.6,257.3 L184.9,257.5 L186.3,257.7 L187.6,257.9 L188.9,258.2 L190.3,258.4 L191.6,258.7 L192.9,259.0 L194.3,259.3 L195.6,259.6 L196.9,259.9 L198.2,260.3 L199.5,260.6 L200.8,261.0 L202.1,261.4 L203.4,261.8 L204.7,262.3 L206.0,262.7 L207.3,263.2 L208.5,263.7 L209.8,264.2 L211.0,264.7 L212.3,265.3 L213.5,266.1 L214.8,266.9 L216.0,267.8 L217.2,268.6 L218.4,269.5 L219.6,270.3 L220.8,271.2 L222.0,272.1 L223.2,273.0 L224.3,273.9 L225.5,274.8 L226.6,275.8 L227.8,276.7 L228.9,277.7 L230.0,278.7 L231.1,279.7 L232.2,280.7 L233.3,281.7 L234.4,282.7 L235.4,283.8 L236.5,284.8 L237.5,285.9 M243.5,292.5 L244.5,293.6 L245.4,294.7 M248.2,298.2 L249.1,299.4 L249.9,300.6 L250.8,301.8 M70.7,346.4 L70.9,345.1 L71.1,343.9 L71.3,342.6 L71.5,341.3 L71.7,340.0 L72.0,338.8 L72.2,337.5 L72.5,336.2 L72.8,335.0 L73.1,333.7 L73.5,332.5 L73.8,331.2 L74.2,330.0 L74.6,328.8 L75.0,327.5 L75.4,326.3 L75.8,325.1 L76.2,323.9 L76.7,322.7 L77.2,321.5 L77.7,320.3 L78.2,319.1 L78.7,317.9 L79.3,316.7 L79.8,315.5 L80.4,314.4 L81.0,313.2 L81.6,312.1 L82.2,310.9 L82.9,309.8 L83.5,308.7 L84.2,307.6 L84.9,306.5 L85.6,305.4 L86.3,304.3 L87.0,303.2 L87.7,302.1 L88.5,301.1 L89.3,300.0 L90.0,299.0 L90.8,298.0 L91.6,297.0 L92.5,295.9 L93.3,294.9 L94.1,294.0 L95.0,293.0 L95.9,292.0 L96.8,291.1 L97.7,290.1 L98.6,289.2 L99.5,288.3 L100.4,287.4 L101.4,286.5 L102.4,285.6 L103.3,284.7 L104.3,283.9 L105.3,283.0 L106.3,282.2 L107.3,281.4 L108.4,280.6 L109.4,279.8 L110.5,279.0 L111.5,278.2 L112.6,277.5 L113.7,276.7 L114.8,276.0 L115.9,275.3 L117.0,274.6 L118.1,273.9 L119.2,273.3 L120.4,272.6 L121.5,272.0 L122.7,271.3 L123.8,270.7 L125.0,270.1 L126.2,269.6 L127.4,269.0 L128.5,268.5 L129.8,267.9 L131.0,267.4 L132.2,266.9 L133.4,266.4 L134.6,265.9 L135.9,265.5 L137.1,265.0 L138.3,264.6 L139.6,264.2 L140.8,263.8 L142.1,263.5 L143.4,263.1 L144.6,262.8 L145.9,262.4 L147.2,262.1 L148.5,261.8 L149.8,261.5 L151.1,261.3 L152.4,261.0 L153.6,260.8 L154.9,260.6 L156.3,260.4 L157.6,260.2 L158.9,260.1 L160.2,259.9 L161.5,259.8 L162.8,259.7 L164.1,259.6 L165.4,259.5 L166.7,259.5 L168.1,259.4 L169.4,259.4 L170.7,259.4 L172.0,259.4 L173.3,259.4 L174.6,259.5 L176.0,259.5 L177.3,259.6 L178.6,259.7 L179.9,259.8 L181.2,259.9 L182.5,260.1 L183.8,260.2 L185.1,260.4 L186.4,260.6 L187.7,260.8 L189.0,261.0 L190.3,261.3 L191.6,261.5 L192.9,261.8 L194.2,262.1 L195.5,262.4 L196.8,262.8 L198.0,263.1 L199.3,263.5 L200.5,263.8 L201.8,264.2 L203.1,264.6 L204.3,265.0 L205.5,265.5 L206.8,265.9 L208.0,266.4 L209.2,266.9 L210.4,267.4 L211.6,267.9 L212.8,268.7 L214.0,269.4 L215.2,270.2 L216.4,271.1 L217.6,271.9 L218.7,272.7 L219.9,273.6 M224.4,277.1 L225.5,278.0 L226.6,278.9 L227.7,279.9 L228.8,280.8 L229.9,281.8 L230.9,282.8 L232.0,283.8 L233.0,284.7 L234.1,285.8 L235.1,286.8 L236.1,287.8 L237.1,288.8 L238.1,289.9 L239.0,291.0 L240.0,292.0 L240.9,293.1 L241.9,294.2 M244.6,297.5 L245.5,298.7 L246.4,299.8 L247.2,300.9 L248.1,302.1 L248.9,303.2 M74.2,346.7 L74.4,345.5 L74.5,344.2 L74.7,343.0 L74.9,341.7 L75.2,340.5 L75.4,339.3 L75.7,338.0 L75.9,336.8 L76.2,335.6 L76.5,334.4 L76.9,333.2 L77.2,331.9 L77.5,330.7 L77.9,329.5 L78.3,328.3 L78.7,327.1 L79.1,326.0 L79.6,324.8 L80.0,323.6 L80.5,322.4 L81.0,321.3 L81.5,320.1 L82.0,319.0 L82.5,317.8 L83.0,316.7 L83.6,315.5 L84.2,314.4 L84.8,313.3 L85.4,312.2 L86.0,311.1 L86.6,310.0 L87.3,308.9 L87.9,307.8 L88.6,306.8 L89.3,305.7 L90.0,304.7 L90.7,303.6 L91.5,302.6 L92.2,301.6 L93.0,300.6 L93.7,299.6 L94.5,298.6 L95.3,297.6 L96.1,296.6 L96.9,295.6 L97.8,294.7 L98.6,293.8 L99.5,292.8 L100.4,291.9 L101.3,291.0 L102.2,290.1 L103.1,289.2 L104.0,288.4 L104.9,287.5 L105.9,286.7 L106.8,285.8 L107.8,285.0 L108.8,284.2 L109.8,283.4 L110.8,282.6 L111.8,281.8 L112.8,281.1 L113.8,280.3 L114.9,279.6 L115.9,278.9 L117.0,278.2 L118.0,277.5 L119.1,276.8 L120.2,276.1 L121.3,275.5 L122.4,274.9 L123.5,274.2 L124.6,273.6 L125.8,273.0 L126.9,272.5 L128.1,271.9 L129.2,271.3 L130.4,270.8 L131.5,270.3 L132.7,269.8 L133.9,269.3 L135.1,268.8 L136.3,268.4 L137.5,267.9 L138.7,267.5 L139.9,267.1 L141.1,266.7 L142.3,266.3 L143.5,265.9 L144.8,265.6 L146.0,265.3 L147.2,264.9 L148.5,264.6 L149.7,264.4 L151.0,264.1 L152.2,263.8 L153.5,263.6 L154.7,263.4 L156.0,263.2 L157.3,263.0 L158.5,262.8 L159.8,262.7 L161.1,262.5 L162.4,262.4 L163.6,262.3 L164.9,262.2 L166.2,262.1 L167.5,262.1 L168.7,262.0 L170.0,262.0 L171.3,262.0 L172.6,262.0 L173.9,262.0 L175.1,262.1 L176.4,262.1 L177.7,262.2 L179.0,262.3 L180.3,262.4 L181.5,262.5 L182.8,262.7 L184.1,262.8 L185.3,263.0 L186.6,263.2 L187.9,263.4 L189.1,263.6 L190.4,263.8 L191.6,264.1 L192.9,264.4 L194.1,264.6 L195.4,264.9 L196.6,265.3 L197.8,265.6 L199.1,265.9 L200.3,266.3 L201.5,266.7 L202.7,267.1 L203.9,267.5 L205.2,267.9 L206.3,268.4 L207.5,268.8 L208.7,269.3 L209.9,269.8 L211.1,270.3 L212.2,270.9 L213.4,271.7 L214.6,272.4 L215.7,273.2 L216.8,274.0 L218.0,274.8 L219.1,275.7 L220.2,276.5 L221.3,277.4 L222.4,278.2 L223.5,279.1 L224.6,280.0 L225.6,280.9 L226.7,281.8 L227.7,282.7 L228.8,283.7 L229.8,284.6 L230.8,285.6 L231.8,286.5 L232.8,287.5 L233.8,288.5 L234.8,289.5 L235.8,290.5 L236.7,291.6 L237.7,292.6 L238.6,293.6 L239.5,294.7 L240.5,295.7 L241.4,296.8 L242.2,297.9 L243.1,299.0 L244.0,300.1 L244.8,301.2 L245.7,302.3 L246.5,303.4 L247.3,304.5 L248.1,305.7 L248.9,306.8 L249.7,308.0 L250.4,309.1 M78.2,345.8 L78.3,344.6 L78.5,343.4 L78.7,342.2 L78.9,341.0 L79.2,339.8 L79.4,338.6 L79.7,337.4 L80.0,336.3 L80.3,335.1 L80.6,333.9 L80.9,332.7 L81.2,331.5 L81.6,330.4 L82.0,329.2 L82.4,328.1 L82.8,326.9 L83.2,325.8 L83.6,324.6 L84.1,323.5 L84.6,322.4 L85.0,321.2 L85.5,320.1 L86.0,319.0 L86.6,317.9 L87.1,316.8 L87.7,315.7 L88.2,314.6 L88.8,313.6 L89.4,312.5 L90.0,311.4 L90.7,310.4 L91.3,309.3 L91.9,308.3 L92.6,307.3 L93.3,306.3 L94.0,305.2 L94.7,304.2 L95.4,303.2 L96.2,302.3 L96.9,301.3 L97.7,300.3 L98.4,299.4 L99.2,298.4 L100.0,297.5 L100.8,296.6 L101.7,295.7 L102.5,294.8 L103.3,293.9 L104.2,293.0 L105.1,292.1 L105.9,291.3 L106.8,290.4 L107.7,289.6 L108.7,288.8 L109.6,288.0 L110.5,287.2 L111.5,286.4 L112.4,285.6 L113.4,284.9 L114.4,284.1 L115.4,283.4 L116.4,282.6 L117.4,281.9 L118.4,281.2 L119.4,280.6 L120.4,279.9 L121.5,279.2 L122.5,278.6 L123.6,277.9 L124.7,277.3 L125.7,276.7 L126.8,276.1 L127.9,275.6 L129.0,275.0 L130.1,274.5 L131.2,273.9 L132.4,273.4 L133.5,272.9 L134.6,272.4 L135.8,271.9 L136.9,271.5 L138.1,271.0 L139.2,270.6 L140.4,270.2 L141.6,269.8 L142.7,269.4 L143.9,269.0 L145.1,268.7 L146.3,268.4 L147.5,268.0 L148.7,267.7 L149.9,267.4 L151.1,267.1 L152.3,266.9 L153.5,266.6 L154.7,266.4 L156.0,266.2 L157.2,266.0 L158.4,265.8 L159.6,265.6 L160.9,265.5 L162.1,265.4 L163.3,265.2 L164.6,265.1 L165.8,265.1 L167.0,265.0 L168.3,264.9 L169.5,264.9 L170.7,264.9 L172.0,264.9 L173.2,264.9 L174.5,264.9 L175.7,264.9 L176.9,265.0 L178.2,265.1 L179.4,265.1 L180.6,265.2 L181.9,265.4 L183.1,265.5 L184.3,265.6 L185.6,265.8 L186.8,266.0 L188.0,266.2 L189.2,266.4 L190.4,266.6 L191.7,266.9 L192.9,267.1 L194.1,267.4 L195.3,267.7 L196.5,268.0 L197.7,268.4 L198.9,268.7 L200.0,269.0 L201.2,269.4 L202.4,269.8 L203.6,270.2 L204.7,270.6 L205.9,271.0 L207.0,271.5 L208.2,271.9 L209.3,272.4 L210.5,272.9 L211.6,273.4 L212.7,274.1 L213.8,274.8 L214.9,275.6 L216.0,276.4 L217.1,277.2 L218.2,278.0 L219.3,278.8 L220.4,279.6 L221.4,280.5 L222.5,281.3 L223.5,282.2 L224.5,283.0 L225.6,283.9 L226.6,284.8 L227.6,285.7 L228.6,286.7 L229.6,287.6 L230.6,288.5 M233.4,291.4 L234.4,292.4 L235.3,293.4 L236.2,294.4 L237.1,295.4 L238.0,296.4 L238.9,297.4 L239.8,298.5 L240.6,299.5 L241.5,300.6 M243.9,303.8 L244.7,304.9 L245.5,306.0 L246.3,307.1 L247.0,308.2 M250.0,312.7 L250.7,313.8 M81.2,346.1 L81.4,345.0 L81.5,343.8 L81.7,342.6 L82.0,341.4 L82.2,340.3 L82.4,339.1 L82.7,337.9 L83.0,336.8 L83.2,335.6 L83.5,334.5 L83.9,333.3 L84.2,332.2 L84.6,331.1 L84.9,329.9 L85.3,328.8 L85.7,327.7 L86.1,326.6 L86.5,325.4 L87.0,324.3 L87.4,323.2 L87.9,322.1 L88.4,321.0 L88.9,320.0 L89.4,318.9 L89.9,317.8 L90.4,316.8 L91.0,315.7 L91.6,314.6 L92.2,313.6 L92.7,312.6 L93.4,311.5 L94.0,310.5 L94.6,309.5 L95.3,308.5 L95.9,307.5 L96.6,306.5 L97.3,305.6 L98.0,304.6 L98.7,303.6 L99.4,302.7 L100.2,301.8 L100.9,300.8 L101.7,299.9 L102.5,299.0 L103.3,298.1 L104.1,297.2 L104.9,296.3 L105.7,295.5 L106.5,294.6 L107.4,293.8 L108.2,292.9 L109.1,292.1 L110.0,291.3 L110.9,290.5 L111.8,289.7 L112.7,288.9 L113.6,288.1 L114.6,287.4 L115.5,286.6 L116.4,285.9 L117.4,285.2 L118.4,284.5 L119.4,283.8 L120.3,283.1 L121.3,282.5 L122.4,281.8 L123.4,281.2 L124.4,280.5 L125.4,279.9 L126.5,279.3 L127.5,278.7 L128.6,278.2 L129.6,277.6 L130.7,277.0 L131.8,276.5 L132.9,276.0 L134.0,275.5 L135.1,275.0 L136.2,274.5 L137.3,274.1 L138.4,273.6 L139.5,273.2 L140.6,272.8 L141.8,272.4 L142.9,272.0 L144.1,271.6 L145.2,271.2 L146.4,270.9 L147.5,270.6 L148.7,270.2 L149.8,269.9 L151.0,269.7 L152.2,269.4 L153.4,269.1 L154.5,268.9 L155.7,268.7 L156.9,268.5 L158.1,268.3 L159.3,268.1 L160.5,267.9 L161.7,267.8 L162.9,267.6 L164.1,267.5 L165.3,267.4 L166.5,267.3 L167.7,267.3 L168.9,267.2 L170.1,267.2 L171.3,267.2 L172.5,267.1 L173.7,267.2 L174.9,267.2 L176.1,267.2 L177.3,267.3 L178.5,267.3 L179.7,267.4 L180.9,267.5 L182.1,267.6 L183.3,267.8 L184.5,267.9 L185.7,268.1 L186.9,268.3 L188.1,268.5 L189.3,268.7 L190.5,268.9 L191.7,269.1 L192.8,269.4 L194.0,269.7 L195.2,269.9 L196.4,270.2 L197.5,270.6 L198.7,270.9 L199.8,271.2 L201.0,271.6 L202.1,272.0 L203.3,272.4 L204.4,272.8 L205.5,273.2 L206.6,273.6 L207.8,274.1 L208.9,274.5 L210.0,275.0 L211.1,275.5 L212.2,276.0 L213.3,276.8 L214.3,277.5 L215.4,278.3 L216.5,279.0 L217.5,279.8 L218.6,280.6 L219.6,281.4 L220.6,282.2 L221.7,283.1 L222.7,283.9 L223.7,284.8 L224.7,285.6 L225.7,286.5 L226.7,287.4 L227.6,288.3 M230.5,291.0 L231.4,292.0 L232.3,292.9 L233.2,293.9 L234.1,294.8 L235.0,295.8 L235.9,296.8 L236.8,297.8 L237.6,298.8 L238.5,299.8 M242.6,305.0 L243.3,306.1 M247.0,311.5 L247.7,312.6 L248.4,313.7 L249.1,314.8 L249.8,315.9 L250.4,317.1 M84.3,346.4 L84.5,345.3 L84.7,344.2 L84.9,343.0 L85.1,341.9 L85.3,340.7 L85.5,339.6 L85.8,338.5 L86.0,337.3 L86.3,336.2 L86.6,335.1 L86.9,334.0 L87.2,332.9 L87.6,331.8 L87.9,330.7 L88.3,329.6 L88.7,328.5 L89.1,327.4 L89.5,326.3 L89.9,325.2 L90.4,324.1 L90.8,323.1 L91.3,322.0 L91.8,321.0 L92.3,319.9 L92.8,318.9 L93.3,317.8 L93.9,316.8 L94.4,315.8 L95.0,314.8 L95.5,313.8 L96.1,312.8 L96.7,311.8 L97.4,310.8 L98.0,309.8 L98.6,308.8 L99.3,307.9 L100.0,306.9 L100.7,306.0 L101.3,305.1 L102.1,304.1 L102.8,303.2 L103.5,302.3 L104.2,301.4 L105.0,300.5 L105.8,299.7 L106.5,298.8 L107.3,297.9 L108.1,297.1 L109.0,296.3 L109.8,295.4 L110.6,294.6 L111.5,293.8 L112.3,293.0 L113.2,292.2 L114.1,291.5 L114.9,290.7 L115.8,290.0 L116.7,289.2 L117.7,288.5 L118.6,287.8 L119.5,287.1 L120.5,286.4 L121.4,285.7 L122.4,285.1 L123.3,284.4 L124.3,283.8 L125.3,283.2 L126.3,282.6 L127.3,282.0 L128.3,281.4 L129.3,280.8 L130.4,280.2 L131.4,279.7 L132.4,279.2 L133.5,278.6 L134.5,278.1 L135.6,277.6 L136.7,277.2 L137.7,276.7 L138.8,276.2 L139.9,275.8 L141.0,275.4 L142.1,275.0 L143.2,274.6 L144.3,274.2 L145.4,273.8 L146.5,273.5 L147.6,273.2 L148.8,272.8 L149.9,272.5 L151.0,272.2 L152.2,272.0 L153.3,271.7 L154.5,271.4 L155.6,271.2 L156.8,271.0 L157.9,270.8 L159.1,270.6 L160.2,270.4 L161.4,270.3 L162.5,270.1 L163.7,270.0 L164.9,269.9 L166.0,269.8 L167.2,269.7 L168.4,269.6 L169.6,269.6 L170.7,269.5 L171.9,269.5 L173.1,269.5 L174.2,269.5 L175.4,269.5 L176.6,269.6 L177.8,269.6 L178.9,269.7 L180.1,269.8 L181.3,269.9 L182.4,270.0 L183.6,270.1 L184.8,270.3 L185.9,270.4 L187.1,270.6 L188.2,270.8 L189.4,271.0 L190.5,271.2 L191.7,271.4 L192.8,271.7 L194.0,272.0 L195.1,272.2 L196.2,272.5 L197.4,272.8 L198.5,273.2 L199.6,273.5 L200.7,273.8 L201.8,274.2 L202.9,274.6 L204.1,275.0 L205.1,275.4 L206.2,275.8 L207.3,276.2 L208.4,276.7 L209.5,277.2 L210.5,277.6 L211.6,278.1 L212.7,278.8 L213.7,279.5 M220.8,284.9 L221.8,285.7 L222.8,286.5 L223.8,287.4 L224.7,288.2 L225.7,289.1 L226.6,290.0 L227.6,290.9 L228.5,291.8 L229.4,292.7 M233.0,296.4 L233.8,297.3 L234.7,298.3 L235.5,299.2 L236.4,300.2 L237.2,301.2 L238.0,302.2 L238.8,303.2 L239.6,304.2 L240.4,305.2 L241.1,306.2 L241.9,307.3 L242.6,308.3 L243.4,309.4 L244.1,310.4 L244.8,311.5 L245.5,312.6 L246.2,313.6 L246.8,314.7 L247.5,315.8 L248.1,316.9 L248.8,318.0 L249.4,319.1 L250.0,320.2 L250.6,321.3 M87.2,346.7 L87.3,345.6 L87.5,344.5 L87.7,343.4 L87.9,342.3 L88.1,341.2 L88.3,340.1 L88.6,338.9 L88.8,337.8 L89.1,336.8 L89.4,335.7 L89.7,334.6 L90.0,333.5 L90.4,332.4 L90.7,331.3 L91.1,330.3 L91.4,329.2 L91.8,328.1 L92.2,327.1 L92.6,326.0 L93.1,325.0 L93.5,323.9 L94.0,322.9 L94.4,321.9 L94.9,320.8 L95.4,319.8 L95.9,318.8 L96.5,317.8 L97.0,316.8 L97.5,315.8 L98.1,314.8 L98.7,313.9 L99.3,312.9 L99.9,311.9 L100.5,311.0 L101.1,310.0 L101.8,309.1 L102.4,308.2 L103.1,307.3 L103.8,306.4 L104.4,305.5 L105.1,304.6 L105.9,303.7 L106.6,302.8 L107.3,301.9 L108.1,301.1 L108.8,300.2 L109.6,299.4 L110.4,298.6 L111.2,297.8 L112.0,297.0 L112.8,296.2 L113.6,295.4 L114.4,294.6 L115.3,293.9 L116.1,293.1 L117.0,292.4 L117.9,291.6 L118.7,290.9 L119.6,290.2 L120.5,289.5 L121.4,288.8 L122.4,288.2 L123.3,287.5 L124.2,286.9 L125.2,286.2 L126.1,285.6 L127.1,285.0 L128.0,284.4 L129.0,283.8 L130.0,283.2 L131.0,282.7 L132.0,282.1 L133.0,281.6 L134.0,281.1 L135.0,280.6 L136.1,280.1 L137.1,279.6 L138.1,279.1 L139.2,278.7 L140.2,278.3 L141.3,277.8 L142.3,277.4 L143.4,277.0 L144.5,276.6 L145.6,276.3 L146.6,275.9 L147.7,275.6 L148.8,275.2 L149.9,274.9 L151.0,274.6 L152.1,274.3 L153.2,274.1 L154.3,273.8 L155.5,273.6 L156.6,273.3 L157.7,273.1 L158.8,272.9 L159.9,272.7 L161.1,272.6 L162.2,272.4 L163.3,272.3 L164.5,272.2 L165.6,272.0 L166.7,271.9 L167.9,271.9 L169.0,271.8 L170.2,271.7 L171.3,271.7 L172.4,271.7 L173.6,271.7 L174.7,271.7 L175.9,271.7 L177.0,271.7 L178.1,271.8 L179.3,271.9 L180.4,271.9 L181.6,272.0 L182.7,272.2 L183.8,272.3 L185.0,272.4 L186.1,272.6 L187.2,272.7 L188.3,272.9 L189.5,273.1 L190.6,273.3 L191.7,273.6 L192.8,273.8 L193.9,274.1 L195.0,274.3 L196.1,274.6 L197.2,274.9 L198.3,275.2 L199.4,275.6 L200.5,275.9 L201.6,276.3 L202.7,276.6 L203.7,277.0 L204.8,277.4 L205.9,277.8 L206.9,278.3 L208.0,278.7 L209.0,279.1 L210.1,279.6 L211.1,280.1 L212.1,280.6 L213.1,281.3 L214.2,282.0 L215.2,282.7 L216.2,283.5 L217.2,284.2 L218.1,285.0 L219.1,285.8 L220.1,286.6 L221.0,287.4 L222.0,288.2 L222.9,289.0 L223.9,289.8 L224.8,290.7 L225.7,291.5 L226.6,292.4 L227.5,293.3 L228.4,294.1 M234.4,300.6 L235.2,301.5 L236.0,302.5 L236.8,303.4 L237.6,304.4 L238.3,305.4 L239.1,306.4 L239.8,307.4 L240.6,308.4 L241.3,309.4 L242.0,310.4 L242.7,311.5 L243.4,312.5 L244.1,313.5 L244.7,314.6 L245.4,315.6 L246.0,316.7 L246.7,317.8 L247.3,318.8 L247.9,319.9 L248.5,321.0 L249.0,322.1 L249.6,323.2 L250.2,324.3 L250.7,325.4 M90.4,345.9 L90.6,344.9 L90.7,343.8 L90.9,342.7 L91.1,341.6 L91.4,340.5 L91.6,339.5 L91.9,338.4 L92.1,337.3 L92.4,336.3 L92.7,335.2 L93.0,334.1 L93.3,333.1 L93.7,332.0 L94.0,331.0 L94.4,330.0 L94.7,328.9 L95.1,327.9 L95.5,326.9 L96.0,325.9 L96.4,324.8 L96.8,323.8 L97.3,322.8 L97.8,321.8 L98.2,320.9 L98.7,319.9 L99.2,318.9 L99.8,317.9 L100.3,317.0 L100.9,316.0 L101.4,315.1 L102.0,314.1 L102.6,313.2 L103.2,312.3 L103.8,311.3 L104.4,310.4 L105.0,309.5 L105.7,308.6 L106.3,307.7 L107.0,306.9 L107.7,306.0 L108.4,305.1 L109.1,304.3 L109.8,303.5 L110.5,302.6 L111.3,301.8 L112.0,301.0 L112.8,300.2 L113.5,299.4 L114.3,298.6 L115.1,297.8 L115.9,297.1 L116.7,296.3 L117.5,295.6 L118.3,294.9 L119.2,294.1 L120.0,293.4 L120.9,292.7 L121.7,292.0 L122.6,291.4 L123.5,290.7 L124.4,290.1 L125.3,289.4 L126.2,288.8 L127.1,288.2 L128.0,287.6 L129.0,287.0 L129.9,286.4 L130.9,285.8 L131.8,285.3 L132.8,284.7 L133.8,284.2 L134.7,283.7 L135.7,283.2 L136.7,282.7 L137.7,282.2 L138.7,281.7 L139.7,281.3 L140.7,280.8 L141.7,280.4 L142.8,280.0 L143.8,279.6 L144.8,279.2 L145.9,278.8 L146.9,278.5 L148.0,278.1 L149.0,277.8 L150.1,277.5 L151.2,277.2 L152.2,276.9 L153.3,276.6 L154.4,276.3 L155.5,276.1 L156.5,275.8 L157.6,275.6 L158.7,275.4 L159.8,275.2 L160.9,275.0 L162.0,274.9 L163.1,274.7 L164.2,274.6 L165.3,274.5 L166.4,274.4 L167.5,274.3 L168.6,274.2 L169.7,274.1 L170.8,274.1 L171.9,274.0 L173.0,274.0 L174.1,274.0 L175.2,274.0 L176.3,274.0 L177.4,274.1 L178.6,274.1 L179.7,274.2 L180.8,274.3 L181.9,274.4 L183.0,274.5 L184.1,274.6 L185.2,274.7 L186.3,274.9 L187.4,275.0 L188.5,275.2 L189.5,275.4 L190.6,275.6 L191.7,275.8 L192.8,276.1 L193.9,276.3 L195.0,276.6 L196.0,276.9 L197.1,277.2 L198.2,277.5 L199.2,277.8 L200.3,278.1 L201.3,278.5 L202.4,278.8 L203.4,279.2 L204.4,279.6 L205.5,280.0 L206.5,280.4 L207.5,280.8 L208.5,281.3 L209.5,281.7 L210.6,282.2 L211.5,282.7 L212.5,283.2 L213.5,283.9 L214.5,284.7 L215.5,285.4 L216.4,286.1 L217.4,286.9 L218.3,287.6 L219.3,288.4 L220.2,289.2 L221.1,289.9 L222.0,290.7 L223.0,291.5 L223.9,292.4 L224.7,293.2 L225.6,294.0 L226.5,294.9 M231.6,300.1 L232.4,301.1 L233.2,302.0 L234.0,302.9 L234.7,303.8 L235.5,304.8 M239.2,309.6 L239.9,310.6 L240.6,311.6 L241.3,312.6 L241.9,313.6 L242.6,314.6 L243.2,315.6 L243.9,316.6 L244.5,317.7 L245.1,318.7 L245.7,319.8 L246.3,320.8 L246.8,321.9 L247.4,322.9 L247.9,324.0 L248.5,325.0 L249.0,326.1 L249.5,327.2 L250.0,328.3 L250.5,329.3 L251.0,330.4 M92.7,346.2 L92.9,345.1 L93.1,344.1 L93.3,343.0 L93.5,342.0 L93.7,340.9 L93.9,339.9 L94.2,338.8 L94.4,337.8 L94.7,336.7 L95.0,335.7 L95.3,334.7 L95.6,333.6 L95.9,332.6 L96.3,331.6 L96.6,330.6 L97.0,329.5 L97.4,328.5 L97.8,327.5 L98.2,326.5 L98.6,325.5 L99.0,324.6 L99.5,323.6 L99.9,322.6 L100.4,321.6 L100.9,320.7 L101.4,319.7 L101.9,318.8 L102.4,317.8 L102.9,316.9 L103.5,316.0 L104.0,315.0 L104.6,314.1 L105.2,313.2 L105.8,312.3 L106.4,311.4 L107.0,310.6 L107.7,309.7 L108.3,308.8 L109.0,308.0 L109.6,307.1 L110.3,306.3 L111.0,305.4 L111.7,304.6 L112.4,303.8 L113.1,303.0 L113.8,302.2 L114.6,301.4 L115.3,300.6 L116.1,299.9 L116.9,299.1 L117.6,298.4 L118.4,297.6 L119.2,296.9 L120.0,296.2 L120.8,295.5 L121.7,294.8 L122.5,294.1 L123.4,293.4 L124.2,292.8 L125.1,292.1 L125.9,291.5 L126.8,290.9 L127.7,290.3 L128.6,289.6 L129.5,289.1 L130.4,288.5 L131.3,287.9 L132.3,287.4 L133.2,286.8 L134.1,286.3 L135.1,285.8 L136.0,285.2 L137.0,284.8 L138.0,284.3 L139.0,283.8 L139.9,283.3 L140.9,282.9 L141.9,282.5 L142.9,282.1 L143.9,281.6 L144.9,281.3 L145.9,280.9 L146.9,280.5 L148.0,280.2 L149.0,279.8 L150.0,279.5 L151.1,279.2 L152.1,278.9 L153.1,278.6 L154.2,278.3 L155.2,278.1 L156.3,277.8 L157.4,277.6 L158.4,277.4 L159.5,277.2 L160.5,277.0 L161.6,276.8 L162.7,276.6 L163.8,276.5 L164.8,276.4 L165.9,276.2 L167.0,276.1 L168.1,276.0 L169.1,276.0 L170.2,275.9 L171.3,275.9 L172.4,275.8 L173.5,275.8 L174.5,275.8 L175.6,275.8 L176.7,275.8 L177.8,275.9 L178.9,275.9 L180.0,276.0 L181.0,276.0 L182.1,276.1 L183.2,276.2 L184.3,276.4 L185.3,276.5 L186.4,276.6 L187.5,276.8 L188.5,277.0 L189.6,277.2 L190.7,277.4 L191.7,277.6 L192.8,277.8 L193.8,278.1 L194.9,278.3 L195.9,278.6 L197.0,278.9 L198.0,279.2 L199.1,279.5 L200.1,279.8 L201.1,280.2 L202.1,280.5 L203.2,280.9 L204.2,281.3 L205.2,281.6 L206.2,282.1 L207.2,282.5 L208.2,282.9 L209.2,283.3 L210.1,283.8 L211.1,284.3 L212.1,284.8 L213.0,285.4 L214.0,286.1 L214.9,286.8 L215.9,287.5 L216.8,288.3 L217.7,289.0 L218.7,289.8 L219.6,290.5 L220.5,291.3 L221.4,292.1 L222.3,292.9 L223.1,293.7 L224.0,294.5 L224.9,295.3 L225.7,296.1 L226.6,296.9 L227.4,297.8 M233.0,304.0 L233.8,304.9 L234.5,305.8 L235.3,306.7 L236.0,307.7 L236.7,308.6 L237.4,309.6 L238.1,310.5 L238.8,311.5 L239.5,312.5 M242.7,317.4 L243.3,318.4 L243.9,319.4 L244.5,320.5 L245.0,321.5 L245.6,322.5 L246.1,323.5 L246.7,324.6 L247.2,325.6 L247.7,326.7 L248.2,327.7 L248.7,328.8 L249.2,329.8 L249.6,330.9 M95.0,346.5 L95.2,345.4 L95.4,344.4 L95.5,343.3 L95.7,342.3 L96.0,341.3 L96.2,340.2 L96.4,339.2 L96.7,338.2 L96.9,337.2 L97.2,336.2 L97.5,335.2 L97.8,334.1 L98.1,333.1 L98.5,332.1 L98.8,331.1 L99.2,330.2 L99.6,329.2 L99.9,328.2 L100.3,327.2 L100.8,326.2 L101.2,325.3 L101.6,324.3 L102.1,323.4 L102.5,322.4 L103.0,321.5 L103.5,320.5 L104.0,319.6 L104.5,318.7 L105.0,317.8 L105.5,316.9 L106.1,316.0 L106.7,315.1 L107.2,314.2 L107.8,313.3 L108.4,312.4 L109.0,311.6 L109.6,310.7 L110.2,309.9 L110.9,309.0 L111.5,308.2 L112.2,307.4 L112.9,306.6 L113.5,305.8 L114.2,305.0 L114.9,304.2 L115.6,303.4 L116.4,302.6 L117.1,301.9 L117.8,301.1 L118.6,300.4 L119.4,299.7 L120.1,298.9 L120.9,298.2 L121.7,297.5 L122.5,296.8 L123.3,296.2 L124.1,295.5 L125.0,294.8 L125.8,294.2 L126.6,293.5 L127.5,292.9 L128.3,292.3 L129.2,291.7 L130.1,291.1 L131.0,290.5 L131.9,290.0 L132.8,289.4 L133.7,288.9 L134.6,288.3 L135.5,287.8 L136.4,287.3 L137.4,286.8 L138.3,286.3 L139.2,285.9 L140.2,285.4 L141.1,285.0 L142.1,284.5 L143.1,284.1 L144.1,283.7 L145.0,283.3 L146.0,282.9 L147.0,282.5 L148.0,282.2 L149.0,281.8 L150.0,281.5 L151.0,281.2 L152.0,280.9 L153.0,280.6 L154.1,280.3 L155.1,280.0 L156.1,279.8 L157.1,279.5 L158.2,279.3 L159.2,279.1 L160.2,278.9 L161.3,278.7 L162.3,278.6 L163.4,278.4 L164.4,278.3 L165.5,278.1 L166.5,278.0 L167.6,277.9 L168.6,277.8 L169.7,277.7 L170.7,277.7 L171.8,277.6 L172.8,277.6 L173.9,277.6 L175.0,277.6 L176.0,277.6 L177.1,277.6 L178.1,277.6 L179.2,277.7 L180.2,277.7 L181.3,277.8 L182.3,277.9 L183.4,278.0 L184.5,278.1 L185.5,278.3 L186.5,278.4 L187.6,278.6 L188.6,278.7 L189.7,278.9 L190.7,279.1 L191.8,279.3 L192.8,279.5 L193.8,279.8 L194.8,280.0 L195.9,280.3 L196.9,280.6 L197.9,280.9 L198.9,281.2 L199.9,281.5 L200.9,281.8 L201.9,282.2 L202.9,282.5 L203.9,282.9 L204.9,283.3 L205.9,283.7 L206.8,284.1 L207.8,284.5 L208.8,285.0 L209.7,285.4 L210.7,285.9 L211.6,286.3 L212.6,286.9 L213.5,287.6 L214.4,288.3 L215.3,289.0 L216.3,289.7 L217.2,290.4 L218.1,291.1 L218.9,291.9 L219.8,292.6 L220.7,293.4 L221.6,294.2 L222.4,294.9 L223.3,295.7 L224.1,296.5 L225.0,297.3 L225.8,298.2 L226.6,299.0 L227.4,299.8 L228.2,300.7 L229.0,301.5 L229.8,302.4 L230.6,303.3 L231.3,304.1 L232.1,305.0 L232.8,305.9 L233.5,306.8 L234.3,307.7 L235.0,308.6 L235.7,309.6 L236.4,310.5 L237.1,311.4 L237.7,312.4 L238.4,313.3 L239.0,314.3 L239.7,315.3 L240.3,316.2 L240.9,317.2 L241.5,318.2 L242.1,319.2 L242.7,320.2 L243.3,321.2 L243.8,322.2 L244.4,323.2 L244.9,324.2 L245.4,325.2 L245.9,326.2 L246.4,327.2 L246.9,328.3 L247.4,329.3 L247.9,330.3 L248.3,331.4 L248.7,332.4 L249.2,333.5 L249.6,334.5 L250.0,335.6 L250.4,336.6 L250.7,337.7 M97.3,346.7 L97.5,345.7 L97.6,344.7 L97.8,343.7 L98.0,342.7 L98.2,341.6 L98.4,340.6 L98.7,339.6 L98.9,338.6 L99.2,337.6 L99.5,336.6 L99.7,335.7 L100.0,334.7 L100.4,333.7 L100.7,332.7 L101.0,331.7 L101.4,330.8 L101.7,329.8 L102.1,328.8 L102.5,327.9 L102.9,326.9 L103.3,326.0 L103.7,325.1 L104.2,324.1 L104.6,323.2 L105.1,322.3 L105.6,321.4 L106.1,320.5 L106.6,319.6 L107.1,318.7 L107.6,317.8 L108.1,316.9 L108.7,316.0 L109.2,315.1 L109.8,314.3 L110.4,313.4 L111.0,312.6 L111.6,311.8 L112.2,310.9 L112.8,310.1 L113.4,309.3 L114.1,308.5 L114.7,307.7 L115.4,306.9 L116.1,306.1 L116.8,305.4 L117.5,304.6 L118.2,303.8 L118.9,303.1 L119.6,302.4 L120.3,301.6 L121.1,300.9 L121.8,300.2 L122.6,299.5 L123.4,298.8 L124.1,298.2 L124.9,297.5 L125.7,296.9 L126.5,296.2 L127.4,295.6 L128.2,295.0 L129.0,294.3 L129.8,293.7 L130.7,293.2 L131.5,292.6 L132.4,292.0 L133.3,291.5 L134.2,290.9 L135.0,290.4 L135.9,289.9 L136.8,289.4 L137.7,288.9 L138.6,288.4 L139.6,287.9 L140.5,287.4 L141.4,287.0 L142.3,286.5 L143.3,286.1 L144.2,285.7 L145.2,285.3 L146.1,284.9 L147.1,284.5 L148.1,284.2 L149.0,283.8 L150.0,283.5 L151.0,283.2 L152.0,282.9 L153.0,282.6 L154.0,282.3 L155.0,282.0 L156.0,281.7 L157.0,281.5 L158.0,281.3 L159.0,281.0 L160.0,280.8 L161.0,280.6 L162.0,280.5 L163.0,280.3 L164.1,280.1 L165.1,280.0 L166.1,279.9 L167.1,279.7 L168.2,279.6 L169.2,279.6 L170.2,279.5 L171.2,279.4 L172.3,279.4 L173.3,279.3 L174.3,279.3 L175.4,279.3 L176.4,279.3 L177.4,279.3 L178.5,279.4 L179.5,279.4 L180.5,279.5 L181.6,279.6 L182.6,279.6 L183.6,279.7 L184.6,279.9 L185.7,280.0 L186.7,280.1 L187.7,280.3 L188.7,280.5 L189.7,280.6 L190.8,280.8 L191.8,281.0 L192.8,281.3 L193.8,281.5 L194.8,281.7 L195.8,282.0 L196.8,282.3 L197.8,282.6 L198.8,282.9 L199.7,283.2 L200.7,283.5 L201.7,283.8 L202.7,284.2 L203.6,284.5 L204.6,284.9 L205.6,285.3 L206.5,285.7 L207.5,286.1 L208.4,286.5 L209.3,287.0 L210.3,287.4 L211.2,287.9 L212.1,288.4 L213.0,289.0 L213.9,289.7 L214.8,290.4 L215.7,291.1 L216.6,291.8 L217.5,292.5 L218.3,293.2 L219.2,293.9 L220.0,294.7 L220.9,295.4 L221.7,296.2 L222.6,297.0 L223.4,297.8 L224.2,298.6 L225.0,299.4 L225.8,300.2 L226.6,301.0 L227.4,301.8 L228.1,302.7 L228.9,303.5 L229.7,304.3 L230.4,305.2 L231.1,306.1 L231.9,307.0 L232.6,307.8 L233.3,308.7 L234.0,309.6 L234.7,310.5 L235.3,311.4 L236.0,312.3 L236.7,313.3 L237.3,314.2 L237.9,315.1 L238.6,316.1 L239.2,317.0 L239.8,318.0 L240.4,318.9 L241.0,319.9 L241.5,320.9 L242.1,321.9 L242.6,322.8 L243.2,323.8 L243.7,324.8 L244.2,325.8 L244.7,326.8 L245.2,327.8 L245.7,328.8 L246.1,329.8 L246.6,330.8 L247.0,331.8 L247.4,332.9 M248.6,335.9 L249.0,337.0 L249.4,338.0 L249.7,339.0 L250.1,340.1 L250.4,341.1 L250.7,342.1 L251.0,343.2 M99.6,347.0 L99.7,346.0 L99.9,345.0 L100.1,344.0 L100.3,343.0 L100.5,342.0 L100.7,341.0 L100.9,340.0 L101.1,339.1 L101.4,338.1 L101.7,337.1 L101.9,336.1 L102.2,335.2 L102.5,334.2 L102.9,333.3 L103.2,332.3 L103.5,331.4 L103.9,330.4 L104.3,329.5 L104.6,328.6 L105.0,327.6 L105.4,326.7 L105.8,325.8 L106.3,324.9 L106.7,324.0 L107.2,323.1 L107.6,322.2 L108.1,321.3 L108.6,320.4 L109.1,319.5 L109.6,318.7 L110.1,317.8 L110.7,316.9 L111.2,316.1 L111.8,315.3 L112.3,314.4 L112.9,313.6 L113.5,312.8 L114.1,312.0 L114.7,311.2 L115.3,310.4 L115.9,309.6 L116.6,308.8 L117.2,308.0 L117.9,307.3 L118.6,306.5 L119.2,305.8 L119.9,305.0 L120.6,304.3 L121.3,303.6 L122.0,302.9 L122.8,302.2 L123.5,301.5 L124.3,300.8 L125.0,300.2 L125.8,299.5 L126.5,298.8 L127.3,298.2 L128.1,297.6 L128.9,297.0 L129.7,296.4 L130.5,295.8 L131.3,295.2 L132.2,294.6 L133.0,294.0 L133.8,293.5 L134.7,292.9 L135.5,292.4 L136.4,291.9 L137.3,291.4 L138.2,290.9 L139.0,290.4 L139.9,289.9 L140.8,289.4 L141.7,289.0 L142.6,288.6 L143.5,288.1 L144.5,287.7 L145.4,287.3 L146.3,286.9 L147.2,286.5 L148.2,286.2 L149.1,285.8 L150.1,285.5 L151.0,285.1 L152.0,284.8 L152.9,284.5 L153.9,284.2 L154.9,283.9 L155.8,283.7 L156.8,283.4 L157.8,283.2 L158.8,283.0 L159.8,282.7 L160.8,282.5 L161.7,282.3 L162.7,282.2 L163.7,282.0 L164.7,281.9 L165.7,281.7 L166.7,281.6 L167.7,281.5 L168.7,281.4 L169.7,281.3 L170.7,281.2 L171.7,281.2 L172.8,281.1 L173.8,281.1 L174.8,281.1 L175.8,281.1 L176.8,281.1 L177.8,281.1 L178.8,281.1 L179.8,281.2 L180.8,281.2 L181.8,281.3 L182.8,281.4 L183.8,281.5 L184.8,281.6 L185.8,281.7 L186.8,281.9 L187.8,282.0 L188.8,282.2 L189.8,282.3 L190.8,282.5 L191.8,282.7 L192.8,283.0 L193.8,283.2 L194.7,283.4 L195.7,283.7 L196.7,283.9 L197.7,284.2 L198.6,284.5 L199.6,284.8 L200.5,285.1 L201.5,285.5 L202.4,285.8 L203.4,286.2 L204.3,286.5 L205.2,286.9 L206.2,287.3 L207.1,287.7 L208.0,288.1 L208.9,288.6 L209.8,289.0 L210.7,289.4 L211.6,289.9 L212.5,290.4 L213.4,291.1 L214.3,291.8 L215.2,292.4 L216.0,293.1 L216.9,293.8 L217.7,294.5 L218.6,295.3 L219.4,296.0 L220.2,296.7 L221.0,297.5 L221.9,298.2 L222.7,299.0 L223.5,299.8 L224.2,300.6 L225.0,301.3 L225.8,302.1 L226.6,303.0 L227.3,303.8 L228.1,304.6 L228.8,305.4 L229.5,306.3 L230.2,307.1 L230.9,308.0 L231.6,308.8 L232.3,309.7 L233.0,310.6 L233.7,311.5 M238.1,317.8 L238.7,318.8 L239.2,319.7 M242.0,324.5 L242.5,325.4 M245.3,331.3 L245.7,332.3 L246.1,333.3 L246.5,334.3 L246.9,335.3 L247.3,336.3 L247.7,337.3 L248.0,338.3 L248.4,339.3 L248.7,340.4 L249.0,341.4 L249.3,342.4 L249.6,343.4 L249.9,344.4 L250.2,345.4 L250.4,346.5 M102.0,346.2 L102.1,345.3 L102.3,344.3 L102.5,343.3 L102.7,342.4 L102.9,341.4 L103.1,340.4 L103.3,339.5 L103.6,338.5 L103.8,337.6 L104.1,336.6 L104.4,335.7 L104.7,334.8 L105.0,333.8 L105.3,332.9 L105.7,332.0 L106.0,331.0 L106.4,330.1 L106.7,329.2 L107.1,328.3 L107.5,327.4 L107.9,326.5 L108.3,325.6 L108.8,324.7 L109.2,323.9 L109.7,323.0 L110.1,322.1 L110.6,321.2 L111.1,320.4 L111.6,319.5 L112.1,318.7 L112.6,317.9 L113.2,317.0 L113.7,316.2 L114.2,315.4 L114.8,314.6 L115.4,313.8 L116.0,313.0 L116.6,312.2 L117.2,311.4 L117.8,310.7 L118.4,309.9 L119.0,309.2 L119.7,308.4 L120.3,307.7 L121.0,306.9 L121.7,306.2 L122.3,305.5 L123.0,304.8 L123.7,304.1 L124.4,303.4 L125.2,302.8 L125.9,302.1 L126.6,301.5 L127.4,300.8 L128.1,300.2 L128.9,299.5 L129.7,298.9 L130.4,298.3 L131.2,297.7 L132.0,297.2 L132.8,296.6 L133.6,296.0 L134.4,295.5 L135.3,294.9 L136.1,294.4 L136.9,293.9 L137.8,293.4 L138.6,292.9 L139.5,292.4 L140.3,291.9 L141.2,291.4 L142.1,291.0 L142.9,290.5 L143.8,290.1 L144.7,289.7 L145.6,289.3 L146.5,288.9 L147.4,288.5 L148.3,288.1 L149.3,287.8 L150.2,287.4 L151.1,287.1 L152.0,286.8 L153.0,286.5 L153.9,286.2 L154.8,285.9 L155.8,285.6 L156.7,285.4 L157.7,285.1 L158.6,284.9 L159.6,284.6 L160.6,284.4 L161.5,284.2 L162.5,284.0 L163.5,283.9 L164.4,283.7 L165.4,283.6 L166.4,283.4 L167.4,283.3 L168.3,283.2 L169.3,283.1 L170.3,283.0 L171.3,282.9 L172.3,282.9 L173.2,282.8 L174.2,282.8 L175.2,282.8 L176.2,282.8 L177.2,282.8 L178.2,282.8 L179.1,282.8 L180.1,282.9 L181.1,282.9 L182.1,283.0 L183.1,283.1 L184.0,283.2 L185.0,283.3 L186.0,283.4 L187.0,283.6 L187.9,283.7 L188.9,283.9 L189.9,284.0 L190.8,284.2 L191.8,284.4 L192.8,284.6 L193.7,284.9 L194.7,285.1 L195.6,285.4 L196.6,285.6 L197.5,285.9 L198.5,286.2 L199.4,286.5 L200.3,286.8 L201.3,287.1 L202.2,287.4 L203.1,287.8 L204.0,288.1 L204.9,288.5 L205.9,288.9 L206.8,289.3 L207.7,289.7 L208.5,290.1 L209.4,290.5 L210.3,291.0 L211.2,291.4 L212.0,291.9 L212.9,292.5 M215.5,294.5 L216.3,295.2 L217.1,295.9 L217.9,296.6 L218.8,297.3 L219.6,298.0 L220.4,298.7 L221.2,299.5 L221.9,300.2 L222.7,301.0 L223.5,301.7 L224.2,302.5 L225.0,303.3 L225.7,304.1 L226.5,304.9 L227.2,305.7 M229.3,308.2 L230.0,309.0 L230.7,309.8 L231.4,310.7 L232.0,311.5 L232.7,312.4 L233.3,313.3 L234.0,314.1 L234.6,315.0 L235.2,315.9 L235.8,316.8 L236.4,317.7 L237.0,318.6 L237.6,319.5 L238.1,320.4 L238.7,321.4 L239.2,322.3 L239.7,323.2 M241.3,326.0 L241.8,327.0 L242.2,328.0 L242.7,328.9 L243.2,329.9 L243.6,330.8 L244.0,331.8 L244.4,332.8 L244.8,333.7 L245.2,334.7 L245.6,335.7 L246.0,336.7 L246.4,337.7 L246.7,338.7 L247.0,339.6 L247.4,340.6 L247.7,341.6 L248.0,342.6 L248.2,343.6 L248.5,344.6 L248.8,345.6 L249.0,346.6 M103.4,346.4 L103.5,345.5 L103.7,344.5 L103.9,343.5 L104.1,342.6 L104.3,341.6 L104.5,340.7 L104.8,339.8 L105.0,338.8 L105.3,337.9 L105.5,337.0 L105.8,336.0 L106.1,335.1 L106.4,334.2 L106.7,333.3 L107.1,332.4 L107.4,331.4 L107.7,330.5 L108.1,329.6 L108.5,328.8 L108.9,327.9 L109.3,327.0 L109.7,326.1 L110.1,325.2 L110.5,324.4 L111.0,323.5 L111.4,322.6 L111.9,321.8 L112.4,321.0 L112.9,320.1 L113.4,319.3 L113.9,318.5 L114.4,317.6 L114.9,316.8 L115.5,316.0 L116.0,315.2 L116.6,314.4 L117.2,313.7 L117.8,312.9 L118.4,312.1 L119.0,311.4 L119.6,310.6 L120.2,309.9 L120.8,309.1 L121.5,308.4 L122.1,307.7 L122.8,307.0 L123.5,306.3 L124.1,305.6 L124.8,304.9 L125.5,304.3 L126.2,303.6 L127.0,302.9 L127.7,302.3 L128.4,301.7 L129.1,301.0 L129.9,300.4 L130.7,299.8 L131.4,299.2 L132.2,298.6 L133.0,298.1 L133.8,297.5 L134.6,296.9 L135.4,296.4 L136.2,295.9 L137.0,295.3 L137.8,294.8 L138.6,294.3 L139.5,293.8 L140.3,293.3 L141.2,292.9 L142.0,292.4 L142.9,292.0 L143.7,291.5 L144.6,291.1 L145.5,290.7 L146.4,290.3 L147.2,289.9 L148.1,289.5 L149.0,289.2 L149.9,288.8 L150.8,288.5 L151.8,288.2 L152.7,287.8 L153.6,287.5 L154.5,287.2 L155.4,287.0 L156.4,286.7 L157.3,286.4 L158.2,286.2 L159.2,285.9 L160.1,285.7 L161.1,285.5 L162.0,285.3 L163.0,285.1 L163.9,285.0 L164.9,284.8 L165.8,284.7 L166.8,284.5 L167.8,284.4 L168.7,284.3 L169.7,284.2 L170.6,284.1 L171.6,284.1 L172.6,284.0 L173.5,284.0 L174.5,283.9 L175.5,283.9 L176.4,283.9 L177.4,283.9 L178.4,283.9 L179.4,284.0 L180.3,284.0 L181.3,284.1 L182.2,284.1 L183.2,284.2 L184.2,284.3 L185.1,284.4 L186.1,284.5 L187.1,284.7 L188.0,284.8 L189.0,285.0 L189.9,285.1 L190.9,285.3 L191.8,285.5 L192.8,285.7 L193.7,285.9 L194.7,286.2 L195.6,286.4 L196.5,286.7 L197.5,287.0 L198.4,287.2 L199.3,287.5 L200.2,287.8 L201.1,288.2 L202.0,288.5 L203.0,288.8 L203.9,289.2 L204.8,289.5 L205.6,289.9 L206.5,290.3 L207.4,290.7 L208.3,291.1 L209.2,291.5 L210.0,292.0 L210.9,292.4 L211.7,292.9 L212.6,293.4 M220.7,300.3 L221.5,301.0 L222.2,301.8 L223.0,302.5 L223.7,303.3 L224.5,304.0 L225.2,304.8 L225.9,305.6 L226.7,306.4 L227.4,307.2 L228.1,308.0 L228.7,308.8 L229.4,309.6 L230.1,310.5 L230.8,311.3 L231.4,312.2 L232.1,313.0 L232.7,313.9 L233.3,314.7 L233.9,315.6 L234.5,316.5 L235.1,317.4 L235.7,318.2 L236.3,319.1 L236.9,320.0 L237.4,320.9 L237.9,321.8 L238.5,322.8 L239.0,323.7 L239.5,324.6 L240.0,325.5 L240.5,326.5 L241.0,327.4 L241.5,328.3 L241.9,329.3 L242.4,330.2 L242.8,331.2 L243.2,332.1 L243.6,333.1 L244.0,334.0 L244.4,335.0 L244.8,336.0 M246.5,340.8 L246.8,341.8 L247.1,342.8 L247.4,343.8 L247.6,344.7 L247.9,345.7 L248.1,346.7" fill="none" stroke="#000" stroke-width="0.85"/>
<rect x="150" y="140" width="1.3" height="148" fill="#fff"/>
<path d="M52.3,2.0 L59.8,347.0 M205.5,2.0 L212.4,289.0 L220.0,302.0 L250.0,347.0" stroke="#000" stroke-width="0.8" stroke-dasharray="1 1.5" fill="none"/>
<circle cx="52.6" cy="3.0" r="2.4"/><circle cx="205.8" cy="3.0" r="2.4"/><circle cx="52.9" cy="20.7" r="2.4"/><circle cx="206.2" cy="20.7" r="2.4"/><circle cx="53.3" cy="38.4" r="2.4"/><circle cx="206.6" cy="38.4" r="2.4"/><circle cx="53.6" cy="56.1" r="2.4"/><circle cx="207.0" cy="56.1" r="2.4"/><circle cx="53.9" cy="73.8" r="2.4"/><circle cx="207.4" cy="73.8" r="2.4"/><circle cx="54.2" cy="91.5" r="2.4"/><circle cx="207.8" cy="91.5" r="2.4"/><circle cx="54.6" cy="109.2" r="2.4"/><circle cx="208.2" cy="109.2" r="2.4"/><circle cx="54.9" cy="126.9" r="2.4"/><circle cx="208.6" cy="126.9" r="2.4"/><circle cx="55.2" cy="144.6" r="2.4"/><circle cx="209.0" cy="144.6" r="2.4"/><circle cx="55.6" cy="162.3" r="2.4"/><circle cx="209.4" cy="162.3" r="2.4"/><circle cx="55.9" cy="180.0" r="2.4"/><circle cx="209.8" cy="180.0" r="2.4"/><circle cx="56.2" cy="197.7" r="2.4"/><circle cx="210.2" cy="197.7" r="2.4"/><circle cx="56.6" cy="215.4" r="2.4"/><circle cx="210.6" cy="215.4" r="2.4"/><circle cx="56.9" cy="233.1" r="2.4"/><circle cx="211.0" cy="233.1" r="2.4"/><circle cx="57.2" cy="250.8" r="2.4"/><circle cx="211.4" cy="250.8" r="2.4"/><circle cx="57.5" cy="268.5" r="2.4"/><circle cx="211.8" cy="268.5" r="2.4"/><circle cx="57.9" cy="286.2" r="2.4"/><circle cx="212.2" cy="286.2" r="2.4"/><circle cx="58.2" cy="303.9" r="2.4"/><circle cx="212.6" cy="303.9" r="2.4"/>
<path d="M34.1 20.9h1.1v1.1h-1.1zM28.2 20.6h1.1v1.1h-1.1zM33.4 12.9h1.1v1.1h-1.1zM33.2 12.0h1.1v1.1h-1.1zM31.3 12.7h1.1v1.1h-1.1zM30.9 9.9h1.1v1.1h-1.1zM33.3 16.0h1.1v1.1h-1.1zM34.9 8.6h1.1v1.1h-1.1zM27.5 10.1h1.1v1.1h-1.1zM32.7 19.7h1.1v1.1h-1.1zM31.7 3.2h1.1v1.1h-1.1zM30.1 12.7h1.1v1.1h-1.1zM31.3 9.4h1.1v1.1h-1.1zM27.5 10.2h1.1v1.1h-1.1zM31.2 7.7h1.1v1.1h-1.1zM33.7 8.8h1.1v1.1h-1.1zM31.0 6.6h1.1v1.1h-1.1zM28.7 4.7h1.1v1.1h-1.1zM33.4 8.2h1.1v1.1h-1.1zM31.6 9.5h1.1v1.1h-1.1zM33.2 18.4h1.1v1.1h-1.1zM29.0 19.6h1.1v1.1h-1.1zM30.9 18.6h1.1v1.1h-1.1zM30.0 11.3h1.1v1.1h-1.1zM27.7 8.7h1.1v1.1h-1.1zM27.2 8.0h1.1v1.1h-1.1zM31.9 4.7h1.1v1.1h-1.1zM28.6 18.7h1.1v1.1h-1.1zM31.5 13.6h1.1v1.1h-1.1zM28.7 19.7h1.1v1.1h-1.1zM29.2 4.7h1.1v1.1h-1.1zM30.6 13.7h1.1v1.1h-1.1zM31.9 5.4h1.1v1.1h-1.1zM33.7 9.1h1.1v1.1h-1.1zM35.0 9.8h1.1v1.1h-1.1zM27.2 3.6h1.1v1.1h-1.1zM30.0 15.7h1.1v1.1h-1.1zM30.9 18.2h1.1v1.1h-1.1zM34.2 18.5h1.1v1.1h-1.1zM32.1 19.6h1.1v1.1h-1.1z" fill="#000"/>
<path d="M64.2 26.4h1.1v1.1h-1.1zM59.1 30.3h1.1v1.1h-1.1zM56.2 48.9h1.1v1.1h-1.1zM61.6 28.9h1.1v1.1h-1.1zM66.0 34.0h1.1v1.1h-1.1zM58.1 43.5h1.1v1.1h-1.1zM57.2 49.4h1.1v1.1h-1.1zM67.2 25.6h1.1v1.1h-1.1zM62.2 24.8h1.1v1.1h-1.1zM66.9 31.0h1.1v1.1h-1.1zM61.7 44.0h1.1v1.1h-1.1zM64.9 37.1h1.1v1.1h-1.1zM56.3 32.6h1.1v1.1h-1.1zM55.1 29.4h1.1v1.1h-1.1zM64.7 39.9h1.1v1.1h-1.1zM60.7 41.6h1.1v1.1h-1.1zM61.1 34.0h1.1v1.1h-1.1zM60.1 34.1h1.1v1.1h-1.1zM59.9 35.9h1.1v1.1h-1.1zM65.5 48.7h1.1v1.1h-1.1zM66.6 36.6h1.1v1.1h-1.1zM66.9 45.6h1.1v1.1h-1.1zM57.0 46.5h1.1v1.1h-1.1zM56.0 40.7h1.1v1.1h-1.1zM59.9 44.2h1.1v1.1h-1.1zM65.1 49.9h1.1v1.1h-1.1zM67.0 34.4h1.1v1.1h-1.1zM55.3 26.0h1.1v1.1h-1.1zM67.6 32.7h1.1v1.1h-1.1zM58.0 27.1h1.1v1.1h-1.1z" fill="#000"/>
<path d="M44.2 57.9h1.1v1.1h-1.1zM50.5 48.4h1.1v1.1h-1.1zM45.7 93.0h1.1v1.1h-1.1zM45.5 46.4h1.1v1.1h-1.1zM45.1 52.5h1.1v1.1h-1.1zM38.4 73.0h1.1v1.1h-1.1zM43.0 87.7h1.1v1.1h-1.1zM42.4 43.9h1.1v1.1h-1.1zM45.8 67.4h1.1v1.1h-1.1zM40.6 69.3h1.1v1.1h-1.1zM48.7 86.6h1.1v1.1h-1.1zM53.7 72.3h1.1v1.1h-1.1zM52.2 44.5h1.1v1.1h-1.1zM50.8 98.2h1.1v1.1h-1.1zM45.3 53.5h1.1v1.1h-1.1zM42.1 52.0h1.1v1.1h-1.1zM44.6 63.2h1.1v1.1h-1.1zM40.8 89.4h1.1v1.1h-1.1zM54.6 46.1h1.1v1.1h-1.1zM48.9 64.9h1.1v1.1h-1.1zM46.6 69.2h1.1v1.1h-1.1zM45.5 86.7h1.1v1.1h-1.1zM54.0 55.0h1.1v1.1h-1.1zM44.1 39.6h1.1v1.1h-1.1zM45.0 54.4h1.1v1.1h-1.1zM41.1 90.1h1.1v1.1h-1.1zM46.9 51.5h1.1v1.1h-1.1zM41.0 74.8h1.1v1.1h-1.1zM52.1 93.0h1.1v1.1h-1.1zM50.4 85.0h1.1v1.1h-1.1zM41.0 45.6h1.1v1.1h-1.1zM49.4 76.6h1.1v1.1h-1.1zM41.3 56.4h1.1v1.1h-1.1zM38.2 80.6h1.1v1.1h-1.1zM46.8 90.0h1.1v1.1h-1.1zM53.6 69.7h1.1v1.1h-1.1zM43.9 54.8h1.1v1.1h-1.1zM48.9 96.6h1.1v1.1h-1.1zM39.5 62.8h1.1v1.1h-1.1zM51.0 45.4h1.1v1.1h-1.1zM49.3 52.6h1.1v1.1h-1.1zM47.6 99.1h1.1v1.1h-1.1zM38.6 81.2h1.1v1.1h-1.1zM47.8 91.1h1.1v1.1h-1.1zM44.1 95.7h1.1v1.1h-1.1zM54.5 41.5h1.1v1.1h-1.1zM44.1 52.4h1.1v1.1h-1.1zM52.1 94.5h1.1v1.1h-1.1zM51.2 91.7h1.1v1.1h-1.1zM47.8 93.6h1.1v1.1h-1.1zM43.0 43.8h1.1v1.1h-1.1zM50.4 65.1h1.1v1.1h-1.1zM38.4 87.7h1.1v1.1h-1.1zM40.3 52.3h1.1v1.1h-1.1zM39.5 76.0h1.1v1.1h-1.1z" fill="#000"/>
<path d="M61.0 75.1h1.1v1.1h-1.1zM65.7 91.8h1.1v1.1h-1.1zM59.2 91.1h1.1v1.1h-1.1zM67.9 73.8h1.1v1.1h-1.1zM69.0 83.6h1.1v1.1h-1.1zM64.6 73.2h1.1v1.1h-1.1zM64.3 76.1h1.1v1.1h-1.1zM60.1 71.7h1.1v1.1h-1.1zM62.3 79.1h1.1v1.1h-1.1zM66.0 86.8h1.1v1.1h-1.1zM60.3 70.2h1.1v1.1h-1.1zM69.6 81.1h1.1v1.1h-1.1zM61.7 72.9h1.1v1.1h-1.1zM67.0 79.0h1.1v1.1h-1.1zM63.8 91.7h1.1v1.1h-1.1zM59.2 83.5h1.1v1.1h-1.1zM67.3 82.5h1.1v1.1h-1.1zM66.2 67.9h1.1v1.1h-1.1zM70.6 68.4h1.1v1.1h-1.1zM63.4 77.4h1.1v1.1h-1.1zM69.1 85.6h1.1v1.1h-1.1zM69.1 81.7h1.1v1.1h-1.1zM70.8 75.3h1.1v1.1h-1.1zM63.8 81.6h1.1v1.1h-1.1zM62.9 70.8h1.1v1.1h-1.1z" fill="#000"/>
<path d="M228.2 7.3h1.1v1.1h-1.1zM235.2 11.9h1.1v1.1h-1.1zM203.4 3.6h1.1v1.1h-1.1zM209.9 6.9h1.1v1.1h-1.1zM210.4 12.0h1.1v1.1h-1.1zM211.3 8.3h1.1v1.1h-1.1zM217.7 17.0h1.1v1.1h-1.1zM219.8 2.7h1.1v1.1h-1.1zM239.3 16.6h1.1v1.1h-1.1zM204.5 15.0h1.1v1.1h-1.1z" fill="#000"/>
<path d="M215.5 92.0h1.1v1.1h-1.1zM215.5 88.5h1.1v1.1h-1.1zM217.7 81.4h1.1v1.1h-1.1zM209.2 82.5h1.1v1.1h-1.1zM208.2 83.8h1.1v1.1h-1.1zM208.5 82.4h1.1v1.1h-1.1zM212.2 83.0h1.1v1.1h-1.1zM208.7 92.5h1.1v1.1h-1.1zM219.1 91.8h1.1v1.1h-1.1zM209.0 88.1h1.1v1.1h-1.1zM219.2 86.3h1.1v1.1h-1.1zM214.1 91.6h1.1v1.1h-1.1zM219.0 87.9h1.1v1.1h-1.1zM211.3 89.8h1.1v1.1h-1.1zM216.9 84.4h1.1v1.1h-1.1z" fill="#000"/>
<path d="M216.8 166.6h1.1v1.1h-1.1zM213.3 164.1h1.1v1.1h-1.1zM218.2 163.9h1.1v1.1h-1.1zM223.4 163.4h1.1v1.1h-1.1zM217.2 167.6h1.1v1.1h-1.1zM210.5 163.7h1.1v1.1h-1.1zM212.8 165.4h1.1v1.1h-1.1zM224.5 164.2h1.1v1.1h-1.1zM223.9 162.3h1.1v1.1h-1.1zM224.3 163.6h1.1v1.1h-1.1zM214.9 163.2h1.1v1.1h-1.1zM223.2 162.7h1.1v1.1h-1.1zM210.9 161.2h1.1v1.1h-1.1zM218.3 165.8h1.1v1.1h-1.1z" fill="#000"/>
<path d="M41.8 204.6h1.1v1.1h-1.1zM43.1 206.8h1.1v1.1h-1.1zM41.8 205.9h1.1v1.1h-1.1zM43.2 208.9h1.1v1.1h-1.1zM44.4 208.1h1.1v1.1h-1.1zM42.3 204.7h1.1v1.1h-1.1zM40.1 198.6h1.1v1.1h-1.1zM43.9 199.6h1.1v1.1h-1.1zM45.7 197.2h1.1v1.1h-1.1zM45.9 208.0h1.1v1.1h-1.1zM47.0 199.5h1.1v1.1h-1.1zM44.0 204.2h1.1v1.1h-1.1zM44.6 201.4h1.1v1.1h-1.1zM39.8 201.3h1.1v1.1h-1.1zM43.4 197.5h1.1v1.1h-1.1z" fill="#000"/>
<path d="M39.3 306.8h1.1v1.1h-1.1zM34.1 302.8h1.1v1.1h-1.1zM36.9 296.4h1.1v1.1h-1.1zM33.3 302.8h1.1v1.1h-1.1zM45.5 287.1h1.1v1.1h-1.1zM38.4 288.9h1.1v1.1h-1.1zM42.0 295.7h1.1v1.1h-1.1zM44.6 279.2h1.1v1.1h-1.1zM46.7 306.7h1.1v1.1h-1.1zM39.0 287.4h1.1v1.1h-1.1zM42.3 301.5h1.1v1.1h-1.1zM40.1 289.6h1.1v1.1h-1.1zM35.9 302.0h1.1v1.1h-1.1zM37.9 306.1h1.1v1.1h-1.1zM43.8 285.8h1.1v1.1h-1.1zM37.8 306.2h1.1v1.1h-1.1zM49.7 305.8h1.1v1.1h-1.1zM31.5 286.2h1.1v1.1h-1.1zM49.8 287.4h1.1v1.1h-1.1zM42.3 287.7h1.1v1.1h-1.1zM44.0 291.2h1.1v1.1h-1.1zM48.3 299.4h1.1v1.1h-1.1zM40.0 292.0h1.1v1.1h-1.1zM31.9 297.9h1.1v1.1h-1.1zM40.5 279.3h1.1v1.1h-1.1zM32.4 285.4h1.1v1.1h-1.1zM39.6 293.0h1.1v1.1h-1.1zM44.6 305.0h1.1v1.1h-1.1zM34.2 284.3h1.1v1.1h-1.1zM39.8 290.2h1.1v1.1h-1.1zM47.1 304.2h1.1v1.1h-1.1zM43.3 298.4h1.1v1.1h-1.1zM46.7 281.6h1.1v1.1h-1.1zM38.6 289.3h1.1v1.1h-1.1zM32.6 287.7h1.1v1.1h-1.1zM34.7 297.4h1.1v1.1h-1.1zM37.2 288.6h1.1v1.1h-1.1zM50.6 293.2h1.1v1.1h-1.1zM51.4 296.7h1.1v1.1h-1.1zM42.0 301.9h1.1v1.1h-1.1zM35.4 304.0h1.1v1.1h-1.1zM39.7 280.7h1.1v1.1h-1.1zM42.9 282.0h1.1v1.1h-1.1zM43.0 296.7h1.1v1.1h-1.1zM46.2 298.4h1.1v1.1h-1.1zM31.2 279.1h1.1v1.1h-1.1zM45.9 294.5h1.1v1.1h-1.1zM50.3 290.1h1.1v1.1h-1.1zM33.1 279.4h1.1v1.1h-1.1zM31.6 283.9h1.1v1.1h-1.1zM47.1 294.9h1.1v1.1h-1.1zM49.3 304.1h1.1v1.1h-1.1zM41.8 283.0h1.1v1.1h-1.1zM35.2 295.8h1.1v1.1h-1.1zM34.1 293.5h1.1v1.1h-1.1zM41.7 279.8h1.1v1.1h-1.1zM32.6 305.5h1.1v1.1h-1.1zM41.3 292.1h1.1v1.1h-1.1zM40.0 301.4h1.1v1.1h-1.1zM44.7 298.2h1.1v1.1h-1.1z" fill="#000"/>
<path d="M48.2 315.2h1.1v1.1h-1.1zM41.0 319.9h1.1v1.1h-1.1zM36.7 332.6h1.1v1.1h-1.1zM54.0 344.1h1.1v1.1h-1.1zM37.3 316.9h1.1v1.1h-1.1zM49.1 310.7h1.1v1.1h-1.1zM40.6 324.3h1.1v1.1h-1.1zM52.0 311.6h1.1v1.1h-1.1zM37.1 318.6h1.1v1.1h-1.1zM40.7 315.7h1.1v1.1h-1.1zM48.3 316.2h1.1v1.1h-1.1zM36.1 341.2h1.1v1.1h-1.1zM45.6 325.1h1.1v1.1h-1.1zM41.3 341.9h1.1v1.1h-1.1zM56.6 312.4h1.1v1.1h-1.1zM50.2 334.3h1.1v1.1h-1.1zM48.3 324.9h1.1v1.1h-1.1zM44.4 335.6h1.1v1.1h-1.1zM36.5 341.3h1.1v1.1h-1.1zM37.8 316.1h1.1v1.1h-1.1zM44.0 310.3h1.1v1.1h-1.1zM54.5 324.3h1.1v1.1h-1.1zM43.6 322.1h1.1v1.1h-1.1zM54.3 322.1h1.1v1.1h-1.1zM49.7 344.6h1.1v1.1h-1.1zM44.9 342.9h1.1v1.1h-1.1zM47.6 323.9h1.1v1.1h-1.1zM45.8 322.4h1.1v1.1h-1.1zM45.1 320.0h1.1v1.1h-1.1zM36.5 339.0h1.1v1.1h-1.1zM41.1 314.7h1.1v1.1h-1.1zM40.1 329.6h1.1v1.1h-1.1zM52.5 330.0h1.1v1.1h-1.1zM45.8 338.6h1.1v1.1h-1.1zM41.0 323.2h1.1v1.1h-1.1zM40.5 324.6h1.1v1.1h-1.1zM49.2 330.9h1.1v1.1h-1.1zM42.2 327.1h1.1v1.1h-1.1zM40.3 340.9h1.1v1.1h-1.1zM50.2 343.9h1.1v1.1h-1.1z" fill="#000"/>
<path d="M241.0 210.3h1.1v1.1h-1.1zM230.9 221.7h1.1v1.1h-1.1zM232.6 204.7h1.1v1.1h-1.1zM232.2 196.6h1.1v1.1h-1.1zM236.5 212.7h1.1v1.1h-1.1zM224.6 217.7h1.1v1.1h-1.1zM236.2 215.2h1.1v1.1h-1.1zM223.5 213.8h1.1v1.1h-1.1zM225.6 193.4h1.1v1.1h-1.1zM235.8 213.1h1.1v1.1h-1.1zM237.0 199.7h1.1v1.1h-1.1zM226.4 218.8h1.1v1.1h-1.1zM224.2 219.5h1.1v1.1h-1.1zM237.5 215.0h1.1v1.1h-1.1zM226.5 213.8h1.1v1.1h-1.1zM224.6 201.4h1.1v1.1h-1.1zM237.7 204.6h1.1v1.1h-1.1zM229.4 217.5h1.1v1.1h-1.1zM231.4 211.2h1.1v1.1h-1.1zM234.3 218.0h1.1v1.1h-1.1zM239.9 198.1h1.1v1.1h-1.1zM229.6 216.2h1.1v1.1h-1.1zM235.4 219.0h1.1v1.1h-1.1zM223.5 213.4h1.1v1.1h-1.1zM231.3 222.0h1.1v1.1h-1.1zM230.2 219.3h1.1v1.1h-1.1zM224.8 201.5h1.1v1.1h-1.1zM227.9 210.7h1.1v1.1h-1.1zM226.9 212.6h1.1v1.1h-1.1zM230.3 210.6h1.1v1.1h-1.1zM230.8 215.0h1.1v1.1h-1.1zM225.8 214.4h1.1v1.1h-1.1zM232.9 211.3h1.1v1.1h-1.1zM239.9 209.4h1.1v1.1h-1.1zM227.1 207.4h1.1v1.1h-1.1zM232.4 219.8h1.1v1.1h-1.1zM235.1 209.7h1.1v1.1h-1.1zM239.8 196.2h1.1v1.1h-1.1zM236.7 212.0h1.1v1.1h-1.1zM239.2 218.4h1.1v1.1h-1.1zM233.5 213.2h1.1v1.1h-1.1zM240.5 212.8h1.1v1.1h-1.1zM223.7 202.2h1.1v1.1h-1.1zM237.0 203.0h1.1v1.1h-1.1zM239.4 205.1h1.1v1.1h-1.1z" fill="#000"/>
<path d="M245.1 279.0h1.1v1.1h-1.1zM242.2 260.3h1.1v1.1h-1.1zM240.1 263.4h1.1v1.1h-1.1zM249.8 265.6h1.1v1.1h-1.1zM235.8 267.1h1.1v1.1h-1.1zM243.8 275.1h1.1v1.1h-1.1zM242.4 267.2h1.1v1.1h-1.1zM243.6 259.9h1.1v1.1h-1.1zM243.5 275.3h1.1v1.1h-1.1zM245.9 266.7h1.1v1.1h-1.1zM232.4 277.9h1.1v1.1h-1.1zM247.0 268.4h1.1v1.1h-1.1zM232.0 258.9h1.1v1.1h-1.1zM246.0 260.7h1.1v1.1h-1.1zM234.0 278.1h1.1v1.1h-1.1zM231.9 263.3h1.1v1.1h-1.1zM230.1 270.3h1.1v1.1h-1.1zM231.2 271.5h1.1v1.1h-1.1zM239.2 266.6h1.1v1.1h-1.1zM244.2 255.1h1.1v1.1h-1.1zM243.9 258.2h1.1v1.1h-1.1zM242.7 271.8h1.1v1.1h-1.1zM231.1 272.0h1.1v1.1h-1.1zM241.5 260.8h1.1v1.1h-1.1zM242.5 257.8h1.1v1.1h-1.1zM237.8 277.6h1.1v1.1h-1.1zM243.6 258.7h1.1v1.1h-1.1zM250.5 275.1h1.1v1.1h-1.1zM237.3 260.0h1.1v1.1h-1.1zM243.9 255.3h1.1v1.1h-1.1zM239.2 256.0h1.1v1.1h-1.1zM248.6 262.3h1.1v1.1h-1.1zM230.5 262.4h1.1v1.1h-1.1zM250.1 258.9h1.1v1.1h-1.1zM238.2 268.7h1.1v1.1h-1.1zM234.7 268.4h1.1v1.1h-1.1zM229.0 266.2h1.1v1.1h-1.1zM250.5 266.7h1.1v1.1h-1.1zM245.2 263.0h1.1v1.1h-1.1zM245.0 261.3h1.1v1.1h-1.1zM242.8 278.0h1.1v1.1h-1.1zM239.2 273.8h1.1v1.1h-1.1zM235.4 263.6h1.1v1.1h-1.1zM230.1 261.9h1.1v1.1h-1.1zM242.1 272.5h1.1v1.1h-1.1zM244.1 270.7h1.1v1.1h-1.1zM229.8 272.9h1.1v1.1h-1.1zM228.6 264.5h1.1v1.1h-1.1zM231.3 263.8h1.1v1.1h-1.1zM250.1 267.6h1.1v1.1h-1.1zM248.6 271.4h1.1v1.1h-1.1zM230.4 272.3h1.1v1.1h-1.1zM235.1 269.8h1.1v1.1h-1.1zM236.7 270.5h1.1v1.1h-1.1zM236.2 260.5h1.1v1.1h-1.1zM231.1 277.1h1.1v1.1h-1.1zM247.3 261.1h1.1v1.1h-1.1zM229.3 257.6h1.1v1.1h-1.1zM246.5 277.1h1.1v1.1h-1.1zM251.0 264.7h1.1v1.1h-1.1zM229.2 260.2h1.1v1.1h-1.1zM237.7 272.5h1.1v1.1h-1.1zM250.9 269.5h1.1v1.1h-1.1zM242.4 258.4h1.1v1.1h-1.1zM233.2 258.3h1.1v1.1h-1.1zM242.6 264.6h1.1v1.1h-1.1zM250.5 275.4h1.1v1.1h-1.1zM239.0 260.2h1.1v1.1h-1.1zM236.6 255.8h1.1v1.1h-1.1zM242.0 275.0h1.1v1.1h-1.1z" fill="#000"/>
<path d="M228.2 274.0h1.1v1.1h-1.1zM221.2 272.2h1.1v1.1h-1.1zM231.4 289.7h1.1v1.1h-1.1zM221.0 271.2h1.1v1.1h-1.1zM235.3 274.7h1.1v1.1h-1.1zM231.6 279.0h1.1v1.1h-1.1zM220.1 287.9h1.1v1.1h-1.1zM230.8 282.9h1.1v1.1h-1.1zM227.5 282.4h1.1v1.1h-1.1zM228.3 280.0h1.1v1.1h-1.1zM228.6 284.1h1.1v1.1h-1.1zM222.5 279.4h1.1v1.1h-1.1zM229.7 272.7h1.1v1.1h-1.1zM233.0 286.2h1.1v1.1h-1.1zM225.3 284.8h1.1v1.1h-1.1zM229.0 279.8h1.1v1.1h-1.1zM225.9 284.8h1.1v1.1h-1.1zM222.2 289.2h1.1v1.1h-1.1zM228.5 284.3h1.1v1.1h-1.1zM233.6 275.7h1.1v1.1h-1.1zM231.8 285.5h1.1v1.1h-1.1zM222.4 283.2h1.1v1.1h-1.1zM228.9 290.8h1.1v1.1h-1.1zM225.8 276.0h1.1v1.1h-1.1zM227.1 276.5h1.1v1.1h-1.1zM223.6 291.3h1.1v1.1h-1.1zM223.2 286.7h1.1v1.1h-1.1zM223.5 288.6h1.1v1.1h-1.1zM230.4 274.9h1.1v1.1h-1.1zM230.7 285.9h1.1v1.1h-1.1z" fill="#000"/>
<path d="M234.8 323.8h1.1v1.1h-1.1zM241.4 333.6h1.1v1.1h-1.1zM245.4 342.3h1.1v1.1h-1.1zM241.9 339.9h1.1v1.1h-1.1zM244.3 337.8h1.1v1.1h-1.1zM232.8 325.6h1.1v1.1h-1.1zM240.7 339.4h1.1v1.1h-1.1zM249.9 330.7h1.1v1.1h-1.1zM250.2 326.1h1.1v1.1h-1.1zM239.7 333.1h1.1v1.1h-1.1zM241.4 344.7h1.1v1.1h-1.1zM234.0 324.5h1.1v1.1h-1.1zM232.0 320.3h1.1v1.1h-1.1zM243.0 321.6h1.1v1.1h-1.1zM231.0 306.7h1.1v1.1h-1.1zM244.7 344.2h1.1v1.1h-1.1zM239.7 309.9h1.1v1.1h-1.1zM232.8 342.2h1.1v1.1h-1.1zM231.8 345.5h1.1v1.1h-1.1zM234.2 309.7h1.1v1.1h-1.1zM245.3 319.5h1.1v1.1h-1.1zM237.7 339.5h1.1v1.1h-1.1zM246.9 335.2h1.1v1.1h-1.1zM230.2 315.5h1.1v1.1h-1.1zM235.0 326.0h1.1v1.1h-1.1zM241.0 319.6h1.1v1.1h-1.1zM240.3 338.5h1.1v1.1h-1.1zM237.4 319.6h1.1v1.1h-1.1zM236.9 329.7h1.1v1.1h-1.1zM230.7 342.3h1.1v1.1h-1.1zM235.1 319.5h1.1v1.1h-1.1zM244.6 305.9h1.1v1.1h-1.1zM250.8 323.0h1.1v1.1h-1.1zM246.6 325.0h1.1v1.1h-1.1zM231.5 315.6h1.1v1.1h-1.1zM233.2 343.2h1.1v1.1h-1.1zM248.3 332.5h1.1v1.1h-1.1zM247.6 329.1h1.1v1.1h-1.1zM235.3 345.9h1.1v1.1h-1.1zM246.0 316.0h1.1v1.1h-1.1zM239.3 306.0h1.1v1.1h-1.1zM250.9 325.0h1.1v1.1h-1.1zM240.2 306.3h1.1v1.1h-1.1zM247.6 308.1h1.1v1.1h-1.1zM243.0 331.4h1.1v1.1h-1.1zM242.6 339.6h1.1v1.1h-1.1zM250.3 333.4h1.1v1.1h-1.1zM239.4 314.4h1.1v1.1h-1.1zM250.1 326.2h1.1v1.1h-1.1zM237.6 326.7h1.1v1.1h-1.1zM236.5 310.4h1.1v1.1h-1.1zM243.1 313.7h1.1v1.1h-1.1zM247.2 334.8h1.1v1.1h-1.1zM237.0 324.2h1.1v1.1h-1.1zM249.7 317.9h1.1v1.1h-1.1zM237.0 324.8h1.1v1.1h-1.1zM234.8 315.2h1.1v1.1h-1.1zM248.4 330.0h1.1v1.1h-1.1zM243.2 334.8h1.1v1.1h-1.1zM233.0 320.8h1.1v1.1h-1.1zM231.3 345.6h1.1v1.1h-1.1zM237.5 328.5h1.1v1.1h-1.1zM242.3 310.7h1.1v1.1h-1.1zM244.7 342.5h1.1v1.1h-1.1zM249.0 308.9h1.1v1.1h-1.1zM234.2 322.5h1.1v1.1h-1.1zM242.0 309.1h1.1v1.1h-1.1zM246.6 337.5h1.1v1.1h-1.1zM235.0 337.7h1.1v1.1h-1.1zM233.0 308.0h1.1v1.1h-1.1zM250.2 319.0h1.1v1.1h-1.1zM237.6 340.0h1.1v1.1h-1.1zM235.1 340.8h1.1v1.1h-1.1zM245.0 318.7h1.1v1.1h-1.1zM244.8 332.5h1.1v1.1h-1.1zM248.6 337.1h1.1v1.1h-1.1zM240.6 341.7h1.1v1.1h-1.1zM247.0 345.9h1.1v1.1h-1.1zM233.2 313.4h1.1v1.1h-1.1zM248.7 332.5h1.1v1.1h-1.1zM238.5 321.2h1.1v1.1h-1.1zM246.2 343.1h1.1v1.1h-1.1zM242.3 310.9h1.1v1.1h-1.1zM245.1 315.3h1.1v1.1h-1.1zM242.0 332.0h1.1v1.1h-1.1zM250.3 308.0h1.1v1.1h-1.1zM234.0 342.9h1.1v1.1h-1.1zM242.3 317.5h1.1v1.1h-1.1zM237.4 324.2h1.1v1.1h-1.1zM250.4 333.3h1.1v1.1h-1.1zM245.1 342.8h1.1v1.1h-1.1zM247.6 318.1h1.1v1.1h-1.1zM233.7 341.8h1.1v1.1h-1.1zM241.5 336.1h1.1v1.1h-1.1zM243.2 314.7h1.1v1.1h-1.1zM230.4 307.0h1.1v1.1h-1.1zM239.4 341.6h1.1v1.1h-1.1zM235.9 325.6h1.1v1.1h-1.1zM232.1 314.9h1.1v1.1h-1.1zM231.2 310.3h1.1v1.1h-1.1zM231.0 308.0h1.1v1.1h-1.1zM247.1 328.6h1.1v1.1h-1.1zM245.1 305.2h1.1v1.1h-1.1zM235.7 331.3h1.1v1.1h-1.1zM230.3 318.2h1.1v1.1h-1.1zM230.6 318.2h1.1v1.1h-1.1zM248.2 306.1h1.1v1.1h-1.1zM240.2 330.0h1.1v1.1h-1.1zM246.8 312.2h1.1v1.1h-1.1zM248.1 337.6h1.1v1.1h-1.1zM231.8 330.1h1.1v1.1h-1.1zM246.3 345.5h1.1v1.1h-1.1zM238.4 343.5h1.1v1.1h-1.1zM248.3 306.1h1.1v1.1h-1.1zM236.7 331.8h1.1v1.1h-1.1zM236.6 322.0h1.1v1.1h-1.1zM244.9 339.2h1.1v1.1h-1.1zM233.3 305.8h1.1v1.1h-1.1zM234.4 326.7h1.1v1.1h-1.1zM247.7 319.7h1.1v1.1h-1.1zM237.6 319.1h1.1v1.1h-1.1zM244.3 340.5h1.1v1.1h-1.1zM233.2 345.2h1.1v1.1h-1.1zM242.1 314.4h1.1v1.1h-1.1zM243.0 338.4h1.1v1.1h-1.1zM240.0 306.3h1.1v1.1h-1.1zM243.6 331.7h1.1v1.1h-1.1zM241.5 334.0h1.1v1.1h-1.1zM241.7 319.8h1.1v1.1h-1.1zM241.1 316.2h1.1v1.1h-1.1zM235.3 327.9h1.1v1.1h-1.1zM232.1 338.2h1.1v1.1h-1.1zM250.5 311.2h1.1v1.1h-1.1zM243.2 321.4h1.1v1.1h-1.1zM250.6 343.4h1.1v1.1h-1.1zM243.1 310.0h1.1v1.1h-1.1zM241.4 313.4h1.1v1.1h-1.1zM246.3 315.6h1.1v1.1h-1.1zM242.7 335.2h1.1v1.1h-1.1zM249.0 340.7h1.1v1.1h-1.1zM248.0 336.9h1.1v1.1h-1.1zM241.1 319.4h1.1v1.1h-1.1zM244.9 323.1h1.1v1.1h-1.1zM248.1 313.7h1.1v1.1h-1.1zM249.2 341.9h1.1v1.1h-1.1zM238.2 313.7h1.1v1.1h-1.1zM246.6 306.1h1.1v1.1h-1.1zM243.9 305.6h1.1v1.1h-1.1zM246.9 342.5h1.1v1.1h-1.1zM244.2 319.4h1.1v1.1h-1.1z" fill="#000"/>
<path d="M17.4 341.0h1.1v1.1h-1.1zM45.2 341.0h1.1v1.1h-1.1zM34.9 344.9h1.1v1.1h-1.1zM9.3 338.2h1.1v1.1h-1.1zM37.1 339.9h1.1v1.1h-1.1zM22.5 340.6h1.1v1.1h-1.1zM25.5 340.2h1.1v1.1h-1.1zM44.1 342.0h1.1v1.1h-1.1zM48.2 344.3h1.1v1.1h-1.1zM27.6 345.5h1.1v1.1h-1.1zM39.5 345.6h1.1v1.1h-1.1zM13.6 340.4h1.1v1.1h-1.1zM11.6 338.0h1.1v1.1h-1.1zM43.8 340.0h1.1v1.1h-1.1zM21.1 342.9h1.1v1.1h-1.1zM47.2 339.7h1.1v1.1h-1.1zM10.1 344.3h1.1v1.1h-1.1zM42.9 343.9h1.1v1.1h-1.1zM9.9 344.2h1.1v1.1h-1.1zM26.0 341.5h1.1v1.1h-1.1zM13.7 345.5h1.1v1.1h-1.1zM36.1 344.4h1.1v1.1h-1.1zM14.2 345.3h1.1v1.1h-1.1zM13.5 340.4h1.1v1.1h-1.1zM28.6 340.8h1.1v1.1h-1.1z" fill="#000"/>
<path d="M15.5 19.7h1.1v1.1h-1.1zM9.1 17.7h1.1v1.1h-1.1zM13.6 27.3h1.1v1.1h-1.1zM9.1 14.8h1.1v1.1h-1.1zM18.1 24.2h1.1v1.1h-1.1zM5.6 25.8h1.1v1.1h-1.1zM2.3 7.1h1.1v1.1h-1.1zM12.7 23.8h1.1v1.1h-1.1zM14.6 29.7h1.1v1.1h-1.1zM2.9 36.0h1.1v1.1h-1.1z" fill="#000"/>
<path d="M236.0 6.2h1.1v1.1h-1.1zM250.3 38.9h1.1v1.1h-1.1zM243.4 2.1h1.1v1.1h-1.1zM238.6 22.5h1.1v1.1h-1.1zM245.1 22.7h1.1v1.1h-1.1zM250.9 22.1h1.1v1.1h-1.1zM248.4 38.4h1.1v1.1h-1.1zM236.2 38.9h1.1v1.1h-1.1zM248.7 38.9h1.1v1.1h-1.1zM238.6 4.8h1.1v1.1h-1.1z" fill="#000"/>
<path d="M29.0,5.0 L33.0,20.0" stroke="#000" stroke-width="3.2" stroke-dasharray="1 1.1" fill="none"/><path d="M33.0 15.7h1v1h-1zM33.0 19.9h1v1h-1zM33.3 16.5h1v1h-1zM31.9 10.3h1v1h-1zM29.4 10.6h1v1h-1zM32.9 18.7h1v1h-1zM29.3 11.0h1v1h-1zM29.8 4.2h1v1h-1zM33.9 15.8h1v1h-1zM25.5 8.6h1v1h-1zM31.2 10.8h1v1h-1zM32.0 16.8h1v1h-1zM33.8 14.8h1v1h-1zM28.5 10.3h1v1h-1zM30.0 10.2h1v1h-1zM29.2 14.0h1v1h-1zM29.8 13.6h1v1h-1zM31.7 8.3h1v1h-1zM32.1 18.5h1v1h-1zM32.7 21.8h1v1h-1z" fill="#000"/>
<path d="M20.0,67.0 L34.0,78.0" stroke="#000" stroke-width="3.2" stroke-dasharray="1 1.1" fill="none"/><path d="M34.0 77.3h1v1h-1zM31.6 73.1h1v1h-1zM25.3 67.4h1v1h-1zM23.2 69.8h1v1h-1zM36.3 79.0h1v1h-1zM25.4 71.9h1v1h-1zM24.7 70.3h1v1h-1zM30.9 77.6h1v1h-1zM30.1 73.7h1v1h-1zM22.6 72.8h1v1h-1zM24.0 73.0h1v1h-1zM23.8 72.8h1v1h-1zM26.6 74.8h1v1h-1zM23.4 71.6h1v1h-1zM20.0 66.4h1v1h-1zM22.3 68.9h1v1h-1zM19.6 68.6h1v1h-1zM26.0 73.5h1v1h-1zM23.5 69.8h1v1h-1zM22.6 69.2h1v1h-1z" fill="#000"/>
<path d="M21.0,118.0 L44.0,132.0" stroke="#000" stroke-width="3.8" stroke-dasharray="1 1.1" fill="none"/><path d="M34.7 124.9h1v1h-1zM25.1 122.5h1v1h-1zM33.1 125.4h1v1h-1zM42.3 134.5h1v1h-1zM41.8 129.2h1v1h-1zM22.1 113.8h1v1h-1zM29.8 123.2h1v1h-1zM27.0 120.6h1v1h-1zM38.7 126.2h1v1h-1zM35.5 126.6h1v1h-1zM42.5 131.0h1v1h-1zM26.4 125.7h1v1h-1zM36.0 126.2h1v1h-1zM36.5 124.8h1v1h-1zM32.2 124.1h1v1h-1zM21.7 119.5h1v1h-1zM39.6 128.6h1v1h-1zM21.6 119.7h1v1h-1zM26.9 123.7h1v1h-1zM34.5 126.3h1v1h-1zM36.2 126.2h1v1h-1zM40.9 131.8h1v1h-1zM40.5 131.1h1v1h-1zM38.0 129.2h1v1h-1zM41.6 131.2h1v1h-1zM21.0 117.6h1v1h-1zM26.5 120.5h1v1h-1zM32.6 125.4h1v1h-1zM29.0 122.1h1v1h-1zM32.1 121.7h1v1h-1z" fill="#000"/>
<path d="M225.0,51.0 L242.0,34.0" stroke="#000" stroke-width="3.2" stroke-dasharray="1 1.1" fill="none"/><path d="M230.2 47.3h1v1h-1zM231.2 43.3h1v1h-1zM227.8 50.9h1v1h-1zM239.5 33.2h1v1h-1zM228.6 48.0h1v1h-1zM232.2 41.1h1v1h-1zM238.0 38.6h1v1h-1zM241.4 34.5h1v1h-1zM227.8 47.6h1v1h-1zM230.6 47.1h1v1h-1zM231.8 43.1h1v1h-1zM229.7 50.2h1v1h-1zM229.1 51.2h1v1h-1zM238.6 37.2h1v1h-1zM237.2 37.8h1v1h-1zM228.3 44.8h1v1h-1zM237.8 37.2h1v1h-1zM237.8 36.0h1v1h-1zM233.1 43.7h1v1h-1zM226.3 52.9h1v1h-1zM235.5 39.6h1v1h-1zM240.5 35.9h1v1h-1z" fill="#000"/>
<path d="M216.0,78.0 L230.0,66.0" stroke="#000" stroke-width="2.9" stroke-dasharray="1 1.1" fill="none"/><path d="M216.1 76.8h1v1h-1zM228.9 65.5h1v1h-1zM225.7 70.3h1v1h-1zM224.4 74.6h1v1h-1zM225.8 73.6h1v1h-1zM221.2 75.0h1v1h-1zM224.9 69.3h1v1h-1zM218.6 77.3h1v1h-1zM222.8 73.5h1v1h-1zM225.7 72.0h1v1h-1zM224.7 72.4h1v1h-1zM216.8 75.0h1v1h-1zM229.1 68.1h1v1h-1zM218.3 73.2h1v1h-1zM216.6 76.0h1v1h-1zM228.2 67.8h1v1h-1zM219.7 74.1h1v1h-1z" fill="#000"/>
<path d="M223.0,100.0 L240.0,110.0" stroke="#000" stroke-width="4.2" stroke-dasharray="1 1.1" fill="none"/><path d="M223.4 101.1h1v1h-1zM229.0 104.6h1v1h-1zM230.3 106.4h1v1h-1zM226.6 98.0h1v1h-1zM232.2 108.1h1v1h-1zM226.0 102.8h1v1h-1zM226.1 101.0h1v1h-1zM229.4 102.2h1v1h-1zM240.0 109.8h1v1h-1zM233.7 109.6h1v1h-1zM227.3 101.0h1v1h-1zM236.7 109.8h1v1h-1zM224.9 102.2h1v1h-1zM225.9 102.3h1v1h-1zM226.7 102.2h1v1h-1zM228.9 102.1h1v1h-1zM236.7 105.2h1v1h-1zM233.9 107.0h1v1h-1zM225.1 101.3h1v1h-1zM236.1 106.6h1v1h-1zM236.7 108.1h1v1h-1zM239.3 108.4h1v1h-1zM235.6 107.9h1v1h-1zM224.3 100.0h1v1h-1zM227.5 100.1h1v1h-1zM237.3 107.5h1v1h-1zM229.8 104.2h1v1h-1z" fill="#000"/>
<path d="M221.0,130.0 L230.0,120.0" stroke="#000" stroke-width="2.0" stroke-dasharray="1 1.1" fill="none"/><path d="M228.3 123.0h1v1h-1zM221.8 128.0h1v1h-1zM221.8 130.1h1v1h-1zM229.6 122.5h1v1h-1zM221.8 128.5h1v1h-1zM228.3 121.4h1v1h-1zM228.8 119.5h1v1h-1z" fill="#000"/>
<path d="M228.0,152.0 L247.0,162.0" stroke="#000" stroke-width="4.2" stroke-dasharray="1 1.1" fill="none"/><path d="M233.3 152.7h1v1h-1zM227.0 152.1h1v1h-1zM228.8 152.3h1v1h-1zM246.2 161.2h1v1h-1zM232.8 151.9h1v1h-1zM239.8 155.7h1v1h-1zM241.2 159.8h1v1h-1zM241.0 159.5h1v1h-1zM237.6 153.8h1v1h-1zM229.0 155.5h1v1h-1zM242.6 161.1h1v1h-1zM237.7 155.7h1v1h-1zM230.0 149.2h1v1h-1zM243.1 158.3h1v1h-1zM235.5 156.4h1v1h-1zM242.7 156.1h1v1h-1zM227.9 150.8h1v1h-1zM240.2 156.5h1v1h-1zM236.5 155.3h1v1h-1zM241.5 155.9h1v1h-1zM243.7 161.8h1v1h-1zM229.9 152.1h1v1h-1zM242.7 161.1h1v1h-1zM235.2 156.9h1v1h-1zM227.9 154.2h1v1h-1zM225.5 157.6h1v1h-1zM233.1 152.6h1v1h-1zM238.3 158.7h1v1h-1zM237.0 161.2h1v1h-1zM234.9 156.9h1v1h-1z" fill="#000"/>
<path d="M29.0,175.0 L46.0,193.0" stroke="#000" stroke-width="5.1" stroke-dasharray="1 1.1" fill="none"/><path d="M29.2 181.6h1v1h-1zM46.0 190.4h1v1h-1zM37.4 177.8h1v1h-1zM43.2 181.0h1v1h-1zM40.3 182.3h1v1h-1zM30.8 180.0h1v1h-1zM39.9 183.2h1v1h-1zM45.3 188.7h1v1h-1zM43.0 190.0h1v1h-1zM30.8 181.0h1v1h-1zM34.4 183.0h1v1h-1zM33.3 177.0h1v1h-1zM45.2 191.1h1v1h-1zM36.5 186.9h1v1h-1zM32.9 171.8h1v1h-1zM29.5 178.6h1v1h-1zM39.6 186.9h1v1h-1zM39.4 182.4h1v1h-1zM30.9 174.4h1v1h-1zM34.7 177.0h1v1h-1zM47.4 195.8h1v1h-1zM44.5 191.4h1v1h-1zM45.1 189.4h1v1h-1zM41.0 185.3h1v1h-1zM33.4 186.8h1v1h-1zM36.9 180.3h1v1h-1zM42.4 190.0h1v1h-1zM39.3 183.6h1v1h-1zM44.6 190.3h1v1h-1zM35.7 179.6h1v1h-1z" fill="#000"/>
<path d="M27.0,247.0 L44.0,230.0" stroke="#000" stroke-width="3.2" stroke-dasharray="1 1.1" fill="none"/><path d="M39.5 236.6h1v1h-1zM32.7 239.8h1v1h-1zM40.1 232.2h1v1h-1zM40.9 232.5h1v1h-1zM32.0 243.3h1v1h-1zM37.6 241.2h1v1h-1zM36.0 236.4h1v1h-1zM30.1 244.0h1v1h-1zM29.6 241.8h1v1h-1zM40.9 232.9h1v1h-1zM33.4 238.9h1v1h-1zM41.2 232.6h1v1h-1zM36.5 239.5h1v1h-1zM38.2 237.0h1v1h-1zM36.2 240.5h1v1h-1zM43.6 233.3h1v1h-1zM42.3 230.9h1v1h-1zM43.3 232.0h1v1h-1zM39.3 234.0h1v1h-1zM35.3 237.9h1v1h-1z" fill="#000"/>
<path d="M228.0,255.0 L251.0,279.0" stroke="#000" stroke-width="5.8" stroke-dasharray="1 1.1" fill="none"/><path d="M244.7 277.0h1v1h-1zM238.6 259.9h1v1h-1zM231.0 255.7h1v1h-1zM248.9 279.1h1v1h-1zM244.6 270.9h1v1h-1zM226.3 254.2h1v1h-1zM238.9 269.6h1v1h-1zM243.8 269.1h1v1h-1zM232.0 263.4h1v1h-1zM235.0 262.3h1v1h-1zM234.9 254.6h1v1h-1zM235.9 267.9h1v1h-1zM243.8 279.8h1v1h-1zM244.9 268.4h1v1h-1zM235.2 263.6h1v1h-1zM232.9 265.1h1v1h-1zM248.9 276.6h1v1h-1zM244.7 272.1h1v1h-1zM228.6 261.4h1v1h-1zM230.9 265.6h1v1h-1zM241.0 268.8h1v1h-1zM237.3 268.5h1v1h-1zM241.2 259.3h1v1h-1zM240.6 271.2h1v1h-1zM245.4 281.8h1v1h-1zM240.8 267.0h1v1h-1zM232.8 257.2h1v1h-1zM238.7 263.4h1v1h-1zM232.1 258.9h1v1h-1zM246.6 280.1h1v1h-1zM250.7 277.0h1v1h-1zM239.1 266.0h1v1h-1zM240.2 269.1h1v1h-1zM253.0 275.7h1v1h-1zM231.4 258.7h1v1h-1zM231.9 257.9h1v1h-1zM253.3 277.0h1v1h-1zM246.0 269.3h1v1h-1zM232.8 254.7h1v1h-1zM234.9 261.5h1v1h-1z" fill="#000"/>
<path d="M232.0,310.0 L251.0,346.0" stroke="#000" stroke-width="7.0" stroke-dasharray="1 1.1" fill="none"/><path d="M245.6 336.2h1v1h-1zM233.3 325.8h1v1h-1zM244.1 329.0h1v1h-1zM239.6 327.0h1v1h-1zM237.0 322.6h1v1h-1zM244.8 333.4h1v1h-1zM231.3 305.5h1v1h-1zM240.5 319.9h1v1h-1zM247.4 342.0h1v1h-1zM235.5 328.6h1v1h-1zM252.9 341.9h1v1h-1zM234.4 321.0h1v1h-1zM246.5 332.8h1v1h-1zM238.9 316.4h1v1h-1zM246.4 335.9h1v1h-1zM247.4 343.0h1v1h-1zM233.5 310.0h1v1h-1zM236.0 302.8h1v1h-1zM234.1 310.9h1v1h-1zM248.5 327.3h1v1h-1zM235.0 320.8h1v1h-1zM246.9 337.5h1v1h-1zM231.7 322.7h1v1h-1zM239.6 308.0h1v1h-1zM233.7 322.6h1v1h-1zM249.8 331.8h1v1h-1zM241.6 324.1h1v1h-1zM231.4 310.7h1v1h-1zM250.0 342.0h1v1h-1zM247.4 340.7h1v1h-1zM237.7 331.4h1v1h-1zM247.5 338.6h1v1h-1zM242.7 328.0h1v1h-1zM244.6 334.6h1v1h-1zM249.3 342.8h1v1h-1zM234.5 331.3h1v1h-1zM250.4 343.6h1v1h-1zM239.6 328.4h1v1h-1zM229.1 312.2h1v1h-1zM250.6 337.6h1v1h-1zM236.4 316.6h1v1h-1zM242.0 335.7h1v1h-1zM245.2 349.0h1v1h-1zM238.1 313.5h1v1h-1zM229.4 311.4h1v1h-1zM242.0 337.3h1v1h-1zM241.8 331.4h1v1h-1zM242.6 333.3h1v1h-1zM229.3 316.5h1v1h-1zM234.6 312.3h1v1h-1zM249.3 333.7h1v1h-1zM228.7 312.5h1v1h-1zM234.1 320.0h1v1h-1zM252.9 346.8h1v1h-1zM236.8 324.8h1v1h-1zM241.9 332.6h1v1h-1zM238.3 314.2h1v1h-1zM247.3 340.8h1v1h-1zM254.5 343.4h1v1h-1zM236.3 312.1h1v1h-1zM234.7 313.0h1v1h-1zM245.0 334.7h1v1h-1zM249.7 341.8h1v1h-1zM243.1 334.7h1v1h-1zM236.0 308.6h1v1h-1zM231.1 312.3h1v1h-1zM239.6 314.3h1v1h-1zM237.0 323.2h1v1h-1zM243.5 342.3h1v1h-1zM229.3 309.8h1v1h-1zM238.6 334.3h1v1h-1zM232.4 307.6h1v1h-1zM240.2 323.3h1v1h-1zM234.7 308.5h1v1h-1zM239.9 322.8h1v1h-1z" fill="#000"/>
<path d="M33.0,285.0 L50.0,300.0" stroke="#000" stroke-width="5.8" stroke-dasharray="1 1.1" fill="none"/><path d="M41.0 292.7h1v1h-1zM44.5 301.0h1v1h-1zM44.2 298.4h1v1h-1zM42.6 293.0h1v1h-1zM49.1 293.5h1v1h-1zM45.2 295.9h1v1h-1zM42.2 293.1h1v1h-1zM48.5 301.8h1v1h-1zM40.0 289.8h1v1h-1zM45.4 295.1h1v1h-1zM44.1 293.3h1v1h-1zM36.6 287.2h1v1h-1zM33.9 282.9h1v1h-1zM37.3 287.7h1v1h-1zM43.4 293.2h1v1h-1zM50.5 296.8h1v1h-1zM48.2 301.2h1v1h-1zM48.6 302.7h1v1h-1zM49.9 295.9h1v1h-1zM39.2 292.4h1v1h-1zM47.8 297.9h1v1h-1zM37.0 293.5h1v1h-1zM48.4 298.2h1v1h-1zM45.1 294.8h1v1h-1zM40.4 289.8h1v1h-1zM49.2 298.3h1v1h-1zM33.7 285.8h1v1h-1zM37.3 295.6h1v1h-1zM46.8 301.7h1v1h-1zM33.0 290.9h1v1h-1z" fill="#000"/>
<path d="M225.0,200.0 L240.0,218.0" stroke="#000" stroke-width="4.8" stroke-dasharray="1 1.1" fill="none"/><path d="M232.2 209.5h1v1h-1zM239.2 215.0h1v1h-1zM236.9 213.5h1v1h-1zM237.6 209.2h1v1h-1zM238.1 220.1h1v1h-1zM230.0 204.8h1v1h-1zM229.4 208.1h1v1h-1zM231.0 208.6h1v1h-1zM231.0 210.1h1v1h-1zM236.6 206.4h1v1h-1zM232.7 208.2h1v1h-1zM227.4 205.4h1v1h-1zM232.6 207.0h1v1h-1zM232.9 211.7h1v1h-1zM242.0 217.0h1v1h-1zM225.2 201.4h1v1h-1zM230.9 209.3h1v1h-1zM224.0 202.2h1v1h-1zM239.5 215.9h1v1h-1zM236.4 213.8h1v1h-1zM229.4 204.2h1v1h-1zM233.8 212.9h1v1h-1z" fill="#000"/>
</svg></div>
<div class="t" id="c1" style="left:149px;top:638.5px;font-size:29px;letter-spacing:-0.28px;font-weight:bold;-webkit-text-stroke:0.5px #000;">聚类示意图</div>
<div class="t" id="c2" style="left:475px;top:638.5px;font-size:29px;letter-spacing:-0.28px;font-weight:bold;-webkit-text-stroke:0.5px #000;">路缘石线拟合示意图</div>
<div class="t" id="c3" style="left:867px;top:638.5px;font-size:29px;letter-spacing:-0.28px;font-weight:bold;-webkit-text-stroke:0.5px #000;">路缘石线拟合效果图</div>
<div id="shade"></div>
</body></html>
